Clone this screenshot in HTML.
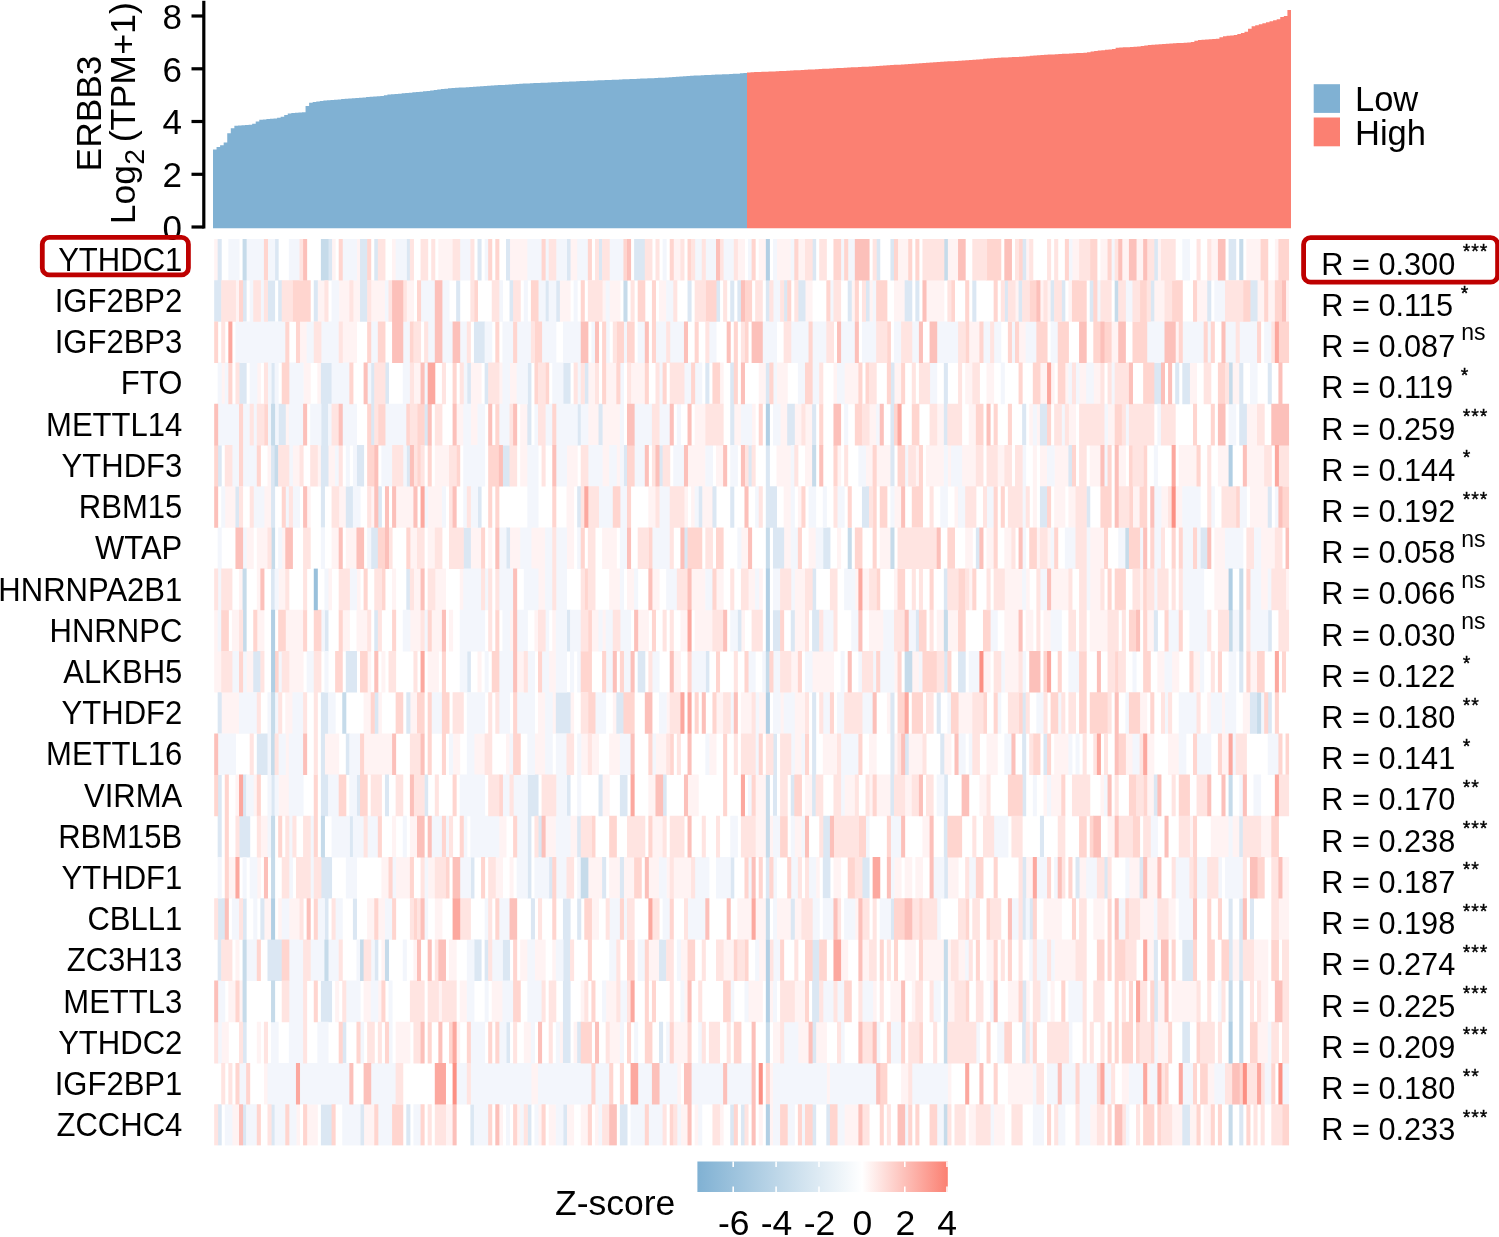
<!DOCTYPE html>
<html><head><meta charset="utf-8"><style>
html,body{margin:0;padding:0;background:#fff;overflow:hidden;}
svg{display:block;will-change:transform;}
text{font-family:"Liberation Sans", sans-serif;fill:#000;}
</style></head><body>
<svg width="1499" height="1237" viewBox="0 0 1499 1237">
<rect width="1499" height="1237" fill="#fff"/>
<!-- bars -->
<path fill="#80B1D3" d="M213,228.2V149.57H216.56V146.89H220.12V145.31H223.68V142.42H227.24V133.36H230.80V128.21H234.36V125.77H237.92V125.51H241.48V125.26H245.04V125.00H248.60V124.75H252.16V123.67H255.72V121.39H259.28V119.78H262.84V119.44H266.40V119.10H269.96V118.75H273.52V118.41H277.08V117.79H280.64V116.73H284.20V115.11H287.76V113.58H291.32V112.91H294.88V112.71H298.44V112.51H302.00V112.31H305.56V105.98H309.12V102.79H312.68V102.12H316.24V101.50H319.80V100.91H323.36V100.47H326.92V100.20H330.48V99.92H334.04V99.65H337.60V99.38H341.16V99.10H344.72V98.83H348.28V98.55H351.84V98.26H355.40V97.97H358.96V97.68H362.52V97.39H366.08V97.10H369.64V96.82H373.20V96.53H376.76V96.24H380.32V95.88H383.88V95.19H387.44V94.61H391.00V94.28H394.56V93.96H398.12V93.63H401.68V93.31H405.24V92.98H408.80V92.66H412.36V92.33H415.92V92.01H419.48V91.68H423.04V91.36H426.60V90.93H430.16V90.47H433.72V90.02H437.28V89.57H440.84V89.11H444.40V88.66H447.96V88.30H451.52V88.07H455.08V87.85H458.64V87.62H462.20V87.39H465.76V87.17H469.32V86.94H472.88V86.71H476.44V86.48H480.00V86.26H483.56V86.03H487.12V85.80H490.68V85.57H494.24V85.34H497.80V85.11H501.36V84.88H504.92V84.65H508.48V84.42H512.04V84.19H515.60V83.96H519.16V83.73H522.72V83.57H526.28V83.41H529.84V83.25H533.40V83.10H536.96V82.94H540.52V82.79H544.08V82.63H547.64V82.47H551.20V82.32H554.76V82.16H558.32V82.00H561.88V81.85H565.44V81.69H569.00V81.53H572.56V81.38H576.12V81.22H579.68V81.07H583.24V80.93H586.80V80.79H590.36V80.64H593.92V80.50H597.48V80.36H601.04V80.22H604.60V80.08H608.16V79.94H611.72V79.79H615.28V79.65H618.84V79.51H622.40V79.37H625.96V79.23H629.52V79.09H633.08V78.94H636.64V78.78H640.20V78.62H643.76V78.46H647.32V78.30H650.88V78.14H654.44V77.98H658.00V77.82H661.56V77.64H665.12V77.39H668.68V77.14H672.24V76.89H675.80V76.64H679.36V76.39H682.92V76.14H686.48V75.89H690.04V75.70H693.60V75.54H697.16V75.39H700.72V75.23H704.28V75.07H707.84V74.92H711.40V74.76H714.96V74.61H718.52V74.45H722.08V74.30H725.64V74.14H729.20V73.98H732.76V73.83H736.32V73.64H739.88V73.28H743.44V72.93H747.00V228.2Z"/>
<path fill="#FB8072" d="M747,228.2V72.39H750.58V72.25H754.16V72.11H757.74V71.97H761.32V71.83H764.89V71.70H768.47V71.56H772.05V71.42H775.63V71.28H779.21V71.12H782.79V70.93H786.37V70.74H789.95V70.55H793.53V70.36H797.11V70.16H800.68V69.97H804.26V69.78H807.84V69.59H811.42V69.40H815.00V69.21H818.58V69.02H822.16V68.83H825.74V68.64H829.32V68.45H832.89V68.27H836.47V68.09H840.05V67.91H843.63V67.72H847.21V67.54H850.79V67.36H854.37V67.18H857.95V67.00H861.53V66.82H865.11V66.63H868.68V66.45H872.26V66.24H875.84V66.01H879.42V65.78H883.00V65.56H886.58V65.33H890.16V65.10H893.74V64.87H897.32V64.65H900.89V64.42H904.47V64.19H908.05V63.97H911.63V63.74H915.21V63.51H918.79V63.28H922.37V63.06H925.95V62.81H929.53V62.57H933.11V62.33H936.68V62.09H940.26V61.85H943.84V61.61H947.42V61.37H951.00V61.13H954.58V60.89H958.16V60.65H961.74V60.41H965.32V60.16H968.89V59.92H972.47V59.68H976.05V59.42H979.63V59.14H983.21V58.87H986.79V58.59H990.37V58.32H993.95V58.04H997.53V57.77H1001.11V57.54H1004.68V57.38H1008.26V57.21H1011.84V57.05H1015.42V56.89H1019.00V56.73H1022.58V56.46H1026.16V56.15H1029.74V55.85H1033.32V55.54H1036.89V55.24H1040.47V54.96H1044.05V54.77H1047.63V54.59H1051.21V54.40H1054.79V54.21H1058.37V54.02H1061.95V53.84H1065.53V53.65H1069.11V53.46H1072.68V53.28H1076.26V53.09H1079.84V52.90H1083.42V52.71H1087.00V52.15H1090.58V51.55H1094.16V50.96H1097.74V50.50H1101.32V50.14H1104.89V49.78H1108.47V49.42H1112.05V48.93H1115.63V47.74H1119.21V47.55H1122.79V47.37H1126.37V47.18H1129.95V47.00H1133.53V46.81H1137.11V46.50H1140.68V45.99H1144.26V45.49H1147.84V44.99H1151.42V44.75H1155.00V44.51H1158.58V44.27H1162.16V44.03H1165.74V43.79H1169.32V43.55H1172.89V43.31H1176.47V43.12H1180.05V42.92H1183.63V42.73H1187.21V42.53H1190.79V42.02H1194.37V40.80H1197.95V39.94H1201.53V39.72H1205.11V39.50H1208.68V39.27H1212.26V39.05H1215.84V38.65H1219.42V37.32H1223.00V36.15H1226.58V35.85H1230.16V35.55H1233.74V34.95H1237.32V34.08H1240.89V32.98H1244.47V31.68H1248.05V28.70H1251.63V26.29H1255.21V25.15H1258.79V24.16H1262.37V23.19H1265.95V22.22H1269.53V21.25H1273.11V20.30H1276.68V19.36H1280.26V17.02H1283.84V16.10H1287.42V9.90H1291.00V228.2Z"/>
<!-- y axis -->
<g stroke="#000" stroke-width="3.2" fill="none">
<line x1="203.8" y1="0.8" x2="203.8" y2="228.5"/>
<line x1="191.5" y1="16" x2="203.8" y2="16"/>
<line x1="191.5" y1="68.8" x2="203.8" y2="68.8"/>
<line x1="191.5" y1="121.5" x2="203.8" y2="121.5"/>
<line x1="191.5" y1="174.3" x2="203.8" y2="174.3"/>
<line x1="191.5" y1="227" x2="203.8" y2="227"/>
</g>
<g font-size="35" text-anchor="end">
<text x="182" y="28.8">8</text>
<text x="182" y="81.6">6</text>
<text x="182" y="134.3">4</text>
<text x="182" y="187.1">2</text>
<text x="182" y="239.8">0</text>
</g>
<text font-size="35.3" transform="translate(101.3,171.4) rotate(-90)">ERBB3</text>
<g transform="translate(134.5,0) rotate(-90)">
<text font-size="35.5" x="-224.3" y="0">Log</text>
<text font-size="28.5" x="-164.8" y="9.7">2</text>
<text font-size="35.8" x="-142.3" y="0">(TPM+1)</text>
</g>
<!-- legend -->
<rect x="1313.7" y="84.2" width="26.3" height="28.7" fill="#80B1D3"/>
<rect x="1313.7" y="117.5" width="26.3" height="28.8" fill="#FB8072"/>
<text x="1355" y="111.4" font-size="34.5">Low</text>
<text x="1355" y="144.7" font-size="34.5">High</text>
<!-- heatmap -->
<filter id="hb" x="-1%" y="-1%" width="102%" height="102%"><feGaussianBlur stdDeviation="0.5"/></filter>
<clipPath id="hc"><rect x="214.1" y="239.0" width="1075.00" height="906.40"/></clipPath>
<g clip-path="url(#hc)"><g filter="url(#hb)">
<path fill="#fff3f3" d="M214.10 239.0h4.06v41.6h-4.06zM331.57 239.0h4.06v41.6h-4.06zM356.48 239.0h4.06v41.6h-4.06zM392.08 239.0h4.06v41.6h-4.06zM438.35 239.0h4.06v41.6h-4.06zM441.91 239.0h4.06v41.6h-4.06zM445.47 239.0h4.06v41.6h-4.06zM449.03 239.0h4.06v41.6h-4.06zM509.55 239.0h4.06v41.6h-4.06zM513.11 239.0h4.06v41.6h-4.06zM516.67 239.0h4.06v41.6h-4.06zM520.23 239.0h4.06v41.6h-4.06zM523.79 239.0h4.06v41.6h-4.06zM570.06 239.0h4.06v41.6h-4.06zM573.62 239.0h4.06v41.6h-4.06zM673.29 239.0h4.06v41.6h-4.06zM676.85 239.0h4.06v41.6h-4.06zM737.36 239.0h4.06v41.6h-4.06zM740.92 239.0h4.06v41.6h-4.06zM758.72 239.0h4.06v41.6h-4.06zM762.28 239.0h4.06v41.6h-4.06zM776.52 239.0h4.06v41.6h-4.06zM780.08 239.0h4.06v41.6h-4.06zM783.64 239.0h4.06v41.6h-4.06zM787.20 239.0h4.06v41.6h-4.06zM797.87 239.0h4.06v41.6h-4.06zM801.43 239.0h4.06v41.6h-4.06zM897.54 239.0h4.06v41.6h-4.06zM901.10 239.0h4.06v41.6h-4.06zM904.66 239.0h4.06v41.6h-4.06zM947.38 239.0h4.06v41.6h-4.06zM950.94 239.0h4.06v41.6h-4.06zM954.50 239.0h4.06v41.6h-4.06zM1025.69 239.0h4.06v41.6h-4.06zM1071.96 239.0h4.06v41.6h-4.06zM1075.52 239.0h4.06v41.6h-4.06zM1100.44 239.0h4.06v41.6h-4.06zM1104.00 239.0h4.06v41.6h-4.06zM1121.80 239.0h4.06v41.6h-4.06zM1125.36 239.0h4.06v41.6h-4.06zM1136.04 239.0h4.06v41.6h-4.06zM1139.60 239.0h4.06v41.6h-4.06zM1157.39 239.0h4.06v41.6h-4.06zM1210.79 239.0h4.06v41.6h-4.06zM1214.35 239.0h4.06v41.6h-4.06zM1246.38 239.0h4.06v41.6h-4.06zM1249.94 239.0h4.06v41.6h-4.06zM1253.50 239.0h4.06v41.6h-4.06zM1257.06 239.0h4.06v41.6h-4.06zM1274.86 239.0h4.06v41.6h-4.06zM235.46 280.2h4.06v41.6h-4.06zM317.33 280.2h4.06v41.6h-4.06zM320.89 280.2h4.06v41.6h-4.06zM338.69 280.2h4.06v41.6h-4.06zM342.25 280.2h4.06v41.6h-4.06zM345.81 280.2h4.06v41.6h-4.06zM352.92 280.2h4.06v41.6h-4.06zM356.48 280.2h4.06v41.6h-4.06zM370.72 280.2h4.06v41.6h-4.06zM374.28 280.2h4.06v41.6h-4.06zM377.84 280.2h4.06v41.6h-4.06zM381.40 280.2h4.06v41.6h-4.06zM406.32 280.2h4.06v41.6h-4.06zM409.88 280.2h4.06v41.6h-4.06zM559.38 280.2h4.06v41.6h-4.06zM562.94 280.2h4.06v41.6h-4.06zM566.50 280.2h4.06v41.6h-4.06zM602.10 280.2h4.06v41.6h-4.06zM609.22 280.2h4.06v41.6h-4.06zM612.78 280.2h4.06v41.6h-4.06zM616.34 280.2h4.06v41.6h-4.06zM659.05 280.2h4.06v41.6h-4.06zM662.61 280.2h4.06v41.6h-4.06zM804.99 280.2h4.06v41.6h-4.06zM808.55 280.2h4.06v41.6h-4.06zM851.27 280.2h4.06v41.6h-4.06zM869.07 280.2h4.06v41.6h-4.06zM893.98 280.2h4.06v41.6h-4.06zM897.54 280.2h4.06v41.6h-4.06zM901.10 280.2h4.06v41.6h-4.06zM926.02 280.2h4.06v41.6h-4.06zM929.58 280.2h4.06v41.6h-4.06zM933.14 280.2h4.06v41.6h-4.06zM936.70 280.2h4.06v41.6h-4.06zM940.26 280.2h4.06v41.6h-4.06zM1015.01 280.2h4.06v41.6h-4.06zM1039.93 280.2h4.06v41.6h-4.06zM1047.05 280.2h4.06v41.6h-4.06zM1068.40 280.2h4.06v41.6h-4.06zM1153.84 280.2h4.06v41.6h-4.06zM1157.39 280.2h4.06v41.6h-4.06zM1160.95 280.2h4.06v41.6h-4.06zM1196.55 280.2h4.06v41.6h-4.06zM1200.11 280.2h4.06v41.6h-4.06zM1203.67 280.2h4.06v41.6h-4.06zM1257.06 280.2h4.06v41.6h-4.06zM1260.62 280.2h4.06v41.6h-4.06zM1267.74 280.2h4.06v41.6h-4.06zM1271.30 280.2h4.06v41.6h-4.06zM1285.54 280.2h4.06v41.6h-4.06zM299.53 321.4h4.06v41.6h-4.06zM303.09 321.4h4.06v41.6h-4.06zM342.25 321.4h4.06v41.6h-4.06zM345.81 321.4h4.06v41.6h-4.06zM349.36 321.4h4.06v41.6h-4.06zM352.92 321.4h4.06v41.6h-4.06zM968.74 321.4h4.06v41.6h-4.06zM972.30 321.4h4.06v41.6h-4.06zM975.85 321.4h4.06v41.6h-4.06zM1018.57 321.4h4.06v41.6h-4.06zM1022.13 321.4h4.06v41.6h-4.06zM1111.12 321.4h4.06v41.6h-4.06zM1114.68 321.4h4.06v41.6h-4.06zM1175.19 321.4h4.06v41.6h-4.06zM221.22 362.6h4.06v41.6h-4.06zM256.82 362.6h4.06v41.6h-4.06zM303.09 362.6h4.06v41.6h-4.06zM306.65 362.6h4.06v41.6h-4.06zM317.33 362.6h4.06v41.6h-4.06zM413.44 362.6h4.06v41.6h-4.06zM417.00 362.6h4.06v41.6h-4.06zM470.39 362.6h4.06v41.6h-4.06zM473.95 362.6h4.06v41.6h-4.06zM477.51 362.6h4.06v41.6h-4.06zM498.87 362.6h4.06v41.6h-4.06zM509.55 362.6h4.06v41.6h-4.06zM513.11 362.6h4.06v41.6h-4.06zM587.86 362.6h4.06v41.6h-4.06zM591.42 362.6h4.06v41.6h-4.06zM605.66 362.6h4.06v41.6h-4.06zM609.22 362.6h4.06v41.6h-4.06zM612.78 362.6h4.06v41.6h-4.06zM630.57 362.6h4.06v41.6h-4.06zM634.13 362.6h4.06v41.6h-4.06zM637.69 362.6h4.06v41.6h-4.06zM641.25 362.6h4.06v41.6h-4.06zM719.56 362.6h4.06v41.6h-4.06zM758.72 362.6h4.06v41.6h-4.06zM762.28 362.6h4.06v41.6h-4.06zM776.52 362.6h4.06v41.6h-4.06zM780.08 362.6h4.06v41.6h-4.06zM783.64 362.6h4.06v41.6h-4.06zM833.47 362.6h4.06v41.6h-4.06zM844.15 362.6h4.06v41.6h-4.06zM847.71 362.6h4.06v41.6h-4.06zM851.27 362.6h4.06v41.6h-4.06zM854.83 362.6h4.06v41.6h-4.06zM893.98 362.6h4.06v41.6h-4.06zM897.54 362.6h4.06v41.6h-4.06zM965.18 362.6h4.06v41.6h-4.06zM968.74 362.6h4.06v41.6h-4.06zM986.53 362.6h4.06v41.6h-4.06zM990.09 362.6h4.06v41.6h-4.06zM1039.93 362.6h4.06v41.6h-4.06zM1043.49 362.6h4.06v41.6h-4.06zM1050.61 362.6h4.06v41.6h-4.06zM1064.85 362.6h4.06v41.6h-4.06zM1079.08 362.6h4.06v41.6h-4.06zM1082.64 362.6h4.06v41.6h-4.06zM1093.32 362.6h4.06v41.6h-4.06zM1096.88 362.6h4.06v41.6h-4.06zM1189.43 362.6h4.06v41.6h-4.06zM1192.99 362.6h4.06v41.6h-4.06zM1232.15 362.6h4.06v41.6h-4.06zM1235.71 362.6h4.06v41.6h-4.06zM285.29 403.8h4.06v41.6h-4.06zM456.15 403.8h4.06v41.6h-4.06zM459.71 403.8h4.06v41.6h-4.06zM470.39 403.8h4.06v41.6h-4.06zM473.95 403.8h4.06v41.6h-4.06zM520.23 403.8h4.06v41.6h-4.06zM523.79 403.8h4.06v41.6h-4.06zM587.86 403.8h4.06v41.6h-4.06zM591.42 403.8h4.06v41.6h-4.06zM594.98 403.8h4.06v41.6h-4.06zM602.10 403.8h4.06v41.6h-4.06zM605.66 403.8h4.06v41.6h-4.06zM609.22 403.8h4.06v41.6h-4.06zM612.78 403.8h4.06v41.6h-4.06zM616.34 403.8h4.06v41.6h-4.06zM694.65 403.8h4.06v41.6h-4.06zM698.21 403.8h4.06v41.6h-4.06zM701.77 403.8h4.06v41.6h-4.06zM733.80 403.8h4.06v41.6h-4.06zM737.36 403.8h4.06v41.6h-4.06zM751.60 403.8h4.06v41.6h-4.06zM780.08 403.8h4.06v41.6h-4.06zM783.64 403.8h4.06v41.6h-4.06zM794.32 403.8h4.06v41.6h-4.06zM797.87 403.8h4.06v41.6h-4.06zM804.99 403.8h4.06v41.6h-4.06zM808.55 403.8h4.06v41.6h-4.06zM869.07 403.8h4.06v41.6h-4.06zM872.63 403.8h4.06v41.6h-4.06zM936.70 403.8h4.06v41.6h-4.06zM940.26 403.8h4.06v41.6h-4.06zM968.74 403.8h4.06v41.6h-4.06zM972.30 403.8h4.06v41.6h-4.06zM1029.25 403.8h4.06v41.6h-4.06zM1036.37 403.8h4.06v41.6h-4.06zM1068.40 403.8h4.06v41.6h-4.06zM1071.96 403.8h4.06v41.6h-4.06zM1107.56 403.8h4.06v41.6h-4.06zM1111.12 403.8h4.06v41.6h-4.06zM1246.38 403.8h4.06v41.6h-4.06zM1249.94 403.8h4.06v41.6h-4.06zM1253.50 403.8h4.06v41.6h-4.06zM267.49 445.0h4.06v41.6h-4.06zM292.41 445.0h4.06v41.6h-4.06zM295.97 445.0h4.06v41.6h-4.06zM317.33 445.0h4.06v41.6h-4.06zM328.01 445.0h4.06v41.6h-4.06zM331.57 445.0h4.06v41.6h-4.06zM434.80 445.0h4.06v41.6h-4.06zM438.35 445.0h4.06v41.6h-4.06zM441.91 445.0h4.06v41.6h-4.06zM445.47 445.0h4.06v41.6h-4.06zM520.23 445.0h4.06v41.6h-4.06zM523.79 445.0h4.06v41.6h-4.06zM566.50 445.0h4.06v41.6h-4.06zM570.06 445.0h4.06v41.6h-4.06zM573.62 445.0h4.06v41.6h-4.06zM602.10 445.0h4.06v41.6h-4.06zM605.66 445.0h4.06v41.6h-4.06zM616.34 445.0h4.06v41.6h-4.06zM687.53 445.0h4.06v41.6h-4.06zM691.09 445.0h4.06v41.6h-4.06zM694.65 445.0h4.06v41.6h-4.06zM698.21 445.0h4.06v41.6h-4.06zM701.77 445.0h4.06v41.6h-4.06zM716.00 445.0h4.06v41.6h-4.06zM719.56 445.0h4.06v41.6h-4.06zM776.52 445.0h4.06v41.6h-4.06zM780.08 445.0h4.06v41.6h-4.06zM783.64 445.0h4.06v41.6h-4.06zM787.20 445.0h4.06v41.6h-4.06zM804.99 445.0h4.06v41.6h-4.06zM808.55 445.0h4.06v41.6h-4.06zM837.03 445.0h4.06v41.6h-4.06zM865.51 445.0h4.06v41.6h-4.06zM869.07 445.0h4.06v41.6h-4.06zM876.19 445.0h4.06v41.6h-4.06zM879.75 445.0h4.06v41.6h-4.06zM883.31 445.0h4.06v41.6h-4.06zM886.86 445.0h4.06v41.6h-4.06zM915.34 445.0h4.06v41.6h-4.06zM926.02 445.0h4.06v41.6h-4.06zM929.58 445.0h4.06v41.6h-4.06zM933.14 445.0h4.06v41.6h-4.06zM936.70 445.0h4.06v41.6h-4.06zM940.26 445.0h4.06v41.6h-4.06zM947.38 445.0h4.06v41.6h-4.06zM961.62 445.0h4.06v41.6h-4.06zM965.18 445.0h4.06v41.6h-4.06zM968.74 445.0h4.06v41.6h-4.06zM972.30 445.0h4.06v41.6h-4.06zM997.21 445.0h4.06v41.6h-4.06zM1000.77 445.0h4.06v41.6h-4.06zM1032.81 445.0h4.06v41.6h-4.06zM1039.93 445.0h4.06v41.6h-4.06zM1043.49 445.0h4.06v41.6h-4.06zM1054.17 445.0h4.06v41.6h-4.06zM1057.73 445.0h4.06v41.6h-4.06zM1061.29 445.0h4.06v41.6h-4.06zM1064.85 445.0h4.06v41.6h-4.06zM1089.76 445.0h4.06v41.6h-4.06zM1093.32 445.0h4.06v41.6h-4.06zM1096.88 445.0h4.06v41.6h-4.06zM1118.24 445.0h4.06v41.6h-4.06zM1121.80 445.0h4.06v41.6h-4.06zM1178.75 445.0h4.06v41.6h-4.06zM1182.31 445.0h4.06v41.6h-4.06zM1185.87 445.0h4.06v41.6h-4.06zM1189.43 445.0h4.06v41.6h-4.06zM1192.99 445.0h4.06v41.6h-4.06zM1217.91 445.0h4.06v41.6h-4.06zM1221.47 445.0h4.06v41.6h-4.06zM1225.03 445.0h4.06v41.6h-4.06zM1246.38 445.0h4.06v41.6h-4.06zM1249.94 445.0h4.06v41.6h-4.06zM1253.50 445.0h4.06v41.6h-4.06zM1257.06 445.0h4.06v41.6h-4.06zM1260.62 445.0h4.06v41.6h-4.06zM224.78 486.2h4.06v41.6h-4.06zM228.34 486.2h4.06v41.6h-4.06zM231.90 486.2h4.06v41.6h-4.06zM263.93 486.2h4.06v41.6h-4.06zM267.49 486.2h4.06v41.6h-4.06zM306.65 486.2h4.06v41.6h-4.06zM338.69 486.2h4.06v41.6h-4.06zM342.25 486.2h4.06v41.6h-4.06zM370.72 486.2h4.06v41.6h-4.06zM395.64 486.2h4.06v41.6h-4.06zM399.20 486.2h4.06v41.6h-4.06zM402.76 486.2h4.06v41.6h-4.06zM406.32 486.2h4.06v41.6h-4.06zM409.88 486.2h4.06v41.6h-4.06zM427.68 486.2h4.06v41.6h-4.06zM431.24 486.2h4.06v41.6h-4.06zM434.80 486.2h4.06v41.6h-4.06zM438.35 486.2h4.06v41.6h-4.06zM566.50 486.2h4.06v41.6h-4.06zM570.06 486.2h4.06v41.6h-4.06zM648.37 486.2h4.06v41.6h-4.06zM651.93 486.2h4.06v41.6h-4.06zM683.97 486.2h4.06v41.6h-4.06zM691.09 486.2h4.06v41.6h-4.06zM701.77 486.2h4.06v41.6h-4.06zM705.33 486.2h4.06v41.6h-4.06zM708.88 486.2h4.06v41.6h-4.06zM783.64 486.2h4.06v41.6h-4.06zM787.20 486.2h4.06v41.6h-4.06zM797.87 486.2h4.06v41.6h-4.06zM893.98 486.2h4.06v41.6h-4.06zM897.54 486.2h4.06v41.6h-4.06zM954.50 486.2h4.06v41.6h-4.06zM1032.81 486.2h4.06v41.6h-4.06zM1054.17 486.2h4.06v41.6h-4.06zM1057.73 486.2h4.06v41.6h-4.06zM1061.29 486.2h4.06v41.6h-4.06zM1068.40 486.2h4.06v41.6h-4.06zM1071.96 486.2h4.06v41.6h-4.06zM1132.48 486.2h4.06v41.6h-4.06zM1136.04 486.2h4.06v41.6h-4.06zM1160.95 486.2h4.06v41.6h-4.06zM1164.51 486.2h4.06v41.6h-4.06zM1175.19 486.2h4.06v41.6h-4.06zM1178.75 486.2h4.06v41.6h-4.06zM1249.94 486.2h4.06v41.6h-4.06zM1253.50 486.2h4.06v41.6h-4.06zM1257.06 486.2h4.06v41.6h-4.06zM1260.62 486.2h4.06v41.6h-4.06zM1264.18 486.2h4.06v41.6h-4.06zM246.14 527.4h4.06v41.6h-4.06zM249.70 527.4h4.06v41.6h-4.06zM256.82 527.4h4.06v41.6h-4.06zM260.37 527.4h4.06v41.6h-4.06zM263.93 527.4h4.06v41.6h-4.06zM281.73 527.4h4.06v41.6h-4.06zM331.57 527.4h4.06v41.6h-4.06zM335.13 527.4h4.06v41.6h-4.06zM345.81 527.4h4.06v41.6h-4.06zM349.36 527.4h4.06v41.6h-4.06zM352.92 527.4h4.06v41.6h-4.06zM409.88 527.4h4.06v41.6h-4.06zM413.44 527.4h4.06v41.6h-4.06zM427.68 527.4h4.06v41.6h-4.06zM431.24 527.4h4.06v41.6h-4.06zM470.39 527.4h4.06v41.6h-4.06zM473.95 527.4h4.06v41.6h-4.06zM477.51 527.4h4.06v41.6h-4.06zM488.19 527.4h4.06v41.6h-4.06zM509.55 527.4h4.06v41.6h-4.06zM513.11 527.4h4.06v41.6h-4.06zM516.67 527.4h4.06v41.6h-4.06zM530.90 527.4h4.06v41.6h-4.06zM534.46 527.4h4.06v41.6h-4.06zM538.02 527.4h4.06v41.6h-4.06zM541.58 527.4h4.06v41.6h-4.06zM566.50 527.4h4.06v41.6h-4.06zM570.06 527.4h4.06v41.6h-4.06zM602.10 527.4h4.06v41.6h-4.06zM605.66 527.4h4.06v41.6h-4.06zM609.22 527.4h4.06v41.6h-4.06zM612.78 527.4h4.06v41.6h-4.06zM740.92 527.4h4.06v41.6h-4.06zM744.48 527.4h4.06v41.6h-4.06zM783.64 527.4h4.06v41.6h-4.06zM787.20 527.4h4.06v41.6h-4.06zM808.55 527.4h4.06v41.6h-4.06zM812.11 527.4h4.06v41.6h-4.06zM837.03 527.4h4.06v41.6h-4.06zM879.75 527.4h4.06v41.6h-4.06zM883.31 527.4h4.06v41.6h-4.06zM886.86 527.4h4.06v41.6h-4.06zM965.18 527.4h4.06v41.6h-4.06zM968.74 527.4h4.06v41.6h-4.06zM986.53 527.4h4.06v41.6h-4.06zM990.09 527.4h4.06v41.6h-4.06zM1004.33 527.4h4.06v41.6h-4.06zM1007.89 527.4h4.06v41.6h-4.06zM1036.37 527.4h4.06v41.6h-4.06zM1047.05 527.4h4.06v41.6h-4.06zM1089.76 527.4h4.06v41.6h-4.06zM1093.32 527.4h4.06v41.6h-4.06zM1096.88 527.4h4.06v41.6h-4.06zM1100.44 527.4h4.06v41.6h-4.06zM1214.35 527.4h4.06v41.6h-4.06zM1217.91 527.4h4.06v41.6h-4.06zM1221.47 527.4h4.06v41.6h-4.06zM1260.62 527.4h4.06v41.6h-4.06zM1264.18 527.4h4.06v41.6h-4.06zM1267.74 527.4h4.06v41.6h-4.06zM1271.30 527.4h4.06v41.6h-4.06zM239.02 568.6h4.06v41.6h-4.06zM256.82 568.6h4.06v41.6h-4.06zM278.17 568.6h4.06v41.6h-4.06zM281.73 568.6h4.06v41.6h-4.06zM328.01 568.6h4.06v41.6h-4.06zM356.48 568.6h4.06v41.6h-4.06zM392.08 568.6h4.06v41.6h-4.06zM413.44 568.6h4.06v41.6h-4.06zM417.00 568.6h4.06v41.6h-4.06zM434.80 568.6h4.06v41.6h-4.06zM438.35 568.6h4.06v41.6h-4.06zM441.91 568.6h4.06v41.6h-4.06zM459.71 568.6h4.06v41.6h-4.06zM538.02 568.6h4.06v41.6h-4.06zM541.58 568.6h4.06v41.6h-4.06zM609.22 568.6h4.06v41.6h-4.06zM612.78 568.6h4.06v41.6h-4.06zM616.34 568.6h4.06v41.6h-4.06zM627.01 568.6h4.06v41.6h-4.06zM630.57 568.6h4.06v41.6h-4.06zM651.93 568.6h4.06v41.6h-4.06zM655.49 568.6h4.06v41.6h-4.06zM691.09 568.6h4.06v41.6h-4.06zM694.65 568.6h4.06v41.6h-4.06zM698.21 568.6h4.06v41.6h-4.06zM701.77 568.6h4.06v41.6h-4.06zM716.00 568.6h4.06v41.6h-4.06zM719.56 568.6h4.06v41.6h-4.06zM748.04 568.6h4.06v41.6h-4.06zM751.60 568.6h4.06v41.6h-4.06zM758.72 568.6h4.06v41.6h-4.06zM794.32 568.6h4.06v41.6h-4.06zM797.87 568.6h4.06v41.6h-4.06zM801.43 568.6h4.06v41.6h-4.06zM854.83 568.6h4.06v41.6h-4.06zM861.95 568.6h4.06v41.6h-4.06zM865.51 568.6h4.06v41.6h-4.06zM893.98 568.6h4.06v41.6h-4.06zM968.74 568.6h4.06v41.6h-4.06zM1004.33 568.6h4.06v41.6h-4.06zM1007.89 568.6h4.06v41.6h-4.06zM1011.45 568.6h4.06v41.6h-4.06zM1015.01 568.6h4.06v41.6h-4.06zM1018.57 568.6h4.06v41.6h-4.06zM1025.69 568.6h4.06v41.6h-4.06zM1050.61 568.6h4.06v41.6h-4.06zM1054.17 568.6h4.06v41.6h-4.06zM1057.73 568.6h4.06v41.6h-4.06zM1061.29 568.6h4.06v41.6h-4.06zM1064.85 568.6h4.06v41.6h-4.06zM1089.76 568.6h4.06v41.6h-4.06zM1093.32 568.6h4.06v41.6h-4.06zM1096.88 568.6h4.06v41.6h-4.06zM1139.60 568.6h4.06v41.6h-4.06zM1214.35 568.6h4.06v41.6h-4.06zM1217.91 568.6h4.06v41.6h-4.06zM1221.47 568.6h4.06v41.6h-4.06zM1225.03 568.6h4.06v41.6h-4.06zM1260.62 568.6h4.06v41.6h-4.06zM1264.18 568.6h4.06v41.6h-4.06zM1285.54 568.6h4.06v41.6h-4.06zM214.10 609.8h4.06v41.6h-4.06zM231.90 609.8h4.06v41.6h-4.06zM235.46 609.8h4.06v41.6h-4.06zM256.82 609.8h4.06v41.6h-4.06zM260.37 609.8h4.06v41.6h-4.06zM285.29 609.8h4.06v41.6h-4.06zM288.85 609.8h4.06v41.6h-4.06zM292.41 609.8h4.06v41.6h-4.06zM295.97 609.8h4.06v41.6h-4.06zM299.53 609.8h4.06v41.6h-4.06zM342.25 609.8h4.06v41.6h-4.06zM345.81 609.8h4.06v41.6h-4.06zM356.48 609.8h4.06v41.6h-4.06zM360.04 609.8h4.06v41.6h-4.06zM363.60 609.8h4.06v41.6h-4.06zM409.88 609.8h4.06v41.6h-4.06zM413.44 609.8h4.06v41.6h-4.06zM417.00 609.8h4.06v41.6h-4.06zM431.24 609.8h4.06v41.6h-4.06zM434.80 609.8h4.06v41.6h-4.06zM438.35 609.8h4.06v41.6h-4.06zM449.03 609.8h4.06v41.6h-4.06zM509.55 609.8h4.06v41.6h-4.06zM534.46 609.8h4.06v41.6h-4.06zM552.26 609.8h4.06v41.6h-4.06zM591.42 609.8h4.06v41.6h-4.06zM594.98 609.8h4.06v41.6h-4.06zM602.10 609.8h4.06v41.6h-4.06zM637.69 609.8h4.06v41.6h-4.06zM641.25 609.8h4.06v41.6h-4.06zM644.81 609.8h4.06v41.6h-4.06zM680.41 609.8h4.06v41.6h-4.06zM683.97 609.8h4.06v41.6h-4.06zM694.65 609.8h4.06v41.6h-4.06zM698.21 609.8h4.06v41.6h-4.06zM701.77 609.8h4.06v41.6h-4.06zM705.33 609.8h4.06v41.6h-4.06zM708.88 609.8h4.06v41.6h-4.06zM740.92 609.8h4.06v41.6h-4.06zM794.32 609.8h4.06v41.6h-4.06zM797.87 609.8h4.06v41.6h-4.06zM801.43 609.8h4.06v41.6h-4.06zM869.07 609.8h4.06v41.6h-4.06zM872.63 609.8h4.06v41.6h-4.06zM876.19 609.8h4.06v41.6h-4.06zM879.75 609.8h4.06v41.6h-4.06zM936.70 609.8h4.06v41.6h-4.06zM940.26 609.8h4.06v41.6h-4.06zM947.38 609.8h4.06v41.6h-4.06zM950.94 609.8h4.06v41.6h-4.06zM954.50 609.8h4.06v41.6h-4.06zM1004.33 609.8h4.06v41.6h-4.06zM1007.89 609.8h4.06v41.6h-4.06zM1011.45 609.8h4.06v41.6h-4.06zM1015.01 609.8h4.06v41.6h-4.06zM1025.69 609.8h4.06v41.6h-4.06zM1029.25 609.8h4.06v41.6h-4.06zM1043.49 609.8h4.06v41.6h-4.06zM1047.05 609.8h4.06v41.6h-4.06zM1089.76 609.8h4.06v41.6h-4.06zM1093.32 609.8h4.06v41.6h-4.06zM1096.88 609.8h4.06v41.6h-4.06zM1100.44 609.8h4.06v41.6h-4.06zM1104.00 609.8h4.06v41.6h-4.06zM1146.72 609.8h4.06v41.6h-4.06zM1150.28 609.8h4.06v41.6h-4.06zM214.10 651.0h4.06v41.6h-4.06zM217.66 651.0h4.06v41.6h-4.06zM246.14 651.0h4.06v41.6h-4.06zM249.70 651.0h4.06v41.6h-4.06zM288.85 651.0h4.06v41.6h-4.06zM292.41 651.0h4.06v41.6h-4.06zM295.97 651.0h4.06v41.6h-4.06zM299.53 651.0h4.06v41.6h-4.06zM367.16 651.0h4.06v41.6h-4.06zM381.40 651.0h4.06v41.6h-4.06zM427.68 651.0h4.06v41.6h-4.06zM431.24 651.0h4.06v41.6h-4.06zM434.80 651.0h4.06v41.6h-4.06zM477.51 651.0h4.06v41.6h-4.06zM516.67 651.0h4.06v41.6h-4.06zM520.23 651.0h4.06v41.6h-4.06zM548.70 651.0h4.06v41.6h-4.06zM552.26 651.0h4.06v41.6h-4.06zM673.29 651.0h4.06v41.6h-4.06zM676.85 651.0h4.06v41.6h-4.06zM790.76 651.0h4.06v41.6h-4.06zM794.32 651.0h4.06v41.6h-4.06zM812.11 651.0h4.06v41.6h-4.06zM815.67 651.0h4.06v41.6h-4.06zM819.23 651.0h4.06v41.6h-4.06zM822.79 651.0h4.06v41.6h-4.06zM826.35 651.0h4.06v41.6h-4.06zM829.91 651.0h4.06v41.6h-4.06zM893.98 651.0h4.06v41.6h-4.06zM911.78 651.0h4.06v41.6h-4.06zM915.34 651.0h4.06v41.6h-4.06zM982.97 651.0h4.06v41.6h-4.06zM986.53 651.0h4.06v41.6h-4.06zM1004.33 651.0h4.06v41.6h-4.06zM1007.89 651.0h4.06v41.6h-4.06zM1011.45 651.0h4.06v41.6h-4.06zM1015.01 651.0h4.06v41.6h-4.06zM1157.39 651.0h4.06v41.6h-4.06zM1160.95 651.0h4.06v41.6h-4.06zM1171.63 651.0h4.06v41.6h-4.06zM1175.19 651.0h4.06v41.6h-4.06zM1192.99 651.0h4.06v41.6h-4.06zM1196.55 651.0h4.06v41.6h-4.06zM1249.94 651.0h4.06v41.6h-4.06zM1253.50 651.0h4.06v41.6h-4.06zM221.22 692.2h4.06v41.6h-4.06zM224.78 692.2h4.06v41.6h-4.06zM228.34 692.2h4.06v41.6h-4.06zM231.90 692.2h4.06v41.6h-4.06zM235.46 692.2h4.06v41.6h-4.06zM285.29 692.2h4.06v41.6h-4.06zM288.85 692.2h4.06v41.6h-4.06zM363.60 692.2h4.06v41.6h-4.06zM367.16 692.2h4.06v41.6h-4.06zM377.84 692.2h4.06v41.6h-4.06zM409.88 692.2h4.06v41.6h-4.06zM413.44 692.2h4.06v41.6h-4.06zM538.02 692.2h4.06v41.6h-4.06zM541.58 692.2h4.06v41.6h-4.06zM552.26 692.2h4.06v41.6h-4.06zM570.06 692.2h4.06v41.6h-4.06zM612.78 692.2h4.06v41.6h-4.06zM666.17 692.2h4.06v41.6h-4.06zM716.00 692.2h4.06v41.6h-4.06zM719.56 692.2h4.06v41.6h-4.06zM740.92 692.2h4.06v41.6h-4.06zM744.48 692.2h4.06v41.6h-4.06zM748.04 692.2h4.06v41.6h-4.06zM758.72 692.2h4.06v41.6h-4.06zM762.28 692.2h4.06v41.6h-4.06zM780.08 692.2h4.06v41.6h-4.06zM794.32 692.2h4.06v41.6h-4.06zM797.87 692.2h4.06v41.6h-4.06zM801.43 692.2h4.06v41.6h-4.06zM886.86 692.2h4.06v41.6h-4.06zM958.06 692.2h4.06v41.6h-4.06zM961.62 692.2h4.06v41.6h-4.06zM965.18 692.2h4.06v41.6h-4.06zM968.74 692.2h4.06v41.6h-4.06zM1139.60 692.2h4.06v41.6h-4.06zM1143.16 692.2h4.06v41.6h-4.06zM1207.23 692.2h4.06v41.6h-4.06zM1221.47 692.2h4.06v41.6h-4.06zM1242.83 692.2h4.06v41.6h-4.06zM1246.38 692.2h4.06v41.6h-4.06zM285.29 733.4h4.06v41.6h-4.06zM324.45 733.4h4.06v41.6h-4.06zM328.01 733.4h4.06v41.6h-4.06zM331.57 733.4h4.06v41.6h-4.06zM335.13 733.4h4.06v41.6h-4.06zM363.60 733.4h4.06v41.6h-4.06zM367.16 733.4h4.06v41.6h-4.06zM370.72 733.4h4.06v41.6h-4.06zM374.28 733.4h4.06v41.6h-4.06zM377.84 733.4h4.06v41.6h-4.06zM381.40 733.4h4.06v41.6h-4.06zM384.96 733.4h4.06v41.6h-4.06zM388.52 733.4h4.06v41.6h-4.06zM452.59 733.4h4.06v41.6h-4.06zM456.15 733.4h4.06v41.6h-4.06zM473.95 733.4h4.06v41.6h-4.06zM477.51 733.4h4.06v41.6h-4.06zM481.07 733.4h4.06v41.6h-4.06zM505.99 733.4h4.06v41.6h-4.06zM534.46 733.4h4.06v41.6h-4.06zM538.02 733.4h4.06v41.6h-4.06zM541.58 733.4h4.06v41.6h-4.06zM580.74 733.4h4.06v41.6h-4.06zM584.30 733.4h4.06v41.6h-4.06zM591.42 733.4h4.06v41.6h-4.06zM594.98 733.4h4.06v41.6h-4.06zM609.22 733.4h4.06v41.6h-4.06zM612.78 733.4h4.06v41.6h-4.06zM616.34 733.4h4.06v41.6h-4.06zM655.49 733.4h4.06v41.6h-4.06zM659.05 733.4h4.06v41.6h-4.06zM662.61 733.4h4.06v41.6h-4.06zM708.88 733.4h4.06v41.6h-4.06zM712.44 733.4h4.06v41.6h-4.06zM794.32 733.4h4.06v41.6h-4.06zM797.87 733.4h4.06v41.6h-4.06zM822.79 733.4h4.06v41.6h-4.06zM826.35 733.4h4.06v41.6h-4.06zM829.91 733.4h4.06v41.6h-4.06zM833.47 733.4h4.06v41.6h-4.06zM869.07 733.4h4.06v41.6h-4.06zM872.63 733.4h4.06v41.6h-4.06zM893.98 733.4h4.06v41.6h-4.06zM908.22 733.4h4.06v41.6h-4.06zM911.78 733.4h4.06v41.6h-4.06zM915.34 733.4h4.06v41.6h-4.06zM918.90 733.4h4.06v41.6h-4.06zM943.82 733.4h4.06v41.6h-4.06zM947.38 733.4h4.06v41.6h-4.06zM986.53 733.4h4.06v41.6h-4.06zM990.09 733.4h4.06v41.6h-4.06zM993.65 733.4h4.06v41.6h-4.06zM1054.17 733.4h4.06v41.6h-4.06zM1057.73 733.4h4.06v41.6h-4.06zM1061.29 733.4h4.06v41.6h-4.06zM1064.85 733.4h4.06v41.6h-4.06zM1125.36 733.4h4.06v41.6h-4.06zM1128.92 733.4h4.06v41.6h-4.06zM1146.72 733.4h4.06v41.6h-4.06zM1150.28 733.4h4.06v41.6h-4.06zM1168.07 733.4h4.06v41.6h-4.06zM1171.63 733.4h4.06v41.6h-4.06zM1175.19 733.4h4.06v41.6h-4.06zM1221.47 733.4h4.06v41.6h-4.06zM1225.03 733.4h4.06v41.6h-4.06zM235.46 774.6h4.06v41.6h-4.06zM253.26 774.6h4.06v41.6h-4.06zM278.17 774.6h4.06v41.6h-4.06zM281.73 774.6h4.06v41.6h-4.06zM285.29 774.6h4.06v41.6h-4.06zM602.10 774.6h4.06v41.6h-4.06zM605.66 774.6h4.06v41.6h-4.06zM648.37 774.6h4.06v41.6h-4.06zM651.93 774.6h4.06v41.6h-4.06zM687.53 774.6h4.06v41.6h-4.06zM691.09 774.6h4.06v41.6h-4.06zM694.65 774.6h4.06v41.6h-4.06zM755.16 774.6h4.06v41.6h-4.06zM758.72 774.6h4.06v41.6h-4.06zM762.28 774.6h4.06v41.6h-4.06zM804.99 774.6h4.06v41.6h-4.06zM808.55 774.6h4.06v41.6h-4.06zM844.15 774.6h4.06v41.6h-4.06zM847.71 774.6h4.06v41.6h-4.06zM851.27 774.6h4.06v41.6h-4.06zM869.07 774.6h4.06v41.6h-4.06zM876.19 774.6h4.06v41.6h-4.06zM879.75 774.6h4.06v41.6h-4.06zM883.31 774.6h4.06v41.6h-4.06zM886.86 774.6h4.06v41.6h-4.06zM904.66 774.6h4.06v41.6h-4.06zM908.22 774.6h4.06v41.6h-4.06zM979.41 774.6h4.06v41.6h-4.06zM982.97 774.6h4.06v41.6h-4.06zM1043.49 774.6h4.06v41.6h-4.06zM1050.61 774.6h4.06v41.6h-4.06zM1054.17 774.6h4.06v41.6h-4.06zM1057.73 774.6h4.06v41.6h-4.06zM1100.44 774.6h4.06v41.6h-4.06zM1146.72 774.6h4.06v41.6h-4.06zM1150.28 774.6h4.06v41.6h-4.06zM260.37 815.8h4.06v41.6h-4.06zM263.93 815.8h4.06v41.6h-4.06zM392.08 815.8h4.06v41.6h-4.06zM409.88 815.8h4.06v41.6h-4.06zM413.44 815.8h4.06v41.6h-4.06zM498.87 815.8h4.06v41.6h-4.06zM502.43 815.8h4.06v41.6h-4.06zM545.14 815.8h4.06v41.6h-4.06zM548.70 815.8h4.06v41.6h-4.06zM552.26 815.8h4.06v41.6h-4.06zM570.06 815.8h4.06v41.6h-4.06zM573.62 815.8h4.06v41.6h-4.06zM651.93 815.8h4.06v41.6h-4.06zM655.49 815.8h4.06v41.6h-4.06zM659.05 815.8h4.06v41.6h-4.06zM755.16 815.8h4.06v41.6h-4.06zM758.72 815.8h4.06v41.6h-4.06zM762.28 815.8h4.06v41.6h-4.06zM769.40 815.8h4.06v41.6h-4.06zM794.32 815.8h4.06v41.6h-4.06zM797.87 815.8h4.06v41.6h-4.06zM922.46 815.8h4.06v41.6h-4.06zM926.02 815.8h4.06v41.6h-4.06zM1107.56 815.8h4.06v41.6h-4.06zM1111.12 815.8h4.06v41.6h-4.06zM1189.43 815.8h4.06v41.6h-4.06zM1210.79 815.8h4.06v41.6h-4.06zM1214.35 815.8h4.06v41.6h-4.06zM1217.91 815.8h4.06v41.6h-4.06zM1221.47 815.8h4.06v41.6h-4.06zM1225.03 815.8h4.06v41.6h-4.06zM1232.15 815.8h4.06v41.6h-4.06zM1235.71 815.8h4.06v41.6h-4.06zM1260.62 815.8h4.06v41.6h-4.06zM1264.18 815.8h4.06v41.6h-4.06zM1267.74 815.8h4.06v41.6h-4.06zM228.34 857.0h4.06v41.6h-4.06zM231.90 857.0h4.06v41.6h-4.06zM256.82 857.0h4.06v41.6h-4.06zM381.40 857.0h4.06v41.6h-4.06zM384.96 857.0h4.06v41.6h-4.06zM395.64 857.0h4.06v41.6h-4.06zM399.20 857.0h4.06v41.6h-4.06zM402.76 857.0h4.06v41.6h-4.06zM406.32 857.0h4.06v41.6h-4.06zM427.68 857.0h4.06v41.6h-4.06zM431.24 857.0h4.06v41.6h-4.06zM495.31 857.0h4.06v41.6h-4.06zM498.87 857.0h4.06v41.6h-4.06zM509.55 857.0h4.06v41.6h-4.06zM587.86 857.0h4.06v41.6h-4.06zM591.42 857.0h4.06v41.6h-4.06zM594.98 857.0h4.06v41.6h-4.06zM598.54 857.0h4.06v41.6h-4.06zM609.22 857.0h4.06v41.6h-4.06zM612.78 857.0h4.06v41.6h-4.06zM616.34 857.0h4.06v41.6h-4.06zM623.45 857.0h4.06v41.6h-4.06zM627.01 857.0h4.06v41.6h-4.06zM630.57 857.0h4.06v41.6h-4.06zM648.37 857.0h4.06v41.6h-4.06zM651.93 857.0h4.06v41.6h-4.06zM655.49 857.0h4.06v41.6h-4.06zM666.17 857.0h4.06v41.6h-4.06zM673.29 857.0h4.06v41.6h-4.06zM676.85 857.0h4.06v41.6h-4.06zM680.41 857.0h4.06v41.6h-4.06zM683.97 857.0h4.06v41.6h-4.06zM687.53 857.0h4.06v41.6h-4.06zM815.67 857.0h4.06v41.6h-4.06zM833.47 857.0h4.06v41.6h-4.06zM837.03 857.0h4.06v41.6h-4.06zM893.98 857.0h4.06v41.6h-4.06zM897.54 857.0h4.06v41.6h-4.06zM904.66 857.0h4.06v41.6h-4.06zM908.22 857.0h4.06v41.6h-4.06zM915.34 857.0h4.06v41.6h-4.06zM918.90 857.0h4.06v41.6h-4.06zM947.38 857.0h4.06v41.6h-4.06zM950.94 857.0h4.06v41.6h-4.06zM954.50 857.0h4.06v41.6h-4.06zM1025.69 857.0h4.06v41.6h-4.06zM1029.25 857.0h4.06v41.6h-4.06zM1079.08 857.0h4.06v41.6h-4.06zM1082.64 857.0h4.06v41.6h-4.06zM1128.92 857.0h4.06v41.6h-4.06zM1132.48 857.0h4.06v41.6h-4.06zM1136.04 857.0h4.06v41.6h-4.06zM1146.72 857.0h4.06v41.6h-4.06zM1150.28 857.0h4.06v41.6h-4.06zM1153.84 857.0h4.06v41.6h-4.06zM1281.98 857.0h4.06v41.6h-4.06zM1285.54 857.0h4.06v41.6h-4.06zM263.93 898.2h4.06v41.6h-4.06zM267.49 898.2h4.06v41.6h-4.06zM278.17 898.2h4.06v41.6h-4.06zM288.85 898.2h4.06v41.6h-4.06zM292.41 898.2h4.06v41.6h-4.06zM295.97 898.2h4.06v41.6h-4.06zM367.16 898.2h4.06v41.6h-4.06zM370.72 898.2h4.06v41.6h-4.06zM377.84 898.2h4.06v41.6h-4.06zM381.40 898.2h4.06v41.6h-4.06zM434.80 898.2h4.06v41.6h-4.06zM438.35 898.2h4.06v41.6h-4.06zM591.42 898.2h4.06v41.6h-4.06zM594.98 898.2h4.06v41.6h-4.06zM737.36 898.2h4.06v41.6h-4.06zM740.92 898.2h4.06v41.6h-4.06zM744.48 898.2h4.06v41.6h-4.06zM748.04 898.2h4.06v41.6h-4.06zM755.16 898.2h4.06v41.6h-4.06zM758.72 898.2h4.06v41.6h-4.06zM762.28 898.2h4.06v41.6h-4.06zM776.52 898.2h4.06v41.6h-4.06zM780.08 898.2h4.06v41.6h-4.06zM783.64 898.2h4.06v41.6h-4.06zM787.20 898.2h4.06v41.6h-4.06zM794.32 898.2h4.06v41.6h-4.06zM797.87 898.2h4.06v41.6h-4.06zM854.83 898.2h4.06v41.6h-4.06zM1043.49 898.2h4.06v41.6h-4.06zM1047.05 898.2h4.06v41.6h-4.06zM1050.61 898.2h4.06v41.6h-4.06zM1054.17 898.2h4.06v41.6h-4.06zM1057.73 898.2h4.06v41.6h-4.06zM1093.32 898.2h4.06v41.6h-4.06zM1096.88 898.2h4.06v41.6h-4.06zM1100.44 898.2h4.06v41.6h-4.06zM1139.60 898.2h4.06v41.6h-4.06zM1143.16 898.2h4.06v41.6h-4.06zM1146.72 898.2h4.06v41.6h-4.06zM1150.28 898.2h4.06v41.6h-4.06zM1168.07 898.2h4.06v41.6h-4.06zM1171.63 898.2h4.06v41.6h-4.06zM1278.42 898.2h4.06v41.6h-4.06zM1281.98 898.2h4.06v41.6h-4.06zM1285.54 898.2h4.06v41.6h-4.06zM235.46 939.4h4.06v41.6h-4.06zM381.40 939.4h4.06v41.6h-4.06zM413.44 939.4h4.06v41.6h-4.06zM449.03 939.4h4.06v41.6h-4.06zM452.59 939.4h4.06v41.6h-4.06zM520.23 939.4h4.06v41.6h-4.06zM523.79 939.4h4.06v41.6h-4.06zM534.46 939.4h4.06v41.6h-4.06zM538.02 939.4h4.06v41.6h-4.06zM541.58 939.4h4.06v41.6h-4.06zM552.26 939.4h4.06v41.6h-4.06zM648.37 939.4h4.06v41.6h-4.06zM651.93 939.4h4.06v41.6h-4.06zM655.49 939.4h4.06v41.6h-4.06zM680.41 939.4h4.06v41.6h-4.06zM683.97 939.4h4.06v41.6h-4.06zM723.12 939.4h4.06v41.6h-4.06zM726.68 939.4h4.06v41.6h-4.06zM730.24 939.4h4.06v41.6h-4.06zM758.72 939.4h4.06v41.6h-4.06zM762.28 939.4h4.06v41.6h-4.06zM840.59 939.4h4.06v41.6h-4.06zM844.15 939.4h4.06v41.6h-4.06zM861.95 939.4h4.06v41.6h-4.06zM865.51 939.4h4.06v41.6h-4.06zM904.66 939.4h4.06v41.6h-4.06zM908.22 939.4h4.06v41.6h-4.06zM911.78 939.4h4.06v41.6h-4.06zM922.46 939.4h4.06v41.6h-4.06zM926.02 939.4h4.06v41.6h-4.06zM929.58 939.4h4.06v41.6h-4.06zM933.14 939.4h4.06v41.6h-4.06zM936.70 939.4h4.06v41.6h-4.06zM940.26 939.4h4.06v41.6h-4.06zM947.38 939.4h4.06v41.6h-4.06zM958.06 939.4h4.06v41.6h-4.06zM961.62 939.4h4.06v41.6h-4.06zM986.53 939.4h4.06v41.6h-4.06zM990.09 939.4h4.06v41.6h-4.06zM1054.17 939.4h4.06v41.6h-4.06zM1057.73 939.4h4.06v41.6h-4.06zM1061.29 939.4h4.06v41.6h-4.06zM1064.85 939.4h4.06v41.6h-4.06zM1068.40 939.4h4.06v41.6h-4.06zM1071.96 939.4h4.06v41.6h-4.06zM1146.72 939.4h4.06v41.6h-4.06zM1150.28 939.4h4.06v41.6h-4.06zM1232.15 939.4h4.06v41.6h-4.06zM1235.71 939.4h4.06v41.6h-4.06zM1253.50 939.4h4.06v41.6h-4.06zM1257.06 939.4h4.06v41.6h-4.06zM1260.62 939.4h4.06v41.6h-4.06zM1264.18 939.4h4.06v41.6h-4.06zM228.34 980.6h4.06v41.6h-4.06zM231.90 980.6h4.06v41.6h-4.06zM239.02 980.6h4.06v41.6h-4.06zM335.13 980.6h4.06v41.6h-4.06zM363.60 980.6h4.06v41.6h-4.06zM367.16 980.6h4.06v41.6h-4.06zM377.84 980.6h4.06v41.6h-4.06zM438.35 980.6h4.06v41.6h-4.06zM459.71 980.6h4.06v41.6h-4.06zM463.27 980.6h4.06v41.6h-4.06zM491.75 980.6h4.06v41.6h-4.06zM495.31 980.6h4.06v41.6h-4.06zM498.87 980.6h4.06v41.6h-4.06zM580.74 980.6h4.06v41.6h-4.06zM605.66 980.6h4.06v41.6h-4.06zM609.22 980.6h4.06v41.6h-4.06zM612.78 980.6h4.06v41.6h-4.06zM683.97 980.6h4.06v41.6h-4.06zM748.04 980.6h4.06v41.6h-4.06zM751.60 980.6h4.06v41.6h-4.06zM755.16 980.6h4.06v41.6h-4.06zM758.72 980.6h4.06v41.6h-4.06zM769.40 980.6h4.06v41.6h-4.06zM794.32 980.6h4.06v41.6h-4.06zM797.87 980.6h4.06v41.6h-4.06zM801.43 980.6h4.06v41.6h-4.06zM872.63 980.6h4.06v41.6h-4.06zM890.42 980.6h4.06v41.6h-4.06zM893.98 980.6h4.06v41.6h-4.06zM897.54 980.6h4.06v41.6h-4.06zM911.78 980.6h4.06v41.6h-4.06zM947.38 980.6h4.06v41.6h-4.06zM950.94 980.6h4.06v41.6h-4.06zM1007.89 980.6h4.06v41.6h-4.06zM1011.45 980.6h4.06v41.6h-4.06zM1015.01 980.6h4.06v41.6h-4.06zM1025.69 980.6h4.06v41.6h-4.06zM1050.61 980.6h4.06v41.6h-4.06zM1157.39 980.6h4.06v41.6h-4.06zM1160.95 980.6h4.06v41.6h-4.06zM1171.63 980.6h4.06v41.6h-4.06zM1175.19 980.6h4.06v41.6h-4.06zM1178.75 980.6h4.06v41.6h-4.06zM1182.31 980.6h4.06v41.6h-4.06zM1185.87 980.6h4.06v41.6h-4.06zM1189.43 980.6h4.06v41.6h-4.06zM1192.99 980.6h4.06v41.6h-4.06zM1260.62 980.6h4.06v41.6h-4.06zM1264.18 980.6h4.06v41.6h-4.06zM221.22 1021.8h4.06v41.6h-4.06zM224.78 1021.8h4.06v41.6h-4.06zM256.82 1021.8h4.06v41.6h-4.06zM395.64 1021.8h4.06v41.6h-4.06zM399.20 1021.8h4.06v41.6h-4.06zM402.76 1021.8h4.06v41.6h-4.06zM406.32 1021.8h4.06v41.6h-4.06zM456.15 1021.8h4.06v41.6h-4.06zM523.79 1021.8h4.06v41.6h-4.06zM527.35 1021.8h4.06v41.6h-4.06zM559.38 1021.8h4.06v41.6h-4.06zM573.62 1021.8h4.06v41.6h-4.06zM609.22 1021.8h4.06v41.6h-4.06zM612.78 1021.8h4.06v41.6h-4.06zM616.34 1021.8h4.06v41.6h-4.06zM673.29 1021.8h4.06v41.6h-4.06zM676.85 1021.8h4.06v41.6h-4.06zM680.41 1021.8h4.06v41.6h-4.06zM683.97 1021.8h4.06v41.6h-4.06zM772.96 1021.8h4.06v41.6h-4.06zM776.52 1021.8h4.06v41.6h-4.06zM797.87 1021.8h4.06v41.6h-4.06zM801.43 1021.8h4.06v41.6h-4.06zM804.99 1021.8h4.06v41.6h-4.06zM815.67 1021.8h4.06v41.6h-4.06zM819.23 1021.8h4.06v41.6h-4.06zM822.79 1021.8h4.06v41.6h-4.06zM1157.39 1021.8h4.06v41.6h-4.06zM1160.95 1021.8h4.06v41.6h-4.06zM1164.51 1021.8h4.06v41.6h-4.06zM1257.06 1021.8h4.06v41.6h-4.06zM1260.62 1021.8h4.06v41.6h-4.06zM1264.18 1021.8h4.06v41.6h-4.06zM263.93 1063.0h4.06v41.6h-4.06zM530.90 1063.0h4.06v41.6h-4.06zM534.46 1063.0h4.06v41.6h-4.06zM676.85 1063.0h4.06v41.6h-4.06zM769.40 1063.0h4.06v41.6h-4.06zM826.35 1063.0h4.06v41.6h-4.06zM901.10 1063.0h4.06v41.6h-4.06zM904.66 1063.0h4.06v41.6h-4.06zM947.38 1063.0h4.06v41.6h-4.06zM1007.89 1063.0h4.06v41.6h-4.06zM1011.45 1063.0h4.06v41.6h-4.06zM1015.01 1063.0h4.06v41.6h-4.06zM1018.57 1063.0h4.06v41.6h-4.06zM1022.13 1063.0h4.06v41.6h-4.06zM1025.69 1063.0h4.06v41.6h-4.06zM1029.25 1063.0h4.06v41.6h-4.06zM1121.80 1063.0h4.06v41.6h-4.06zM1125.36 1063.0h4.06v41.6h-4.06zM1146.72 1063.0h4.06v41.6h-4.06zM1207.23 1063.0h4.06v41.6h-4.06zM1210.79 1063.0h4.06v41.6h-4.06zM231.90 1104.2h4.06v41.6h-4.06zM235.46 1104.2h4.06v41.6h-4.06zM295.97 1104.2h4.06v41.6h-4.06zM306.65 1104.2h4.06v41.6h-4.06zM310.21 1104.2h4.06v41.6h-4.06zM313.77 1104.2h4.06v41.6h-4.06zM363.60 1104.2h4.06v41.6h-4.06zM367.16 1104.2h4.06v41.6h-4.06zM370.72 1104.2h4.06v41.6h-4.06zM445.47 1104.2h4.06v41.6h-4.06zM449.03 1104.2h4.06v41.6h-4.06zM498.87 1104.2h4.06v41.6h-4.06zM516.67 1104.2h4.06v41.6h-4.06zM538.02 1104.2h4.06v41.6h-4.06zM548.70 1104.2h4.06v41.6h-4.06zM552.26 1104.2h4.06v41.6h-4.06zM566.50 1104.2h4.06v41.6h-4.06zM570.06 1104.2h4.06v41.6h-4.06zM580.74 1104.2h4.06v41.6h-4.06zM584.30 1104.2h4.06v41.6h-4.06zM594.98 1104.2h4.06v41.6h-4.06zM680.41 1104.2h4.06v41.6h-4.06zM683.97 1104.2h4.06v41.6h-4.06zM694.65 1104.2h4.06v41.6h-4.06zM719.56 1104.2h4.06v41.6h-4.06zM758.72 1104.2h4.06v41.6h-4.06zM769.40 1104.2h4.06v41.6h-4.06zM844.15 1104.2h4.06v41.6h-4.06zM847.71 1104.2h4.06v41.6h-4.06zM851.27 1104.2h4.06v41.6h-4.06zM854.83 1104.2h4.06v41.6h-4.06zM968.74 1104.2h4.06v41.6h-4.06zM972.30 1104.2h4.06v41.6h-4.06zM993.65 1104.2h4.06v41.6h-4.06zM997.21 1104.2h4.06v41.6h-4.06zM1000.77 1104.2h4.06v41.6h-4.06zM1089.76 1104.2h4.06v41.6h-4.06zM1093.32 1104.2h4.06v41.6h-4.06zM1171.63 1104.2h4.06v41.6h-4.06zM1175.19 1104.2h4.06v41.6h-4.06zM1178.75 1104.2h4.06v41.6h-4.06zM1189.43 1104.2h4.06v41.6h-4.06zM1192.99 1104.2h4.06v41.6h-4.06zM1203.67 1104.2h4.06v41.6h-4.06zM1207.23 1104.2h4.06v41.6h-4.06z"/>
<path fill="#dbe7f3" d="M217.66 239.0h4.06v41.6h-4.06zM274.61 239.0h4.06v41.6h-4.06zM328.01 239.0h4.06v41.6h-4.06zM360.04 239.0h4.06v41.6h-4.06zM363.60 239.0h4.06v41.6h-4.06zM374.28 239.0h4.06v41.6h-4.06zM406.32 239.0h4.06v41.6h-4.06zM477.51 239.0h4.06v41.6h-4.06zM505.99 239.0h4.06v41.6h-4.06zM566.50 239.0h4.06v41.6h-4.06zM598.54 239.0h4.06v41.6h-4.06zM634.13 239.0h4.06v41.6h-4.06zM637.69 239.0h4.06v41.6h-4.06zM641.25 239.0h4.06v41.6h-4.06zM812.11 239.0h4.06v41.6h-4.06zM876.19 239.0h4.06v41.6h-4.06zM890.42 239.0h4.06v41.6h-4.06zM1022.13 239.0h4.06v41.6h-4.06zM1153.84 239.0h4.06v41.6h-4.06zM1228.59 239.0h4.06v41.6h-4.06zM1232.15 239.0h4.06v41.6h-4.06zM214.10 280.2h4.06v41.6h-4.06zM217.66 280.2h4.06v41.6h-4.06zM242.58 280.2h4.06v41.6h-4.06zM267.49 280.2h4.06v41.6h-4.06zM271.05 280.2h4.06v41.6h-4.06zM278.17 280.2h4.06v41.6h-4.06zM313.77 280.2h4.06v41.6h-4.06zM360.04 280.2h4.06v41.6h-4.06zM363.60 280.2h4.06v41.6h-4.06zM456.15 280.2h4.06v41.6h-4.06zM509.55 280.2h4.06v41.6h-4.06zM545.14 280.2h4.06v41.6h-4.06zM555.82 280.2h4.06v41.6h-4.06zM687.53 280.2h4.06v41.6h-4.06zM716.00 280.2h4.06v41.6h-4.06zM730.24 280.2h4.06v41.6h-4.06zM737.36 280.2h4.06v41.6h-4.06zM765.84 280.2h4.06v41.6h-4.06zM783.64 280.2h4.06v41.6h-4.06zM797.87 280.2h4.06v41.6h-4.06zM801.43 280.2h4.06v41.6h-4.06zM847.71 280.2h4.06v41.6h-4.06zM865.51 280.2h4.06v41.6h-4.06zM904.66 280.2h4.06v41.6h-4.06zM908.22 280.2h4.06v41.6h-4.06zM915.34 280.2h4.06v41.6h-4.06zM972.30 280.2h4.06v41.6h-4.06zM1004.33 280.2h4.06v41.6h-4.06zM1018.57 280.2h4.06v41.6h-4.06zM1050.61 280.2h4.06v41.6h-4.06zM1061.29 280.2h4.06v41.6h-4.06zM1089.76 280.2h4.06v41.6h-4.06zM1150.28 280.2h4.06v41.6h-4.06zM1207.23 280.2h4.06v41.6h-4.06zM1249.94 280.2h4.06v41.6h-4.06zM1253.50 280.2h4.06v41.6h-4.06zM473.95 321.4h4.06v41.6h-4.06zM477.51 321.4h4.06v41.6h-4.06zM481.07 321.4h4.06v41.6h-4.06zM239.02 362.6h4.06v41.6h-4.06zM242.58 362.6h4.06v41.6h-4.06zM271.05 362.6h4.06v41.6h-4.06zM320.89 362.6h4.06v41.6h-4.06zM324.45 362.6h4.06v41.6h-4.06zM328.01 362.6h4.06v41.6h-4.06zM370.72 362.6h4.06v41.6h-4.06zM384.96 362.6h4.06v41.6h-4.06zM466.83 362.6h4.06v41.6h-4.06zM484.63 362.6h4.06v41.6h-4.06zM527.35 362.6h4.06v41.6h-4.06zM562.94 362.6h4.06v41.6h-4.06zM566.50 362.6h4.06v41.6h-4.06zM584.30 362.6h4.06v41.6h-4.06zM705.33 362.6h4.06v41.6h-4.06zM730.24 362.6h4.06v41.6h-4.06zM765.84 362.6h4.06v41.6h-4.06zM890.42 362.6h4.06v41.6h-4.06zM943.82 362.6h4.06v41.6h-4.06zM1153.84 362.6h4.06v41.6h-4.06zM1157.39 362.6h4.06v41.6h-4.06zM1175.19 362.6h4.06v41.6h-4.06zM1182.31 362.6h4.06v41.6h-4.06zM1185.87 362.6h4.06v41.6h-4.06zM1239.27 362.6h4.06v41.6h-4.06zM1267.74 362.6h4.06v41.6h-4.06zM278.17 403.8h4.06v41.6h-4.06zM281.73 403.8h4.06v41.6h-4.06zM320.89 403.8h4.06v41.6h-4.06zM324.45 403.8h4.06v41.6h-4.06zM370.72 403.8h4.06v41.6h-4.06zM424.12 403.8h4.06v41.6h-4.06zM527.35 403.8h4.06v41.6h-4.06zM577.18 403.8h4.06v41.6h-4.06zM598.54 403.8h4.06v41.6h-4.06zM730.24 403.8h4.06v41.6h-4.06zM787.20 403.8h4.06v41.6h-4.06zM790.76 403.8h4.06v41.6h-4.06zM812.11 403.8h4.06v41.6h-4.06zM890.42 403.8h4.06v41.6h-4.06zM943.82 403.8h4.06v41.6h-4.06zM1022.13 403.8h4.06v41.6h-4.06zM1039.93 403.8h4.06v41.6h-4.06zM1043.49 403.8h4.06v41.6h-4.06zM1239.27 403.8h4.06v41.6h-4.06zM1242.83 403.8h4.06v41.6h-4.06zM217.66 445.0h4.06v41.6h-4.06zM271.05 445.0h4.06v41.6h-4.06zM320.89 445.0h4.06v41.6h-4.06zM324.45 445.0h4.06v41.6h-4.06zM356.48 445.0h4.06v41.6h-4.06zM360.04 445.0h4.06v41.6h-4.06zM406.32 445.0h4.06v41.6h-4.06zM502.43 445.0h4.06v41.6h-4.06zM505.99 445.0h4.06v41.6h-4.06zM623.45 445.0h4.06v41.6h-4.06zM659.05 445.0h4.06v41.6h-4.06zM748.04 445.0h4.06v41.6h-4.06zM765.84 445.0h4.06v41.6h-4.06zM890.42 445.0h4.06v41.6h-4.06zM1068.40 445.0h4.06v41.6h-4.06zM235.46 486.2h4.06v41.6h-4.06zM271.05 486.2h4.06v41.6h-4.06zM320.89 486.2h4.06v41.6h-4.06zM345.81 486.2h4.06v41.6h-4.06zM349.36 486.2h4.06v41.6h-4.06zM377.84 486.2h4.06v41.6h-4.06zM477.51 486.2h4.06v41.6h-4.06zM577.18 486.2h4.06v41.6h-4.06zM698.21 486.2h4.06v41.6h-4.06zM712.44 486.2h4.06v41.6h-4.06zM730.24 486.2h4.06v41.6h-4.06zM765.84 486.2h4.06v41.6h-4.06zM769.40 486.2h4.06v41.6h-4.06zM772.96 486.2h4.06v41.6h-4.06zM861.95 486.2h4.06v41.6h-4.06zM865.51 486.2h4.06v41.6h-4.06zM1039.93 486.2h4.06v41.6h-4.06zM1043.49 486.2h4.06v41.6h-4.06zM1086.20 486.2h4.06v41.6h-4.06zM1267.74 486.2h4.06v41.6h-4.06zM370.72 527.4h4.06v41.6h-4.06zM374.28 527.4h4.06v41.6h-4.06zM463.27 527.4h4.06v41.6h-4.06zM466.83 527.4h4.06v41.6h-4.06zM505.99 527.4h4.06v41.6h-4.06zM683.97 527.4h4.06v41.6h-4.06zM772.96 527.4h4.06v41.6h-4.06zM776.52 527.4h4.06v41.6h-4.06zM780.08 527.4h4.06v41.6h-4.06zM822.79 527.4h4.06v41.6h-4.06zM826.35 527.4h4.06v41.6h-4.06zM975.85 527.4h4.06v41.6h-4.06zM1200.11 527.4h4.06v41.6h-4.06zM1203.67 527.4h4.06v41.6h-4.06zM271.05 568.6h4.06v41.6h-4.06zM406.32 568.6h4.06v41.6h-4.06zM812.11 568.6h4.06v41.6h-4.06zM943.82 568.6h4.06v41.6h-4.06zM324.45 609.8h4.06v41.6h-4.06zM374.28 609.8h4.06v41.6h-4.06zM566.50 609.8h4.06v41.6h-4.06zM737.36 609.8h4.06v41.6h-4.06zM772.96 609.8h4.06v41.6h-4.06zM776.52 609.8h4.06v41.6h-4.06zM790.76 609.8h4.06v41.6h-4.06zM812.11 609.8h4.06v41.6h-4.06zM815.67 609.8h4.06v41.6h-4.06zM915.34 609.8h4.06v41.6h-4.06zM1153.84 609.8h4.06v41.6h-4.06zM1267.74 609.8h4.06v41.6h-4.06zM253.26 651.0h4.06v41.6h-4.06zM256.82 651.0h4.06v41.6h-4.06zM345.81 651.0h4.06v41.6h-4.06zM349.36 651.0h4.06v41.6h-4.06zM352.92 651.0h4.06v41.6h-4.06zM466.83 651.0h4.06v41.6h-4.06zM637.69 651.0h4.06v41.6h-4.06zM641.25 651.0h4.06v41.6h-4.06zM705.33 651.0h4.06v41.6h-4.06zM943.82 651.0h4.06v41.6h-4.06zM958.06 651.0h4.06v41.6h-4.06zM961.62 651.0h4.06v41.6h-4.06zM1239.27 651.0h4.06v41.6h-4.06zM217.66 692.2h4.06v41.6h-4.06zM320.89 692.2h4.06v41.6h-4.06zM324.45 692.2h4.06v41.6h-4.06zM374.28 692.2h4.06v41.6h-4.06zM406.32 692.2h4.06v41.6h-4.06zM555.82 692.2h4.06v41.6h-4.06zM559.38 692.2h4.06v41.6h-4.06zM562.94 692.2h4.06v41.6h-4.06zM566.50 692.2h4.06v41.6h-4.06zM616.34 692.2h4.06v41.6h-4.06zM619.89 692.2h4.06v41.6h-4.06zM812.11 692.2h4.06v41.6h-4.06zM890.42 692.2h4.06v41.6h-4.06zM936.70 692.2h4.06v41.6h-4.06zM1022.13 692.2h4.06v41.6h-4.06zM1249.94 692.2h4.06v41.6h-4.06zM1253.50 692.2h4.06v41.6h-4.06zM1267.74 692.2h4.06v41.6h-4.06zM256.82 733.4h4.06v41.6h-4.06zM260.37 733.4h4.06v41.6h-4.06zM263.93 733.4h4.06v41.6h-4.06zM320.89 733.4h4.06v41.6h-4.06zM345.81 733.4h4.06v41.6h-4.06zM772.96 733.4h4.06v41.6h-4.06zM812.11 733.4h4.06v41.6h-4.06zM890.42 733.4h4.06v41.6h-4.06zM904.66 733.4h4.06v41.6h-4.06zM940.26 733.4h4.06v41.6h-4.06zM1022.13 733.4h4.06v41.6h-4.06zM1043.49 733.4h4.06v41.6h-4.06zM217.66 774.6h4.06v41.6h-4.06zM242.58 774.6h4.06v41.6h-4.06zM271.05 774.6h4.06v41.6h-4.06zM320.89 774.6h4.06v41.6h-4.06zM324.45 774.6h4.06v41.6h-4.06zM356.48 774.6h4.06v41.6h-4.06zM384.96 774.6h4.06v41.6h-4.06zM424.12 774.6h4.06v41.6h-4.06zM527.35 774.6h4.06v41.6h-4.06zM530.90 774.6h4.06v41.6h-4.06zM534.46 774.6h4.06v41.6h-4.06zM566.50 774.6h4.06v41.6h-4.06zM598.54 774.6h4.06v41.6h-4.06zM619.89 774.6h4.06v41.6h-4.06zM623.45 774.6h4.06v41.6h-4.06zM662.61 774.6h4.06v41.6h-4.06zM772.96 774.6h4.06v41.6h-4.06zM790.76 774.6h4.06v41.6h-4.06zM812.11 774.6h4.06v41.6h-4.06zM890.42 774.6h4.06v41.6h-4.06zM943.82 774.6h4.06v41.6h-4.06zM1022.13 774.6h4.06v41.6h-4.06zM1153.84 774.6h4.06v41.6h-4.06zM217.66 815.8h4.06v41.6h-4.06zM239.02 815.8h4.06v41.6h-4.06zM242.58 815.8h4.06v41.6h-4.06zM246.14 815.8h4.06v41.6h-4.06zM349.36 815.8h4.06v41.6h-4.06zM527.35 815.8h4.06v41.6h-4.06zM538.02 815.8h4.06v41.6h-4.06zM577.18 815.8h4.06v41.6h-4.06zM822.79 815.8h4.06v41.6h-4.06zM826.35 815.8h4.06v41.6h-4.06zM943.82 815.8h4.06v41.6h-4.06zM1039.93 815.8h4.06v41.6h-4.06zM1239.27 815.8h4.06v41.6h-4.06zM320.89 857.0h4.06v41.6h-4.06zM324.45 857.0h4.06v41.6h-4.06zM328.01 857.0h4.06v41.6h-4.06zM470.39 857.0h4.06v41.6h-4.06zM527.35 857.0h4.06v41.6h-4.06zM548.70 857.0h4.06v41.6h-4.06zM602.10 857.0h4.06v41.6h-4.06zM619.89 857.0h4.06v41.6h-4.06zM730.24 857.0h4.06v41.6h-4.06zM765.84 857.0h4.06v41.6h-4.06zM822.79 857.0h4.06v41.6h-4.06zM826.35 857.0h4.06v41.6h-4.06zM861.95 857.0h4.06v41.6h-4.06zM865.51 857.0h4.06v41.6h-4.06zM943.82 857.0h4.06v41.6h-4.06zM1022.13 857.0h4.06v41.6h-4.06zM1075.52 857.0h4.06v41.6h-4.06zM1104.00 857.0h4.06v41.6h-4.06zM1139.60 857.0h4.06v41.6h-4.06zM217.66 898.2h4.06v41.6h-4.06zM221.22 898.2h4.06v41.6h-4.06zM242.58 898.2h4.06v41.6h-4.06zM260.37 898.2h4.06v41.6h-4.06zM324.45 898.2h4.06v41.6h-4.06zM352.92 898.2h4.06v41.6h-4.06zM530.90 898.2h4.06v41.6h-4.06zM562.94 898.2h4.06v41.6h-4.06zM566.50 898.2h4.06v41.6h-4.06zM577.18 898.2h4.06v41.6h-4.06zM790.76 898.2h4.06v41.6h-4.06zM890.42 898.2h4.06v41.6h-4.06zM1022.13 898.2h4.06v41.6h-4.06zM1029.25 898.2h4.06v41.6h-4.06zM1228.59 898.2h4.06v41.6h-4.06zM1239.27 898.2h4.06v41.6h-4.06zM1249.94 898.2h4.06v41.6h-4.06zM217.66 939.4h4.06v41.6h-4.06zM267.49 939.4h4.06v41.6h-4.06zM271.05 939.4h4.06v41.6h-4.06zM274.61 939.4h4.06v41.6h-4.06zM278.17 939.4h4.06v41.6h-4.06zM374.28 939.4h4.06v41.6h-4.06zM473.95 939.4h4.06v41.6h-4.06zM477.51 939.4h4.06v41.6h-4.06zM484.63 939.4h4.06v41.6h-4.06zM502.43 939.4h4.06v41.6h-4.06zM505.99 939.4h4.06v41.6h-4.06zM562.94 939.4h4.06v41.6h-4.06zM566.50 939.4h4.06v41.6h-4.06zM659.05 939.4h4.06v41.6h-4.06zM662.61 939.4h4.06v41.6h-4.06zM812.11 939.4h4.06v41.6h-4.06zM815.67 939.4h4.06v41.6h-4.06zM1153.84 939.4h4.06v41.6h-4.06zM1182.31 939.4h4.06v41.6h-4.06zM1185.87 939.4h4.06v41.6h-4.06zM1189.43 939.4h4.06v41.6h-4.06zM1228.59 939.4h4.06v41.6h-4.06zM1239.27 939.4h4.06v41.6h-4.06zM320.89 980.6h4.06v41.6h-4.06zM324.45 980.6h4.06v41.6h-4.06zM328.01 980.6h4.06v41.6h-4.06zM562.94 980.6h4.06v41.6h-4.06zM566.50 980.6h4.06v41.6h-4.06zM812.11 980.6h4.06v41.6h-4.06zM815.67 980.6h4.06v41.6h-4.06zM1022.13 980.6h4.06v41.6h-4.06zM1153.84 980.6h4.06v41.6h-4.06zM242.58 1021.8h4.06v41.6h-4.06zM342.25 1021.8h4.06v41.6h-4.06zM505.99 1021.8h4.06v41.6h-4.06zM562.94 1021.8h4.06v41.6h-4.06zM566.50 1021.8h4.06v41.6h-4.06zM577.18 1021.8h4.06v41.6h-4.06zM659.05 1021.8h4.06v41.6h-4.06zM812.11 1021.8h4.06v41.6h-4.06zM1022.13 1021.8h4.06v41.6h-4.06zM1182.31 1021.8h4.06v41.6h-4.06zM1185.87 1021.8h4.06v41.6h-4.06zM217.66 1104.2h4.06v41.6h-4.06zM242.58 1104.2h4.06v41.6h-4.06zM271.05 1104.2h4.06v41.6h-4.06zM320.89 1104.2h4.06v41.6h-4.06zM324.45 1104.2h4.06v41.6h-4.06zM328.01 1104.2h4.06v41.6h-4.06zM360.04 1104.2h4.06v41.6h-4.06zM406.32 1104.2h4.06v41.6h-4.06zM470.39 1104.2h4.06v41.6h-4.06zM527.35 1104.2h4.06v41.6h-4.06zM562.94 1104.2h4.06v41.6h-4.06zM619.89 1104.2h4.06v41.6h-4.06zM623.45 1104.2h4.06v41.6h-4.06zM730.24 1104.2h4.06v41.6h-4.06zM740.92 1104.2h4.06v41.6h-4.06zM812.11 1104.2h4.06v41.6h-4.06zM826.35 1104.2h4.06v41.6h-4.06zM1182.31 1104.2h4.06v41.6h-4.06zM1185.87 1104.2h4.06v41.6h-4.06zM1239.27 1104.2h4.06v41.6h-4.06z"/>
<path fill="#f3f6fc" d="M228.34 239.0h4.06v41.6h-4.06zM231.90 239.0h4.06v41.6h-4.06zM235.46 239.0h4.06v41.6h-4.06zM246.14 239.0h4.06v41.6h-4.06zM249.70 239.0h4.06v41.6h-4.06zM253.26 239.0h4.06v41.6h-4.06zM256.82 239.0h4.06v41.6h-4.06zM260.37 239.0h4.06v41.6h-4.06zM267.49 239.0h4.06v41.6h-4.06zM271.05 239.0h4.06v41.6h-4.06zM288.85 239.0h4.06v41.6h-4.06zM292.41 239.0h4.06v41.6h-4.06zM295.97 239.0h4.06v41.6h-4.06zM342.25 239.0h4.06v41.6h-4.06zM345.81 239.0h4.06v41.6h-4.06zM349.36 239.0h4.06v41.6h-4.06zM352.92 239.0h4.06v41.6h-4.06zM395.64 239.0h4.06v41.6h-4.06zM399.20 239.0h4.06v41.6h-4.06zM402.76 239.0h4.06v41.6h-4.06zM459.71 239.0h4.06v41.6h-4.06zM463.27 239.0h4.06v41.6h-4.06zM466.83 239.0h4.06v41.6h-4.06zM484.63 239.0h4.06v41.6h-4.06zM527.35 239.0h4.06v41.6h-4.06zM530.90 239.0h4.06v41.6h-4.06zM534.46 239.0h4.06v41.6h-4.06zM538.02 239.0h4.06v41.6h-4.06zM545.14 239.0h4.06v41.6h-4.06zM555.82 239.0h4.06v41.6h-4.06zM559.38 239.0h4.06v41.6h-4.06zM562.94 239.0h4.06v41.6h-4.06zM577.18 239.0h4.06v41.6h-4.06zM580.74 239.0h4.06v41.6h-4.06zM584.30 239.0h4.06v41.6h-4.06zM609.22 239.0h4.06v41.6h-4.06zM612.78 239.0h4.06v41.6h-4.06zM616.34 239.0h4.06v41.6h-4.06zM619.89 239.0h4.06v41.6h-4.06zM662.61 239.0h4.06v41.6h-4.06zM694.65 239.0h4.06v41.6h-4.06zM698.21 239.0h4.06v41.6h-4.06zM705.33 239.0h4.06v41.6h-4.06zM708.88 239.0h4.06v41.6h-4.06zM712.44 239.0h4.06v41.6h-4.06zM723.12 239.0h4.06v41.6h-4.06zM726.68 239.0h4.06v41.6h-4.06zM730.24 239.0h4.06v41.6h-4.06zM748.04 239.0h4.06v41.6h-4.06zM772.96 239.0h4.06v41.6h-4.06zM790.76 239.0h4.06v41.6h-4.06zM840.59 239.0h4.06v41.6h-4.06zM847.71 239.0h4.06v41.6h-4.06zM851.27 239.0h4.06v41.6h-4.06zM1068.40 239.0h4.06v41.6h-4.06zM1111.12 239.0h4.06v41.6h-4.06zM1182.31 239.0h4.06v41.6h-4.06zM1185.87 239.0h4.06v41.6h-4.06zM249.70 280.2h4.06v41.6h-4.06zM260.37 280.2h4.06v41.6h-4.06zM331.57 280.2h4.06v41.6h-4.06zM335.13 280.2h4.06v41.6h-4.06zM384.96 280.2h4.06v41.6h-4.06zM420.56 280.2h4.06v41.6h-4.06zM424.12 280.2h4.06v41.6h-4.06zM427.68 280.2h4.06v41.6h-4.06zM431.24 280.2h4.06v41.6h-4.06zM441.91 280.2h4.06v41.6h-4.06zM445.47 280.2h4.06v41.6h-4.06zM498.87 280.2h4.06v41.6h-4.06zM523.79 280.2h4.06v41.6h-4.06zM538.02 280.2h4.06v41.6h-4.06zM541.58 280.2h4.06v41.6h-4.06zM548.70 280.2h4.06v41.6h-4.06zM552.26 280.2h4.06v41.6h-4.06zM573.62 280.2h4.06v41.6h-4.06zM605.66 280.2h4.06v41.6h-4.06zM666.17 280.2h4.06v41.6h-4.06zM669.73 280.2h4.06v41.6h-4.06zM772.96 280.2h4.06v41.6h-4.06zM776.52 280.2h4.06v41.6h-4.06zM829.91 280.2h4.06v41.6h-4.06zM872.63 280.2h4.06v41.6h-4.06zM1096.88 280.2h4.06v41.6h-4.06zM1125.36 280.2h4.06v41.6h-4.06zM1128.92 280.2h4.06v41.6h-4.06zM1214.35 280.2h4.06v41.6h-4.06zM1217.91 280.2h4.06v41.6h-4.06zM1221.47 280.2h4.06v41.6h-4.06zM235.46 321.4h4.06v41.6h-4.06zM239.02 321.4h4.06v41.6h-4.06zM242.58 321.4h4.06v41.6h-4.06zM246.14 321.4h4.06v41.6h-4.06zM249.70 321.4h4.06v41.6h-4.06zM253.26 321.4h4.06v41.6h-4.06zM256.82 321.4h4.06v41.6h-4.06zM260.37 321.4h4.06v41.6h-4.06zM263.93 321.4h4.06v41.6h-4.06zM267.49 321.4h4.06v41.6h-4.06zM271.05 321.4h4.06v41.6h-4.06zM274.61 321.4h4.06v41.6h-4.06zM278.17 321.4h4.06v41.6h-4.06zM281.73 321.4h4.06v41.6h-4.06zM306.65 321.4h4.06v41.6h-4.06zM310.21 321.4h4.06v41.6h-4.06zM320.89 321.4h4.06v41.6h-4.06zM324.45 321.4h4.06v41.6h-4.06zM328.01 321.4h4.06v41.6h-4.06zM331.57 321.4h4.06v41.6h-4.06zM335.13 321.4h4.06v41.6h-4.06zM370.72 321.4h4.06v41.6h-4.06zM374.28 321.4h4.06v41.6h-4.06zM402.76 321.4h4.06v41.6h-4.06zM406.32 321.4h4.06v41.6h-4.06zM427.68 321.4h4.06v41.6h-4.06zM431.24 321.4h4.06v41.6h-4.06zM441.91 321.4h4.06v41.6h-4.06zM445.47 321.4h4.06v41.6h-4.06zM449.03 321.4h4.06v41.6h-4.06zM459.71 321.4h4.06v41.6h-4.06zM463.27 321.4h4.06v41.6h-4.06zM484.63 321.4h4.06v41.6h-4.06zM488.19 321.4h4.06v41.6h-4.06zM502.43 321.4h4.06v41.6h-4.06zM505.99 321.4h4.06v41.6h-4.06zM509.55 321.4h4.06v41.6h-4.06zM516.67 321.4h4.06v41.6h-4.06zM520.23 321.4h4.06v41.6h-4.06zM523.79 321.4h4.06v41.6h-4.06zM527.35 321.4h4.06v41.6h-4.06zM541.58 321.4h4.06v41.6h-4.06zM545.14 321.4h4.06v41.6h-4.06zM548.70 321.4h4.06v41.6h-4.06zM552.26 321.4h4.06v41.6h-4.06zM562.94 321.4h4.06v41.6h-4.06zM566.50 321.4h4.06v41.6h-4.06zM570.06 321.4h4.06v41.6h-4.06zM573.62 321.4h4.06v41.6h-4.06zM577.18 321.4h4.06v41.6h-4.06zM591.42 321.4h4.06v41.6h-4.06zM605.66 321.4h4.06v41.6h-4.06zM623.45 321.4h4.06v41.6h-4.06zM637.69 321.4h4.06v41.6h-4.06zM641.25 321.4h4.06v41.6h-4.06zM655.49 321.4h4.06v41.6h-4.06zM659.05 321.4h4.06v41.6h-4.06zM662.61 321.4h4.06v41.6h-4.06zM669.73 321.4h4.06v41.6h-4.06zM673.29 321.4h4.06v41.6h-4.06zM676.85 321.4h4.06v41.6h-4.06zM680.41 321.4h4.06v41.6h-4.06zM708.88 321.4h4.06v41.6h-4.06zM712.44 321.4h4.06v41.6h-4.06zM762.28 321.4h4.06v41.6h-4.06zM765.84 321.4h4.06v41.6h-4.06zM769.40 321.4h4.06v41.6h-4.06zM772.96 321.4h4.06v41.6h-4.06zM790.76 321.4h4.06v41.6h-4.06zM794.32 321.4h4.06v41.6h-4.06zM797.87 321.4h4.06v41.6h-4.06zM801.43 321.4h4.06v41.6h-4.06zM804.99 321.4h4.06v41.6h-4.06zM812.11 321.4h4.06v41.6h-4.06zM815.67 321.4h4.06v41.6h-4.06zM819.23 321.4h4.06v41.6h-4.06zM822.79 321.4h4.06v41.6h-4.06zM840.59 321.4h4.06v41.6h-4.06zM844.15 321.4h4.06v41.6h-4.06zM847.71 321.4h4.06v41.6h-4.06zM851.27 321.4h4.06v41.6h-4.06zM861.95 321.4h4.06v41.6h-4.06zM865.51 321.4h4.06v41.6h-4.06zM869.07 321.4h4.06v41.6h-4.06zM872.63 321.4h4.06v41.6h-4.06zM893.98 321.4h4.06v41.6h-4.06zM897.54 321.4h4.06v41.6h-4.06zM911.78 321.4h4.06v41.6h-4.06zM915.34 321.4h4.06v41.6h-4.06zM936.70 321.4h4.06v41.6h-4.06zM940.26 321.4h4.06v41.6h-4.06zM943.82 321.4h4.06v41.6h-4.06zM947.38 321.4h4.06v41.6h-4.06zM950.94 321.4h4.06v41.6h-4.06zM954.50 321.4h4.06v41.6h-4.06zM982.97 321.4h4.06v41.6h-4.06zM986.53 321.4h4.06v41.6h-4.06zM993.65 321.4h4.06v41.6h-4.06zM997.21 321.4h4.06v41.6h-4.06zM1011.45 321.4h4.06v41.6h-4.06zM1025.69 321.4h4.06v41.6h-4.06zM1029.25 321.4h4.06v41.6h-4.06zM1032.81 321.4h4.06v41.6h-4.06zM1050.61 321.4h4.06v41.6h-4.06zM1054.17 321.4h4.06v41.6h-4.06zM1146.72 321.4h4.06v41.6h-4.06zM1150.28 321.4h4.06v41.6h-4.06zM1153.84 321.4h4.06v41.6h-4.06zM1157.39 321.4h4.06v41.6h-4.06zM1160.95 321.4h4.06v41.6h-4.06zM1182.31 321.4h4.06v41.6h-4.06zM1185.87 321.4h4.06v41.6h-4.06zM1189.43 321.4h4.06v41.6h-4.06zM1192.99 321.4h4.06v41.6h-4.06zM1196.55 321.4h4.06v41.6h-4.06zM1200.11 321.4h4.06v41.6h-4.06zM1207.23 321.4h4.06v41.6h-4.06zM1225.03 321.4h4.06v41.6h-4.06zM1228.59 321.4h4.06v41.6h-4.06zM1232.15 321.4h4.06v41.6h-4.06zM1239.27 321.4h4.06v41.6h-4.06zM1242.83 321.4h4.06v41.6h-4.06zM1246.38 321.4h4.06v41.6h-4.06zM1249.94 321.4h4.06v41.6h-4.06zM1253.50 321.4h4.06v41.6h-4.06zM1264.18 321.4h4.06v41.6h-4.06zM1267.74 321.4h4.06v41.6h-4.06zM217.66 362.6h4.06v41.6h-4.06zM224.78 362.6h4.06v41.6h-4.06zM249.70 362.6h4.06v41.6h-4.06zM253.26 362.6h4.06v41.6h-4.06zM267.49 362.6h4.06v41.6h-4.06zM274.61 362.6h4.06v41.6h-4.06zM288.85 362.6h4.06v41.6h-4.06zM292.41 362.6h4.06v41.6h-4.06zM295.97 362.6h4.06v41.6h-4.06zM299.53 362.6h4.06v41.6h-4.06zM331.57 362.6h4.06v41.6h-4.06zM335.13 362.6h4.06v41.6h-4.06zM338.69 362.6h4.06v41.6h-4.06zM342.25 362.6h4.06v41.6h-4.06zM345.81 362.6h4.06v41.6h-4.06zM367.16 362.6h4.06v41.6h-4.06zM402.76 362.6h4.06v41.6h-4.06zM406.32 362.6h4.06v41.6h-4.06zM424.12 362.6h4.06v41.6h-4.06zM463.27 362.6h4.06v41.6h-4.06zM502.43 362.6h4.06v41.6h-4.06zM505.99 362.6h4.06v41.6h-4.06zM516.67 362.6h4.06v41.6h-4.06zM520.23 362.6h4.06v41.6h-4.06zM523.79 362.6h4.06v41.6h-4.06zM552.26 362.6h4.06v41.6h-4.06zM555.82 362.6h4.06v41.6h-4.06zM559.38 362.6h4.06v41.6h-4.06zM577.18 362.6h4.06v41.6h-4.06zM619.89 362.6h4.06v41.6h-4.06zM659.05 362.6h4.06v41.6h-4.06zM683.97 362.6h4.06v41.6h-4.06zM687.53 362.6h4.06v41.6h-4.06zM694.65 362.6h4.06v41.6h-4.06zM698.21 362.6h4.06v41.6h-4.06zM772.96 362.6h4.06v41.6h-4.06zM797.87 362.6h4.06v41.6h-4.06zM801.43 362.6h4.06v41.6h-4.06zM812.11 362.6h4.06v41.6h-4.06zM815.67 362.6h4.06v41.6h-4.06zM837.03 362.6h4.06v41.6h-4.06zM840.59 362.6h4.06v41.6h-4.06zM929.58 362.6h4.06v41.6h-4.06zM933.14 362.6h4.06v41.6h-4.06zM1000.77 362.6h4.06v41.6h-4.06zM1068.40 362.6h4.06v41.6h-4.06zM1075.52 362.6h4.06v41.6h-4.06zM1086.20 362.6h4.06v41.6h-4.06zM1089.76 362.6h4.06v41.6h-4.06zM1111.12 362.6h4.06v41.6h-4.06zM1249.94 362.6h4.06v41.6h-4.06zM1253.50 362.6h4.06v41.6h-4.06zM217.66 403.8h4.06v41.6h-4.06zM221.22 403.8h4.06v41.6h-4.06zM224.78 403.8h4.06v41.6h-4.06zM228.34 403.8h4.06v41.6h-4.06zM231.90 403.8h4.06v41.6h-4.06zM235.46 403.8h4.06v41.6h-4.06zM242.58 403.8h4.06v41.6h-4.06zM246.14 403.8h4.06v41.6h-4.06zM253.26 403.8h4.06v41.6h-4.06zM267.49 403.8h4.06v41.6h-4.06zM274.61 403.8h4.06v41.6h-4.06zM288.85 403.8h4.06v41.6h-4.06zM292.41 403.8h4.06v41.6h-4.06zM295.97 403.8h4.06v41.6h-4.06zM299.53 403.8h4.06v41.6h-4.06zM310.21 403.8h4.06v41.6h-4.06zM313.77 403.8h4.06v41.6h-4.06zM317.33 403.8h4.06v41.6h-4.06zM328.01 403.8h4.06v41.6h-4.06zM342.25 403.8h4.06v41.6h-4.06zM345.81 403.8h4.06v41.6h-4.06zM349.36 403.8h4.06v41.6h-4.06zM352.92 403.8h4.06v41.6h-4.06zM384.96 403.8h4.06v41.6h-4.06zM388.52 403.8h4.06v41.6h-4.06zM392.08 403.8h4.06v41.6h-4.06zM395.64 403.8h4.06v41.6h-4.06zM399.20 403.8h4.06v41.6h-4.06zM402.76 403.8h4.06v41.6h-4.06zM463.27 403.8h4.06v41.6h-4.06zM466.83 403.8h4.06v41.6h-4.06zM477.51 403.8h4.06v41.6h-4.06zM481.07 403.8h4.06v41.6h-4.06zM498.87 403.8h4.06v41.6h-4.06zM502.43 403.8h4.06v41.6h-4.06zM505.99 403.8h4.06v41.6h-4.06zM534.46 403.8h4.06v41.6h-4.06zM545.14 403.8h4.06v41.6h-4.06zM548.70 403.8h4.06v41.6h-4.06zM555.82 403.8h4.06v41.6h-4.06zM559.38 403.8h4.06v41.6h-4.06zM562.94 403.8h4.06v41.6h-4.06zM566.50 403.8h4.06v41.6h-4.06zM570.06 403.8h4.06v41.6h-4.06zM573.62 403.8h4.06v41.6h-4.06zM580.74 403.8h4.06v41.6h-4.06zM584.30 403.8h4.06v41.6h-4.06zM619.89 403.8h4.06v41.6h-4.06zM634.13 403.8h4.06v41.6h-4.06zM637.69 403.8h4.06v41.6h-4.06zM641.25 403.8h4.06v41.6h-4.06zM644.81 403.8h4.06v41.6h-4.06zM648.37 403.8h4.06v41.6h-4.06zM659.05 403.8h4.06v41.6h-4.06zM662.61 403.8h4.06v41.6h-4.06zM666.17 403.8h4.06v41.6h-4.06zM676.85 403.8h4.06v41.6h-4.06zM740.92 403.8h4.06v41.6h-4.06zM744.48 403.8h4.06v41.6h-4.06zM748.04 403.8h4.06v41.6h-4.06zM772.96 403.8h4.06v41.6h-4.06zM776.52 403.8h4.06v41.6h-4.06zM844.15 403.8h4.06v41.6h-4.06zM876.19 403.8h4.06v41.6h-4.06zM1032.81 403.8h4.06v41.6h-4.06zM1061.29 403.8h4.06v41.6h-4.06zM1104.00 403.8h4.06v41.6h-4.06zM1125.36 403.8h4.06v41.6h-4.06zM1157.39 403.8h4.06v41.6h-4.06zM1228.59 403.8h4.06v41.6h-4.06zM1232.15 403.8h4.06v41.6h-4.06zM231.90 445.0h4.06v41.6h-4.06zM235.46 445.0h4.06v41.6h-4.06zM242.58 445.0h4.06v41.6h-4.06zM246.14 445.0h4.06v41.6h-4.06zM249.70 445.0h4.06v41.6h-4.06zM253.26 445.0h4.06v41.6h-4.06zM288.85 445.0h4.06v41.6h-4.06zM335.13 445.0h4.06v41.6h-4.06zM345.81 445.0h4.06v41.6h-4.06zM352.92 445.0h4.06v41.6h-4.06zM381.40 445.0h4.06v41.6h-4.06zM384.96 445.0h4.06v41.6h-4.06zM388.52 445.0h4.06v41.6h-4.06zM402.76 445.0h4.06v41.6h-4.06zM463.27 445.0h4.06v41.6h-4.06zM466.83 445.0h4.06v41.6h-4.06zM470.39 445.0h4.06v41.6h-4.06zM473.95 445.0h4.06v41.6h-4.06zM477.51 445.0h4.06v41.6h-4.06zM481.07 445.0h4.06v41.6h-4.06zM527.35 445.0h4.06v41.6h-4.06zM530.90 445.0h4.06v41.6h-4.06zM534.46 445.0h4.06v41.6h-4.06zM555.82 445.0h4.06v41.6h-4.06zM559.38 445.0h4.06v41.6h-4.06zM562.94 445.0h4.06v41.6h-4.06zM587.86 445.0h4.06v41.6h-4.06zM591.42 445.0h4.06v41.6h-4.06zM594.98 445.0h4.06v41.6h-4.06zM598.54 445.0h4.06v41.6h-4.06zM609.22 445.0h4.06v41.6h-4.06zM612.78 445.0h4.06v41.6h-4.06zM619.89 445.0h4.06v41.6h-4.06zM634.13 445.0h4.06v41.6h-4.06zM637.69 445.0h4.06v41.6h-4.06zM641.25 445.0h4.06v41.6h-4.06zM673.29 445.0h4.06v41.6h-4.06zM676.85 445.0h4.06v41.6h-4.06zM680.41 445.0h4.06v41.6h-4.06zM705.33 445.0h4.06v41.6h-4.06zM708.88 445.0h4.06v41.6h-4.06zM730.24 445.0h4.06v41.6h-4.06zM733.80 445.0h4.06v41.6h-4.06zM790.76 445.0h4.06v41.6h-4.06zM858.39 445.0h4.06v41.6h-4.06zM861.95 445.0h4.06v41.6h-4.06zM904.66 445.0h4.06v41.6h-4.06zM943.82 445.0h4.06v41.6h-4.06zM950.94 445.0h4.06v41.6h-4.06zM954.50 445.0h4.06v41.6h-4.06zM958.06 445.0h4.06v41.6h-4.06zM1022.13 445.0h4.06v41.6h-4.06zM1047.05 445.0h4.06v41.6h-4.06zM1050.61 445.0h4.06v41.6h-4.06zM1104.00 445.0h4.06v41.6h-4.06zM1153.84 445.0h4.06v41.6h-4.06zM221.22 486.2h4.06v41.6h-4.06zM253.26 486.2h4.06v41.6h-4.06zM256.82 486.2h4.06v41.6h-4.06zM260.37 486.2h4.06v41.6h-4.06zM285.29 486.2h4.06v41.6h-4.06zM292.41 486.2h4.06v41.6h-4.06zM295.97 486.2h4.06v41.6h-4.06zM352.92 486.2h4.06v41.6h-4.06zM356.48 486.2h4.06v41.6h-4.06zM424.12 486.2h4.06v41.6h-4.06zM441.91 486.2h4.06v41.6h-4.06zM463.27 486.2h4.06v41.6h-4.06zM470.39 486.2h4.06v41.6h-4.06zM473.95 486.2h4.06v41.6h-4.06zM527.35 486.2h4.06v41.6h-4.06zM530.90 486.2h4.06v41.6h-4.06zM534.46 486.2h4.06v41.6h-4.06zM598.54 486.2h4.06v41.6h-4.06zM602.10 486.2h4.06v41.6h-4.06zM605.66 486.2h4.06v41.6h-4.06zM609.22 486.2h4.06v41.6h-4.06zM619.89 486.2h4.06v41.6h-4.06zM623.45 486.2h4.06v41.6h-4.06zM659.05 486.2h4.06v41.6h-4.06zM662.61 486.2h4.06v41.6h-4.06zM666.17 486.2h4.06v41.6h-4.06zM694.65 486.2h4.06v41.6h-4.06zM755.16 486.2h4.06v41.6h-4.06zM790.76 486.2h4.06v41.6h-4.06zM808.55 486.2h4.06v41.6h-4.06zM812.11 486.2h4.06v41.6h-4.06zM822.79 486.2h4.06v41.6h-4.06zM837.03 486.2h4.06v41.6h-4.06zM840.59 486.2h4.06v41.6h-4.06zM890.42 486.2h4.06v41.6h-4.06zM940.26 486.2h4.06v41.6h-4.06zM943.82 486.2h4.06v41.6h-4.06zM958.06 486.2h4.06v41.6h-4.06zM961.62 486.2h4.06v41.6h-4.06zM986.53 486.2h4.06v41.6h-4.06zM990.09 486.2h4.06v41.6h-4.06zM1022.13 486.2h4.06v41.6h-4.06zM1153.84 486.2h4.06v41.6h-4.06zM1157.39 486.2h4.06v41.6h-4.06zM1182.31 486.2h4.06v41.6h-4.06zM1185.87 486.2h4.06v41.6h-4.06zM1189.43 486.2h4.06v41.6h-4.06zM1192.99 486.2h4.06v41.6h-4.06zM1196.55 486.2h4.06v41.6h-4.06zM1210.79 486.2h4.06v41.6h-4.06zM1239.27 486.2h4.06v41.6h-4.06zM1242.83 486.2h4.06v41.6h-4.06zM1274.86 486.2h4.06v41.6h-4.06zM217.66 527.4h4.06v41.6h-4.06zM242.58 527.4h4.06v41.6h-4.06zM278.17 527.4h4.06v41.6h-4.06zM320.89 527.4h4.06v41.6h-4.06zM367.16 527.4h4.06v41.6h-4.06zM498.87 527.4h4.06v41.6h-4.06zM502.43 527.4h4.06v41.6h-4.06zM520.23 527.4h4.06v41.6h-4.06zM523.79 527.4h4.06v41.6h-4.06zM527.35 527.4h4.06v41.6h-4.06zM545.14 527.4h4.06v41.6h-4.06zM548.70 527.4h4.06v41.6h-4.06zM555.82 527.4h4.06v41.6h-4.06zM559.38 527.4h4.06v41.6h-4.06zM562.94 527.4h4.06v41.6h-4.06zM577.18 527.4h4.06v41.6h-4.06zM619.89 527.4h4.06v41.6h-4.06zM623.45 527.4h4.06v41.6h-4.06zM651.93 527.4h4.06v41.6h-4.06zM655.49 527.4h4.06v41.6h-4.06zM659.05 527.4h4.06v41.6h-4.06zM662.61 527.4h4.06v41.6h-4.06zM666.17 527.4h4.06v41.6h-4.06zM737.36 527.4h4.06v41.6h-4.06zM790.76 527.4h4.06v41.6h-4.06zM794.32 527.4h4.06v41.6h-4.06zM815.67 527.4h4.06v41.6h-4.06zM819.23 527.4h4.06v41.6h-4.06zM1022.13 527.4h4.06v41.6h-4.06zM1050.61 527.4h4.06v41.6h-4.06zM1064.85 527.4h4.06v41.6h-4.06zM1068.40 527.4h4.06v41.6h-4.06zM1071.96 527.4h4.06v41.6h-4.06zM1086.20 527.4h4.06v41.6h-4.06zM1118.24 527.4h4.06v41.6h-4.06zM1121.80 527.4h4.06v41.6h-4.06zM1139.60 527.4h4.06v41.6h-4.06zM1153.84 527.4h4.06v41.6h-4.06zM1157.39 527.4h4.06v41.6h-4.06zM1182.31 527.4h4.06v41.6h-4.06zM1185.87 527.4h4.06v41.6h-4.06zM1189.43 527.4h4.06v41.6h-4.06zM1196.55 527.4h4.06v41.6h-4.06zM1225.03 527.4h4.06v41.6h-4.06zM1228.59 527.4h4.06v41.6h-4.06zM1232.15 527.4h4.06v41.6h-4.06zM1235.71 527.4h4.06v41.6h-4.06zM1239.27 527.4h4.06v41.6h-4.06zM1253.50 527.4h4.06v41.6h-4.06zM1257.06 527.4h4.06v41.6h-4.06zM217.66 568.6h4.06v41.6h-4.06zM274.61 568.6h4.06v41.6h-4.06zM324.45 568.6h4.06v41.6h-4.06zM349.36 568.6h4.06v41.6h-4.06zM352.92 568.6h4.06v41.6h-4.06zM463.27 568.6h4.06v41.6h-4.06zM466.83 568.6h4.06v41.6h-4.06zM470.39 568.6h4.06v41.6h-4.06zM473.95 568.6h4.06v41.6h-4.06zM477.51 568.6h4.06v41.6h-4.06zM484.63 568.6h4.06v41.6h-4.06zM498.87 568.6h4.06v41.6h-4.06zM502.43 568.6h4.06v41.6h-4.06zM505.99 568.6h4.06v41.6h-4.06zM509.55 568.6h4.06v41.6h-4.06zM523.79 568.6h4.06v41.6h-4.06zM527.35 568.6h4.06v41.6h-4.06zM530.90 568.6h4.06v41.6h-4.06zM534.46 568.6h4.06v41.6h-4.06zM545.14 568.6h4.06v41.6h-4.06zM548.70 568.6h4.06v41.6h-4.06zM555.82 568.6h4.06v41.6h-4.06zM559.38 568.6h4.06v41.6h-4.06zM562.94 568.6h4.06v41.6h-4.06zM619.89 568.6h4.06v41.6h-4.06zM634.13 568.6h4.06v41.6h-4.06zM666.17 568.6h4.06v41.6h-4.06zM669.73 568.6h4.06v41.6h-4.06zM673.29 568.6h4.06v41.6h-4.06zM705.33 568.6h4.06v41.6h-4.06zM708.88 568.6h4.06v41.6h-4.06zM755.16 568.6h4.06v41.6h-4.06zM772.96 568.6h4.06v41.6h-4.06zM776.52 568.6h4.06v41.6h-4.06zM790.76 568.6h4.06v41.6h-4.06zM844.15 568.6h4.06v41.6h-4.06zM847.71 568.6h4.06v41.6h-4.06zM851.27 568.6h4.06v41.6h-4.06zM1022.13 568.6h4.06v41.6h-4.06zM1039.93 568.6h4.06v41.6h-4.06zM1043.49 568.6h4.06v41.6h-4.06zM1086.20 568.6h4.06v41.6h-4.06zM1153.84 568.6h4.06v41.6h-4.06zM1182.31 568.6h4.06v41.6h-4.06zM1185.87 568.6h4.06v41.6h-4.06zM1189.43 568.6h4.06v41.6h-4.06zM1192.99 568.6h4.06v41.6h-4.06zM1196.55 568.6h4.06v41.6h-4.06zM1200.11 568.6h4.06v41.6h-4.06zM1249.94 568.6h4.06v41.6h-4.06zM1253.50 568.6h4.06v41.6h-4.06zM1257.06 568.6h4.06v41.6h-4.06zM1267.74 568.6h4.06v41.6h-4.06zM217.66 609.8h4.06v41.6h-4.06zM320.89 609.8h4.06v41.6h-4.06zM402.76 609.8h4.06v41.6h-4.06zM406.32 609.8h4.06v41.6h-4.06zM424.12 609.8h4.06v41.6h-4.06zM459.71 609.8h4.06v41.6h-4.06zM463.27 609.8h4.06v41.6h-4.06zM466.83 609.8h4.06v41.6h-4.06zM470.39 609.8h4.06v41.6h-4.06zM473.95 609.8h4.06v41.6h-4.06zM477.51 609.8h4.06v41.6h-4.06zM481.07 609.8h4.06v41.6h-4.06zM502.43 609.8h4.06v41.6h-4.06zM505.99 609.8h4.06v41.6h-4.06zM516.67 609.8h4.06v41.6h-4.06zM520.23 609.8h4.06v41.6h-4.06zM523.79 609.8h4.06v41.6h-4.06zM545.14 609.8h4.06v41.6h-4.06zM555.82 609.8h4.06v41.6h-4.06zM559.38 609.8h4.06v41.6h-4.06zM562.94 609.8h4.06v41.6h-4.06zM570.06 609.8h4.06v41.6h-4.06zM573.62 609.8h4.06v41.6h-4.06zM577.18 609.8h4.06v41.6h-4.06zM598.54 609.8h4.06v41.6h-4.06zM605.66 609.8h4.06v41.6h-4.06zM609.22 609.8h4.06v41.6h-4.06zM619.89 609.8h4.06v41.6h-4.06zM623.45 609.8h4.06v41.6h-4.06zM627.01 609.8h4.06v41.6h-4.06zM730.24 609.8h4.06v41.6h-4.06zM733.80 609.8h4.06v41.6h-4.06zM822.79 609.8h4.06v41.6h-4.06zM826.35 609.8h4.06v41.6h-4.06zM829.91 609.8h4.06v41.6h-4.06zM851.27 609.8h4.06v41.6h-4.06zM854.83 609.8h4.06v41.6h-4.06zM883.31 609.8h4.06v41.6h-4.06zM886.86 609.8h4.06v41.6h-4.06zM890.42 609.8h4.06v41.6h-4.06zM908.22 609.8h4.06v41.6h-4.06zM911.78 609.8h4.06v41.6h-4.06zM990.09 609.8h4.06v41.6h-4.06zM993.65 609.8h4.06v41.6h-4.06zM1050.61 609.8h4.06v41.6h-4.06zM1054.17 609.8h4.06v41.6h-4.06zM1057.73 609.8h4.06v41.6h-4.06zM1168.07 609.8h4.06v41.6h-4.06zM1171.63 609.8h4.06v41.6h-4.06zM1175.19 609.8h4.06v41.6h-4.06zM1189.43 609.8h4.06v41.6h-4.06zM1192.99 609.8h4.06v41.6h-4.06zM1196.55 609.8h4.06v41.6h-4.06zM1200.11 609.8h4.06v41.6h-4.06zM1203.67 609.8h4.06v41.6h-4.06zM1232.15 609.8h4.06v41.6h-4.06zM1235.71 609.8h4.06v41.6h-4.06zM1249.94 609.8h4.06v41.6h-4.06zM1253.50 609.8h4.06v41.6h-4.06zM1257.06 609.8h4.06v41.6h-4.06zM1260.62 609.8h4.06v41.6h-4.06zM1264.18 609.8h4.06v41.6h-4.06zM231.90 651.0h4.06v41.6h-4.06zM235.46 651.0h4.06v41.6h-4.06zM242.58 651.0h4.06v41.6h-4.06zM278.17 651.0h4.06v41.6h-4.06zM306.65 651.0h4.06v41.6h-4.06zM310.21 651.0h4.06v41.6h-4.06zM324.45 651.0h4.06v41.6h-4.06zM459.71 651.0h4.06v41.6h-4.06zM463.27 651.0h4.06v41.6h-4.06zM484.63 651.0h4.06v41.6h-4.06zM498.87 651.0h4.06v41.6h-4.06zM502.43 651.0h4.06v41.6h-4.06zM505.99 651.0h4.06v41.6h-4.06zM509.55 651.0h4.06v41.6h-4.06zM527.35 651.0h4.06v41.6h-4.06zM530.90 651.0h4.06v41.6h-4.06zM541.58 651.0h4.06v41.6h-4.06zM545.14 651.0h4.06v41.6h-4.06zM555.82 651.0h4.06v41.6h-4.06zM559.38 651.0h4.06v41.6h-4.06zM562.94 651.0h4.06v41.6h-4.06zM570.06 651.0h4.06v41.6h-4.06zM577.18 651.0h4.06v41.6h-4.06zM605.66 651.0h4.06v41.6h-4.06zM609.22 651.0h4.06v41.6h-4.06zM623.45 651.0h4.06v41.6h-4.06zM627.01 651.0h4.06v41.6h-4.06zM651.93 651.0h4.06v41.6h-4.06zM655.49 651.0h4.06v41.6h-4.06zM691.09 651.0h4.06v41.6h-4.06zM694.65 651.0h4.06v41.6h-4.06zM698.21 651.0h4.06v41.6h-4.06zM701.77 651.0h4.06v41.6h-4.06zM748.04 651.0h4.06v41.6h-4.06zM751.60 651.0h4.06v41.6h-4.06zM762.28 651.0h4.06v41.6h-4.06zM772.96 651.0h4.06v41.6h-4.06zM776.52 651.0h4.06v41.6h-4.06zM804.99 651.0h4.06v41.6h-4.06zM808.55 651.0h4.06v41.6h-4.06zM840.59 651.0h4.06v41.6h-4.06zM858.39 651.0h4.06v41.6h-4.06zM872.63 651.0h4.06v41.6h-4.06zM879.75 651.0h4.06v41.6h-4.06zM883.31 651.0h4.06v41.6h-4.06zM886.86 651.0h4.06v41.6h-4.06zM890.42 651.0h4.06v41.6h-4.06zM918.90 651.0h4.06v41.6h-4.06zM968.74 651.0h4.06v41.6h-4.06zM972.30 651.0h4.06v41.6h-4.06zM975.85 651.0h4.06v41.6h-4.06zM1000.77 651.0h4.06v41.6h-4.06zM1022.13 651.0h4.06v41.6h-4.06zM1068.40 651.0h4.06v41.6h-4.06zM1071.96 651.0h4.06v41.6h-4.06zM1075.52 651.0h4.06v41.6h-4.06zM1132.48 651.0h4.06v41.6h-4.06zM1164.51 651.0h4.06v41.6h-4.06zM1168.07 651.0h4.06v41.6h-4.06zM1200.11 651.0h4.06v41.6h-4.06zM1228.59 651.0h4.06v41.6h-4.06zM1232.15 651.0h4.06v41.6h-4.06zM239.02 692.2h4.06v41.6h-4.06zM242.58 692.2h4.06v41.6h-4.06zM246.14 692.2h4.06v41.6h-4.06zM249.70 692.2h4.06v41.6h-4.06zM253.26 692.2h4.06v41.6h-4.06zM267.49 692.2h4.06v41.6h-4.06zM274.61 692.2h4.06v41.6h-4.06zM292.41 692.2h4.06v41.6h-4.06zM295.97 692.2h4.06v41.6h-4.06zM299.53 692.2h4.06v41.6h-4.06zM328.01 692.2h4.06v41.6h-4.06zM331.57 692.2h4.06v41.6h-4.06zM431.24 692.2h4.06v41.6h-4.06zM434.80 692.2h4.06v41.6h-4.06zM438.35 692.2h4.06v41.6h-4.06zM466.83 692.2h4.06v41.6h-4.06zM470.39 692.2h4.06v41.6h-4.06zM473.95 692.2h4.06v41.6h-4.06zM477.51 692.2h4.06v41.6h-4.06zM481.07 692.2h4.06v41.6h-4.06zM498.87 692.2h4.06v41.6h-4.06zM502.43 692.2h4.06v41.6h-4.06zM505.99 692.2h4.06v41.6h-4.06zM516.67 692.2h4.06v41.6h-4.06zM520.23 692.2h4.06v41.6h-4.06zM523.79 692.2h4.06v41.6h-4.06zM527.35 692.2h4.06v41.6h-4.06zM530.90 692.2h4.06v41.6h-4.06zM545.14 692.2h4.06v41.6h-4.06zM548.70 692.2h4.06v41.6h-4.06zM594.98 692.2h4.06v41.6h-4.06zM598.54 692.2h4.06v41.6h-4.06zM602.10 692.2h4.06v41.6h-4.06zM659.05 692.2h4.06v41.6h-4.06zM662.61 692.2h4.06v41.6h-4.06zM730.24 692.2h4.06v41.6h-4.06zM755.16 692.2h4.06v41.6h-4.06zM772.96 692.2h4.06v41.6h-4.06zM776.52 692.2h4.06v41.6h-4.06zM783.64 692.2h4.06v41.6h-4.06zM787.20 692.2h4.06v41.6h-4.06zM790.76 692.2h4.06v41.6h-4.06zM822.79 692.2h4.06v41.6h-4.06zM826.35 692.2h4.06v41.6h-4.06zM837.03 692.2h4.06v41.6h-4.06zM840.59 692.2h4.06v41.6h-4.06zM861.95 692.2h4.06v41.6h-4.06zM865.51 692.2h4.06v41.6h-4.06zM869.07 692.2h4.06v41.6h-4.06zM947.38 692.2h4.06v41.6h-4.06zM997.21 692.2h4.06v41.6h-4.06zM1036.37 692.2h4.06v41.6h-4.06zM1039.93 692.2h4.06v41.6h-4.06zM1057.73 692.2h4.06v41.6h-4.06zM1125.36 692.2h4.06v41.6h-4.06zM1164.51 692.2h4.06v41.6h-4.06zM1178.75 692.2h4.06v41.6h-4.06zM1182.31 692.2h4.06v41.6h-4.06zM1185.87 692.2h4.06v41.6h-4.06zM1189.43 692.2h4.06v41.6h-4.06zM1192.99 692.2h4.06v41.6h-4.06zM1210.79 692.2h4.06v41.6h-4.06zM1214.35 692.2h4.06v41.6h-4.06zM1217.91 692.2h4.06v41.6h-4.06zM1225.03 692.2h4.06v41.6h-4.06zM1228.59 692.2h4.06v41.6h-4.06zM1232.15 692.2h4.06v41.6h-4.06zM1260.62 692.2h4.06v41.6h-4.06zM217.66 733.4h4.06v41.6h-4.06zM221.22 733.4h4.06v41.6h-4.06zM224.78 733.4h4.06v41.6h-4.06zM228.34 733.4h4.06v41.6h-4.06zM231.90 733.4h4.06v41.6h-4.06zM267.49 733.4h4.06v41.6h-4.06zM278.17 733.4h4.06v41.6h-4.06zM281.73 733.4h4.06v41.6h-4.06zM288.85 733.4h4.06v41.6h-4.06zM292.41 733.4h4.06v41.6h-4.06zM295.97 733.4h4.06v41.6h-4.06zM299.53 733.4h4.06v41.6h-4.06zM349.36 733.4h4.06v41.6h-4.06zM352.92 733.4h4.06v41.6h-4.06zM356.48 733.4h4.06v41.6h-4.06zM449.03 733.4h4.06v41.6h-4.06zM466.83 733.4h4.06v41.6h-4.06zM470.39 733.4h4.06v41.6h-4.06zM509.55 733.4h4.06v41.6h-4.06zM527.35 733.4h4.06v41.6h-4.06zM530.90 733.4h4.06v41.6h-4.06zM545.14 733.4h4.06v41.6h-4.06zM548.70 733.4h4.06v41.6h-4.06zM555.82 733.4h4.06v41.6h-4.06zM559.38 733.4h4.06v41.6h-4.06zM562.94 733.4h4.06v41.6h-4.06zM577.18 733.4h4.06v41.6h-4.06zM619.89 733.4h4.06v41.6h-4.06zM623.45 733.4h4.06v41.6h-4.06zM627.01 733.4h4.06v41.6h-4.06zM651.93 733.4h4.06v41.6h-4.06zM705.33 733.4h4.06v41.6h-4.06zM755.16 733.4h4.06v41.6h-4.06zM790.76 733.4h4.06v41.6h-4.06zM801.43 733.4h4.06v41.6h-4.06zM840.59 733.4h4.06v41.6h-4.06zM844.15 733.4h4.06v41.6h-4.06zM847.71 733.4h4.06v41.6h-4.06zM851.27 733.4h4.06v41.6h-4.06zM854.83 733.4h4.06v41.6h-4.06zM958.06 733.4h4.06v41.6h-4.06zM961.62 733.4h4.06v41.6h-4.06zM968.74 733.4h4.06v41.6h-4.06zM1004.33 733.4h4.06v41.6h-4.06zM1007.89 733.4h4.06v41.6h-4.06zM1068.40 733.4h4.06v41.6h-4.06zM1075.52 733.4h4.06v41.6h-4.06zM1132.48 733.4h4.06v41.6h-4.06zM1136.04 733.4h4.06v41.6h-4.06zM1178.75 733.4h4.06v41.6h-4.06zM1182.31 733.4h4.06v41.6h-4.06zM1196.55 733.4h4.06v41.6h-4.06zM1200.11 733.4h4.06v41.6h-4.06zM1203.67 733.4h4.06v41.6h-4.06zM1207.23 733.4h4.06v41.6h-4.06zM1232.15 733.4h4.06v41.6h-4.06zM1267.74 733.4h4.06v41.6h-4.06zM1271.30 733.4h4.06v41.6h-4.06zM1274.86 733.4h4.06v41.6h-4.06zM246.14 774.6h4.06v41.6h-4.06zM249.70 774.6h4.06v41.6h-4.06zM267.49 774.6h4.06v41.6h-4.06zM274.61 774.6h4.06v41.6h-4.06zM288.85 774.6h4.06v41.6h-4.06zM292.41 774.6h4.06v41.6h-4.06zM295.97 774.6h4.06v41.6h-4.06zM299.53 774.6h4.06v41.6h-4.06zM328.01 774.6h4.06v41.6h-4.06zM331.57 774.6h4.06v41.6h-4.06zM335.13 774.6h4.06v41.6h-4.06zM349.36 774.6h4.06v41.6h-4.06zM352.92 774.6h4.06v41.6h-4.06zM459.71 774.6h4.06v41.6h-4.06zM463.27 774.6h4.06v41.6h-4.06zM466.83 774.6h4.06v41.6h-4.06zM470.39 774.6h4.06v41.6h-4.06zM473.95 774.6h4.06v41.6h-4.06zM477.51 774.6h4.06v41.6h-4.06zM481.07 774.6h4.06v41.6h-4.06zM502.43 774.6h4.06v41.6h-4.06zM505.99 774.6h4.06v41.6h-4.06zM513.11 774.6h4.06v41.6h-4.06zM516.67 774.6h4.06v41.6h-4.06zM520.23 774.6h4.06v41.6h-4.06zM523.79 774.6h4.06v41.6h-4.06zM555.82 774.6h4.06v41.6h-4.06zM559.38 774.6h4.06v41.6h-4.06zM562.94 774.6h4.06v41.6h-4.06zM577.18 774.6h4.06v41.6h-4.06zM748.04 774.6h4.06v41.6h-4.06zM840.59 774.6h4.06v41.6h-4.06zM936.70 774.6h4.06v41.6h-4.06zM940.26 774.6h4.06v41.6h-4.06zM1032.81 774.6h4.06v41.6h-4.06zM1047.05 774.6h4.06v41.6h-4.06zM1104.00 774.6h4.06v41.6h-4.06zM1239.27 774.6h4.06v41.6h-4.06zM1253.50 774.6h4.06v41.6h-4.06zM1257.06 774.6h4.06v41.6h-4.06zM267.49 815.8h4.06v41.6h-4.06zM288.85 815.8h4.06v41.6h-4.06zM310.21 815.8h4.06v41.6h-4.06zM331.57 815.8h4.06v41.6h-4.06zM335.13 815.8h4.06v41.6h-4.06zM338.69 815.8h4.06v41.6h-4.06zM342.25 815.8h4.06v41.6h-4.06zM345.81 815.8h4.06v41.6h-4.06zM352.92 815.8h4.06v41.6h-4.06zM356.48 815.8h4.06v41.6h-4.06zM360.04 815.8h4.06v41.6h-4.06zM367.16 815.8h4.06v41.6h-4.06zM370.72 815.8h4.06v41.6h-4.06zM374.28 815.8h4.06v41.6h-4.06zM402.76 815.8h4.06v41.6h-4.06zM431.24 815.8h4.06v41.6h-4.06zM434.80 815.8h4.06v41.6h-4.06zM438.35 815.8h4.06v41.6h-4.06zM445.47 815.8h4.06v41.6h-4.06zM463.27 815.8h4.06v41.6h-4.06zM470.39 815.8h4.06v41.6h-4.06zM473.95 815.8h4.06v41.6h-4.06zM477.51 815.8h4.06v41.6h-4.06zM481.07 815.8h4.06v41.6h-4.06zM484.63 815.8h4.06v41.6h-4.06zM488.19 815.8h4.06v41.6h-4.06zM491.75 815.8h4.06v41.6h-4.06zM495.31 815.8h4.06v41.6h-4.06zM516.67 815.8h4.06v41.6h-4.06zM520.23 815.8h4.06v41.6h-4.06zM523.79 815.8h4.06v41.6h-4.06zM555.82 815.8h4.06v41.6h-4.06zM559.38 815.8h4.06v41.6h-4.06zM562.94 815.8h4.06v41.6h-4.06zM566.50 815.8h4.06v41.6h-4.06zM730.24 815.8h4.06v41.6h-4.06zM733.80 815.8h4.06v41.6h-4.06zM772.96 815.8h4.06v41.6h-4.06zM776.52 815.8h4.06v41.6h-4.06zM790.76 815.8h4.06v41.6h-4.06zM801.43 815.8h4.06v41.6h-4.06zM865.51 815.8h4.06v41.6h-4.06zM890.42 815.8h4.06v41.6h-4.06zM893.98 815.8h4.06v41.6h-4.06zM897.54 815.8h4.06v41.6h-4.06zM993.65 815.8h4.06v41.6h-4.06zM997.21 815.8h4.06v41.6h-4.06zM1000.77 815.8h4.06v41.6h-4.06zM1004.33 815.8h4.06v41.6h-4.06zM1150.28 815.8h4.06v41.6h-4.06zM1153.84 815.8h4.06v41.6h-4.06zM1228.59 815.8h4.06v41.6h-4.06zM217.66 857.0h4.06v41.6h-4.06zM242.58 857.0h4.06v41.6h-4.06zM249.70 857.0h4.06v41.6h-4.06zM253.26 857.0h4.06v41.6h-4.06zM288.85 857.0h4.06v41.6h-4.06zM310.21 857.0h4.06v41.6h-4.06zM345.81 857.0h4.06v41.6h-4.06zM349.36 857.0h4.06v41.6h-4.06zM352.92 857.0h4.06v41.6h-4.06zM392.08 857.0h4.06v41.6h-4.06zM424.12 857.0h4.06v41.6h-4.06zM459.71 857.0h4.06v41.6h-4.06zM463.27 857.0h4.06v41.6h-4.06zM466.83 857.0h4.06v41.6h-4.06zM516.67 857.0h4.06v41.6h-4.06zM520.23 857.0h4.06v41.6h-4.06zM523.79 857.0h4.06v41.6h-4.06zM534.46 857.0h4.06v41.6h-4.06zM538.02 857.0h4.06v41.6h-4.06zM541.58 857.0h4.06v41.6h-4.06zM545.14 857.0h4.06v41.6h-4.06zM555.82 857.0h4.06v41.6h-4.06zM559.38 857.0h4.06v41.6h-4.06zM562.94 857.0h4.06v41.6h-4.06zM577.18 857.0h4.06v41.6h-4.06zM659.05 857.0h4.06v41.6h-4.06zM662.61 857.0h4.06v41.6h-4.06zM694.65 857.0h4.06v41.6h-4.06zM698.21 857.0h4.06v41.6h-4.06zM701.77 857.0h4.06v41.6h-4.06zM705.33 857.0h4.06v41.6h-4.06zM716.00 857.0h4.06v41.6h-4.06zM719.56 857.0h4.06v41.6h-4.06zM723.12 857.0h4.06v41.6h-4.06zM726.68 857.0h4.06v41.6h-4.06zM748.04 857.0h4.06v41.6h-4.06zM772.96 857.0h4.06v41.6h-4.06zM790.76 857.0h4.06v41.6h-4.06zM794.32 857.0h4.06v41.6h-4.06zM808.55 857.0h4.06v41.6h-4.06zM812.11 857.0h4.06v41.6h-4.06zM890.42 857.0h4.06v41.6h-4.06zM933.14 857.0h4.06v41.6h-4.06zM936.70 857.0h4.06v41.6h-4.06zM940.26 857.0h4.06v41.6h-4.06zM968.74 857.0h4.06v41.6h-4.06zM972.30 857.0h4.06v41.6h-4.06zM1036.37 857.0h4.06v41.6h-4.06zM1039.93 857.0h4.06v41.6h-4.06zM1043.49 857.0h4.06v41.6h-4.06zM1054.17 857.0h4.06v41.6h-4.06zM1086.20 857.0h4.06v41.6h-4.06zM1089.76 857.0h4.06v41.6h-4.06zM1093.32 857.0h4.06v41.6h-4.06zM1125.36 857.0h4.06v41.6h-4.06zM1175.19 857.0h4.06v41.6h-4.06zM1178.75 857.0h4.06v41.6h-4.06zM1182.31 857.0h4.06v41.6h-4.06zM1185.87 857.0h4.06v41.6h-4.06zM1196.55 857.0h4.06v41.6h-4.06zM1200.11 857.0h4.06v41.6h-4.06zM1203.67 857.0h4.06v41.6h-4.06zM1217.91 857.0h4.06v41.6h-4.06zM1225.03 857.0h4.06v41.6h-4.06zM1228.59 857.0h4.06v41.6h-4.06zM1232.15 857.0h4.06v41.6h-4.06zM1235.71 857.0h4.06v41.6h-4.06zM1239.27 857.0h4.06v41.6h-4.06zM231.90 898.2h4.06v41.6h-4.06zM235.46 898.2h4.06v41.6h-4.06zM253.26 898.2h4.06v41.6h-4.06zM281.73 898.2h4.06v41.6h-4.06zM285.29 898.2h4.06v41.6h-4.06zM317.33 898.2h4.06v41.6h-4.06zM320.89 898.2h4.06v41.6h-4.06zM335.13 898.2h4.06v41.6h-4.06zM338.69 898.2h4.06v41.6h-4.06zM384.96 898.2h4.06v41.6h-4.06zM388.52 898.2h4.06v41.6h-4.06zM424.12 898.2h4.06v41.6h-4.06zM484.63 898.2h4.06v41.6h-4.06zM498.87 898.2h4.06v41.6h-4.06zM502.43 898.2h4.06v41.6h-4.06zM505.99 898.2h4.06v41.6h-4.06zM609.22 898.2h4.06v41.6h-4.06zM612.78 898.2h4.06v41.6h-4.06zM616.34 898.2h4.06v41.6h-4.06zM623.45 898.2h4.06v41.6h-4.06zM662.61 898.2h4.06v41.6h-4.06zM666.17 898.2h4.06v41.6h-4.06zM687.53 898.2h4.06v41.6h-4.06zM691.09 898.2h4.06v41.6h-4.06zM694.65 898.2h4.06v41.6h-4.06zM698.21 898.2h4.06v41.6h-4.06zM701.77 898.2h4.06v41.6h-4.06zM772.96 898.2h4.06v41.6h-4.06zM812.11 898.2h4.06v41.6h-4.06zM815.67 898.2h4.06v41.6h-4.06zM822.79 898.2h4.06v41.6h-4.06zM826.35 898.2h4.06v41.6h-4.06zM829.91 898.2h4.06v41.6h-4.06zM844.15 898.2h4.06v41.6h-4.06zM847.71 898.2h4.06v41.6h-4.06zM851.27 898.2h4.06v41.6h-4.06zM879.75 898.2h4.06v41.6h-4.06zM883.31 898.2h4.06v41.6h-4.06zM886.86 898.2h4.06v41.6h-4.06zM936.70 898.2h4.06v41.6h-4.06zM1011.45 898.2h4.06v41.6h-4.06zM1015.01 898.2h4.06v41.6h-4.06zM1025.69 898.2h4.06v41.6h-4.06zM1118.24 898.2h4.06v41.6h-4.06zM1121.80 898.2h4.06v41.6h-4.06zM1153.84 898.2h4.06v41.6h-4.06zM1178.75 898.2h4.06v41.6h-4.06zM1182.31 898.2h4.06v41.6h-4.06zM1185.87 898.2h4.06v41.6h-4.06zM1189.43 898.2h4.06v41.6h-4.06zM246.14 939.4h4.06v41.6h-4.06zM249.70 939.4h4.06v41.6h-4.06zM253.26 939.4h4.06v41.6h-4.06zM288.85 939.4h4.06v41.6h-4.06zM292.41 939.4h4.06v41.6h-4.06zM295.97 939.4h4.06v41.6h-4.06zM299.53 939.4h4.06v41.6h-4.06zM310.21 939.4h4.06v41.6h-4.06zM313.77 939.4h4.06v41.6h-4.06zM317.33 939.4h4.06v41.6h-4.06zM320.89 939.4h4.06v41.6h-4.06zM328.01 939.4h4.06v41.6h-4.06zM331.57 939.4h4.06v41.6h-4.06zM335.13 939.4h4.06v41.6h-4.06zM356.48 939.4h4.06v41.6h-4.06zM370.72 939.4h4.06v41.6h-4.06zM402.76 939.4h4.06v41.6h-4.06zM466.83 939.4h4.06v41.6h-4.06zM470.39 939.4h4.06v41.6h-4.06zM491.75 939.4h4.06v41.6h-4.06zM495.31 939.4h4.06v41.6h-4.06zM498.87 939.4h4.06v41.6h-4.06zM527.35 939.4h4.06v41.6h-4.06zM530.90 939.4h4.06v41.6h-4.06zM555.82 939.4h4.06v41.6h-4.06zM559.38 939.4h4.06v41.6h-4.06zM609.22 939.4h4.06v41.6h-4.06zM612.78 939.4h4.06v41.6h-4.06zM637.69 939.4h4.06v41.6h-4.06zM641.25 939.4h4.06v41.6h-4.06zM676.85 939.4h4.06v41.6h-4.06zM755.16 939.4h4.06v41.6h-4.06zM772.96 939.4h4.06v41.6h-4.06zM776.52 939.4h4.06v41.6h-4.06zM965.18 939.4h4.06v41.6h-4.06zM1029.25 939.4h4.06v41.6h-4.06zM1036.37 939.4h4.06v41.6h-4.06zM1039.93 939.4h4.06v41.6h-4.06zM1043.49 939.4h4.06v41.6h-4.06zM1050.61 939.4h4.06v41.6h-4.06zM217.66 980.6h4.06v41.6h-4.06zM221.22 980.6h4.06v41.6h-4.06zM288.85 980.6h4.06v41.6h-4.06zM292.41 980.6h4.06v41.6h-4.06zM295.97 980.6h4.06v41.6h-4.06zM299.53 980.6h4.06v41.6h-4.06zM345.81 980.6h4.06v41.6h-4.06zM349.36 980.6h4.06v41.6h-4.06zM352.92 980.6h4.06v41.6h-4.06zM356.48 980.6h4.06v41.6h-4.06zM370.72 980.6h4.06v41.6h-4.06zM374.28 980.6h4.06v41.6h-4.06zM388.52 980.6h4.06v41.6h-4.06zM466.83 980.6h4.06v41.6h-4.06zM470.39 980.6h4.06v41.6h-4.06zM484.63 980.6h4.06v41.6h-4.06zM502.43 980.6h4.06v41.6h-4.06zM505.99 980.6h4.06v41.6h-4.06zM509.55 980.6h4.06v41.6h-4.06zM527.35 980.6h4.06v41.6h-4.06zM530.90 980.6h4.06v41.6h-4.06zM534.46 980.6h4.06v41.6h-4.06zM538.02 980.6h4.06v41.6h-4.06zM602.10 980.6h4.06v41.6h-4.06zM619.89 980.6h4.06v41.6h-4.06zM623.45 980.6h4.06v41.6h-4.06zM680.41 980.6h4.06v41.6h-4.06zM730.24 980.6h4.06v41.6h-4.06zM744.48 980.6h4.06v41.6h-4.06zM772.96 980.6h4.06v41.6h-4.06zM822.79 980.6h4.06v41.6h-4.06zM826.35 980.6h4.06v41.6h-4.06zM829.91 980.6h4.06v41.6h-4.06zM837.03 980.6h4.06v41.6h-4.06zM840.59 980.6h4.06v41.6h-4.06zM861.95 980.6h4.06v41.6h-4.06zM865.51 980.6h4.06v41.6h-4.06zM869.07 980.6h4.06v41.6h-4.06zM933.14 980.6h4.06v41.6h-4.06zM936.70 980.6h4.06v41.6h-4.06zM990.09 980.6h4.06v41.6h-4.06zM1039.93 980.6h4.06v41.6h-4.06zM1043.49 980.6h4.06v41.6h-4.06zM1068.40 980.6h4.06v41.6h-4.06zM1071.96 980.6h4.06v41.6h-4.06zM1075.52 980.6h4.06v41.6h-4.06zM1079.08 980.6h4.06v41.6h-4.06zM1217.91 980.6h4.06v41.6h-4.06zM217.66 1021.8h4.06v41.6h-4.06zM271.05 1021.8h4.06v41.6h-4.06zM274.61 1021.8h4.06v41.6h-4.06zM288.85 1021.8h4.06v41.6h-4.06zM292.41 1021.8h4.06v41.6h-4.06zM295.97 1021.8h4.06v41.6h-4.06zM299.53 1021.8h4.06v41.6h-4.06zM317.33 1021.8h4.06v41.6h-4.06zM320.89 1021.8h4.06v41.6h-4.06zM324.45 1021.8h4.06v41.6h-4.06zM360.04 1021.8h4.06v41.6h-4.06zM388.52 1021.8h4.06v41.6h-4.06zM470.39 1021.8h4.06v41.6h-4.06zM473.95 1021.8h4.06v41.6h-4.06zM477.51 1021.8h4.06v41.6h-4.06zM481.07 1021.8h4.06v41.6h-4.06zM498.87 1021.8h4.06v41.6h-4.06zM502.43 1021.8h4.06v41.6h-4.06zM530.90 1021.8h4.06v41.6h-4.06zM555.82 1021.8h4.06v41.6h-4.06zM619.89 1021.8h4.06v41.6h-4.06zM634.13 1021.8h4.06v41.6h-4.06zM666.17 1021.8h4.06v41.6h-4.06zM698.21 1021.8h4.06v41.6h-4.06zM783.64 1021.8h4.06v41.6h-4.06zM787.20 1021.8h4.06v41.6h-4.06zM790.76 1021.8h4.06v41.6h-4.06zM794.32 1021.8h4.06v41.6h-4.06zM840.59 1021.8h4.06v41.6h-4.06zM876.19 1021.8h4.06v41.6h-4.06zM890.42 1021.8h4.06v41.6h-4.06zM893.98 1021.8h4.06v41.6h-4.06zM897.54 1021.8h4.06v41.6h-4.06zM975.85 1021.8h4.06v41.6h-4.06zM997.21 1021.8h4.06v41.6h-4.06zM1000.77 1021.8h4.06v41.6h-4.06zM1029.25 1021.8h4.06v41.6h-4.06zM1068.40 1021.8h4.06v41.6h-4.06zM1153.84 1021.8h4.06v41.6h-4.06zM1267.74 1021.8h4.06v41.6h-4.06zM239.02 1063.0h4.06v41.6h-4.06zM242.58 1063.0h4.06v41.6h-4.06zM267.49 1063.0h4.06v41.6h-4.06zM271.05 1063.0h4.06v41.6h-4.06zM274.61 1063.0h4.06v41.6h-4.06zM278.17 1063.0h4.06v41.6h-4.06zM281.73 1063.0h4.06v41.6h-4.06zM285.29 1063.0h4.06v41.6h-4.06zM288.85 1063.0h4.06v41.6h-4.06zM292.41 1063.0h4.06v41.6h-4.06zM299.53 1063.0h4.06v41.6h-4.06zM303.09 1063.0h4.06v41.6h-4.06zM306.65 1063.0h4.06v41.6h-4.06zM310.21 1063.0h4.06v41.6h-4.06zM313.77 1063.0h4.06v41.6h-4.06zM317.33 1063.0h4.06v41.6h-4.06zM320.89 1063.0h4.06v41.6h-4.06zM324.45 1063.0h4.06v41.6h-4.06zM328.01 1063.0h4.06v41.6h-4.06zM331.57 1063.0h4.06v41.6h-4.06zM335.13 1063.0h4.06v41.6h-4.06zM338.69 1063.0h4.06v41.6h-4.06zM342.25 1063.0h4.06v41.6h-4.06zM345.81 1063.0h4.06v41.6h-4.06zM370.72 1063.0h4.06v41.6h-4.06zM374.28 1063.0h4.06v41.6h-4.06zM377.84 1063.0h4.06v41.6h-4.06zM381.40 1063.0h4.06v41.6h-4.06zM384.96 1063.0h4.06v41.6h-4.06zM388.52 1063.0h4.06v41.6h-4.06zM392.08 1063.0h4.06v41.6h-4.06zM456.15 1063.0h4.06v41.6h-4.06zM459.71 1063.0h4.06v41.6h-4.06zM463.27 1063.0h4.06v41.6h-4.06zM470.39 1063.0h4.06v41.6h-4.06zM473.95 1063.0h4.06v41.6h-4.06zM477.51 1063.0h4.06v41.6h-4.06zM481.07 1063.0h4.06v41.6h-4.06zM484.63 1063.0h4.06v41.6h-4.06zM488.19 1063.0h4.06v41.6h-4.06zM491.75 1063.0h4.06v41.6h-4.06zM495.31 1063.0h4.06v41.6h-4.06zM498.87 1063.0h4.06v41.6h-4.06zM502.43 1063.0h4.06v41.6h-4.06zM505.99 1063.0h4.06v41.6h-4.06zM509.55 1063.0h4.06v41.6h-4.06zM513.11 1063.0h4.06v41.6h-4.06zM516.67 1063.0h4.06v41.6h-4.06zM520.23 1063.0h4.06v41.6h-4.06zM523.79 1063.0h4.06v41.6h-4.06zM527.35 1063.0h4.06v41.6h-4.06zM538.02 1063.0h4.06v41.6h-4.06zM541.58 1063.0h4.06v41.6h-4.06zM545.14 1063.0h4.06v41.6h-4.06zM548.70 1063.0h4.06v41.6h-4.06zM552.26 1063.0h4.06v41.6h-4.06zM555.82 1063.0h4.06v41.6h-4.06zM559.38 1063.0h4.06v41.6h-4.06zM562.94 1063.0h4.06v41.6h-4.06zM566.50 1063.0h4.06v41.6h-4.06zM570.06 1063.0h4.06v41.6h-4.06zM573.62 1063.0h4.06v41.6h-4.06zM577.18 1063.0h4.06v41.6h-4.06zM580.74 1063.0h4.06v41.6h-4.06zM584.30 1063.0h4.06v41.6h-4.06zM587.86 1063.0h4.06v41.6h-4.06zM594.98 1063.0h4.06v41.6h-4.06zM598.54 1063.0h4.06v41.6h-4.06zM602.10 1063.0h4.06v41.6h-4.06zM605.66 1063.0h4.06v41.6h-4.06zM637.69 1063.0h4.06v41.6h-4.06zM641.25 1063.0h4.06v41.6h-4.06zM644.81 1063.0h4.06v41.6h-4.06zM648.37 1063.0h4.06v41.6h-4.06zM659.05 1063.0h4.06v41.6h-4.06zM662.61 1063.0h4.06v41.6h-4.06zM666.17 1063.0h4.06v41.6h-4.06zM669.73 1063.0h4.06v41.6h-4.06zM673.29 1063.0h4.06v41.6h-4.06zM691.09 1063.0h4.06v41.6h-4.06zM694.65 1063.0h4.06v41.6h-4.06zM698.21 1063.0h4.06v41.6h-4.06zM701.77 1063.0h4.06v41.6h-4.06zM705.33 1063.0h4.06v41.6h-4.06zM708.88 1063.0h4.06v41.6h-4.06zM712.44 1063.0h4.06v41.6h-4.06zM716.00 1063.0h4.06v41.6h-4.06zM719.56 1063.0h4.06v41.6h-4.06zM726.68 1063.0h4.06v41.6h-4.06zM730.24 1063.0h4.06v41.6h-4.06zM733.80 1063.0h4.06v41.6h-4.06zM737.36 1063.0h4.06v41.6h-4.06zM740.92 1063.0h4.06v41.6h-4.06zM744.48 1063.0h4.06v41.6h-4.06zM748.04 1063.0h4.06v41.6h-4.06zM772.96 1063.0h4.06v41.6h-4.06zM776.52 1063.0h4.06v41.6h-4.06zM780.08 1063.0h4.06v41.6h-4.06zM783.64 1063.0h4.06v41.6h-4.06zM787.20 1063.0h4.06v41.6h-4.06zM790.76 1063.0h4.06v41.6h-4.06zM794.32 1063.0h4.06v41.6h-4.06zM797.87 1063.0h4.06v41.6h-4.06zM801.43 1063.0h4.06v41.6h-4.06zM804.99 1063.0h4.06v41.6h-4.06zM808.55 1063.0h4.06v41.6h-4.06zM812.11 1063.0h4.06v41.6h-4.06zM815.67 1063.0h4.06v41.6h-4.06zM819.23 1063.0h4.06v41.6h-4.06zM822.79 1063.0h4.06v41.6h-4.06zM829.91 1063.0h4.06v41.6h-4.06zM833.47 1063.0h4.06v41.6h-4.06zM837.03 1063.0h4.06v41.6h-4.06zM840.59 1063.0h4.06v41.6h-4.06zM844.15 1063.0h4.06v41.6h-4.06zM847.71 1063.0h4.06v41.6h-4.06zM851.27 1063.0h4.06v41.6h-4.06zM854.83 1063.0h4.06v41.6h-4.06zM858.39 1063.0h4.06v41.6h-4.06zM861.95 1063.0h4.06v41.6h-4.06zM865.51 1063.0h4.06v41.6h-4.06zM869.07 1063.0h4.06v41.6h-4.06zM872.63 1063.0h4.06v41.6h-4.06zM911.78 1063.0h4.06v41.6h-4.06zM915.34 1063.0h4.06v41.6h-4.06zM918.90 1063.0h4.06v41.6h-4.06zM922.46 1063.0h4.06v41.6h-4.06zM926.02 1063.0h4.06v41.6h-4.06zM929.58 1063.0h4.06v41.6h-4.06zM933.14 1063.0h4.06v41.6h-4.06zM936.70 1063.0h4.06v41.6h-4.06zM940.26 1063.0h4.06v41.6h-4.06zM943.82 1063.0h4.06v41.6h-4.06zM1032.81 1063.0h4.06v41.6h-4.06zM1047.05 1063.0h4.06v41.6h-4.06zM1050.61 1063.0h4.06v41.6h-4.06zM1054.17 1063.0h4.06v41.6h-4.06zM1061.29 1063.0h4.06v41.6h-4.06zM1064.85 1063.0h4.06v41.6h-4.06zM1068.40 1063.0h4.06v41.6h-4.06zM1071.96 1063.0h4.06v41.6h-4.06zM1079.08 1063.0h4.06v41.6h-4.06zM1082.64 1063.0h4.06v41.6h-4.06zM1086.20 1063.0h4.06v41.6h-4.06zM1089.76 1063.0h4.06v41.6h-4.06zM1093.32 1063.0h4.06v41.6h-4.06zM1104.00 1063.0h4.06v41.6h-4.06zM1107.56 1063.0h4.06v41.6h-4.06zM1128.92 1063.0h4.06v41.6h-4.06zM1132.48 1063.0h4.06v41.6h-4.06zM1136.04 1063.0h4.06v41.6h-4.06zM1139.60 1063.0h4.06v41.6h-4.06zM1150.28 1063.0h4.06v41.6h-4.06zM1153.84 1063.0h4.06v41.6h-4.06zM1182.31 1063.0h4.06v41.6h-4.06zM1185.87 1063.0h4.06v41.6h-4.06zM1189.43 1063.0h4.06v41.6h-4.06zM1214.35 1063.0h4.06v41.6h-4.06zM1217.91 1063.0h4.06v41.6h-4.06zM1221.47 1063.0h4.06v41.6h-4.06zM1264.18 1063.0h4.06v41.6h-4.06zM1267.74 1063.0h4.06v41.6h-4.06zM1281.98 1063.0h4.06v41.6h-4.06zM1285.54 1063.0h4.06v41.6h-4.06zM224.78 1104.2h4.06v41.6h-4.06zM228.34 1104.2h4.06v41.6h-4.06zM246.14 1104.2h4.06v41.6h-4.06zM249.70 1104.2h4.06v41.6h-4.06zM253.26 1104.2h4.06v41.6h-4.06zM274.61 1104.2h4.06v41.6h-4.06zM278.17 1104.2h4.06v41.6h-4.06zM281.73 1104.2h4.06v41.6h-4.06zM288.85 1104.2h4.06v41.6h-4.06zM292.41 1104.2h4.06v41.6h-4.06zM342.25 1104.2h4.06v41.6h-4.06zM345.81 1104.2h4.06v41.6h-4.06zM349.36 1104.2h4.06v41.6h-4.06zM352.92 1104.2h4.06v41.6h-4.06zM356.48 1104.2h4.06v41.6h-4.06zM377.84 1104.2h4.06v41.6h-4.06zM381.40 1104.2h4.06v41.6h-4.06zM384.96 1104.2h4.06v41.6h-4.06zM388.52 1104.2h4.06v41.6h-4.06zM413.44 1104.2h4.06v41.6h-4.06zM417.00 1104.2h4.06v41.6h-4.06zM473.95 1104.2h4.06v41.6h-4.06zM477.51 1104.2h4.06v41.6h-4.06zM481.07 1104.2h4.06v41.6h-4.06zM484.63 1104.2h4.06v41.6h-4.06zM505.99 1104.2h4.06v41.6h-4.06zM520.23 1104.2h4.06v41.6h-4.06zM534.46 1104.2h4.06v41.6h-4.06zM555.82 1104.2h4.06v41.6h-4.06zM559.38 1104.2h4.06v41.6h-4.06zM598.54 1104.2h4.06v41.6h-4.06zM630.57 1104.2h4.06v41.6h-4.06zM634.13 1104.2h4.06v41.6h-4.06zM637.69 1104.2h4.06v41.6h-4.06zM641.25 1104.2h4.06v41.6h-4.06zM648.37 1104.2h4.06v41.6h-4.06zM651.93 1104.2h4.06v41.6h-4.06zM655.49 1104.2h4.06v41.6h-4.06zM659.05 1104.2h4.06v41.6h-4.06zM676.85 1104.2h4.06v41.6h-4.06zM698.21 1104.2h4.06v41.6h-4.06zM772.96 1104.2h4.06v41.6h-4.06zM776.52 1104.2h4.06v41.6h-4.06zM787.20 1104.2h4.06v41.6h-4.06zM790.76 1104.2h4.06v41.6h-4.06zM801.43 1104.2h4.06v41.6h-4.06zM837.03 1104.2h4.06v41.6h-4.06zM840.59 1104.2h4.06v41.6h-4.06zM904.66 1104.2h4.06v41.6h-4.06zM936.70 1104.2h4.06v41.6h-4.06zM940.26 1104.2h4.06v41.6h-4.06zM990.09 1104.2h4.06v41.6h-4.06zM1032.81 1104.2h4.06v41.6h-4.06zM1036.37 1104.2h4.06v41.6h-4.06zM1039.93 1104.2h4.06v41.6h-4.06zM1057.73 1104.2h4.06v41.6h-4.06zM1061.29 1104.2h4.06v41.6h-4.06zM1079.08 1104.2h4.06v41.6h-4.06zM1082.64 1104.2h4.06v41.6h-4.06zM1086.20 1104.2h4.06v41.6h-4.06zM1125.36 1104.2h4.06v41.6h-4.06z"/>
<path fill="#c6dbea" d="M242.58 239.0h4.06v41.6h-4.06zM320.89 239.0h4.06v41.6h-4.06zM324.45 239.0h4.06v41.6h-4.06zM943.82 239.0h4.06v41.6h-4.06zM1239.27 239.0h4.06v41.6h-4.06zM623.45 280.2h4.06v41.6h-4.06zM1114.68 280.2h4.06v41.6h-4.06zM1228.59 362.6h4.06v41.6h-4.06zM271.05 403.8h4.06v41.6h-4.06zM274.61 445.0h4.06v41.6h-4.06zM812.11 445.0h4.06v41.6h-4.06zM271.05 527.4h4.06v41.6h-4.06zM765.84 527.4h4.06v41.6h-4.06zM847.71 527.4h4.06v41.6h-4.06zM890.42 527.4h4.06v41.6h-4.06zM1125.36 527.4h4.06v41.6h-4.06zM242.58 568.6h4.06v41.6h-4.06zM1239.27 568.6h4.06v41.6h-4.06zM242.58 609.8h4.06v41.6h-4.06zM943.82 609.8h4.06v41.6h-4.06zM1228.59 609.8h4.06v41.6h-4.06zM1239.27 609.8h4.06v41.6h-4.06zM765.84 651.0h4.06v41.6h-4.06zM904.66 651.0h4.06v41.6h-4.06zM908.22 651.0h4.06v41.6h-4.06zM271.05 692.2h4.06v41.6h-4.06zM342.25 692.2h4.06v41.6h-4.06zM1257.06 692.2h4.06v41.6h-4.06zM271.05 733.4h4.06v41.6h-4.06zM765.84 774.6h4.06v41.6h-4.06zM1228.59 774.6h4.06v41.6h-4.06zM271.05 815.8h4.06v41.6h-4.06zM320.89 815.8h4.06v41.6h-4.06zM765.84 815.8h4.06v41.6h-4.06zM271.05 857.0h4.06v41.6h-4.06zM580.74 857.0h4.06v41.6h-4.06zM584.30 857.0h4.06v41.6h-4.06zM765.84 898.2h4.06v41.6h-4.06zM242.58 939.4h4.06v41.6h-4.06zM324.45 939.4h4.06v41.6h-4.06zM360.04 939.4h4.06v41.6h-4.06zM384.96 939.4h4.06v41.6h-4.06zM943.82 939.4h4.06v41.6h-4.06zM242.58 980.6h4.06v41.6h-4.06zM271.05 980.6h4.06v41.6h-4.06zM943.82 980.6h4.06v41.6h-4.06zM1228.59 980.6h4.06v41.6h-4.06zM1239.27 980.6h4.06v41.6h-4.06zM765.84 1021.8h4.06v41.6h-4.06zM943.82 1021.8h4.06v41.6h-4.06zM1239.27 1021.8h4.06v41.6h-4.06zM943.82 1104.2h4.06v41.6h-4.06zM1228.59 1104.2h4.06v41.6h-4.06z"/>
<path fill="#ffd5cf" d="M263.93 239.0h4.06v41.6h-4.06zM338.69 239.0h4.06v41.6h-4.06zM367.16 239.0h4.06v41.6h-4.06zM488.19 239.0h4.06v41.6h-4.06zM495.31 239.0h4.06v41.6h-4.06zM541.58 239.0h4.06v41.6h-4.06zM587.86 239.0h4.06v41.6h-4.06zM623.45 239.0h4.06v41.6h-4.06zM669.73 239.0h4.06v41.6h-4.06zM687.53 239.0h4.06v41.6h-4.06zM751.60 239.0h4.06v41.6h-4.06zM794.32 239.0h4.06v41.6h-4.06zM833.47 239.0h4.06v41.6h-4.06zM837.03 239.0h4.06v41.6h-4.06zM844.15 239.0h4.06v41.6h-4.06zM893.98 239.0h4.06v41.6h-4.06zM908.22 239.0h4.06v41.6h-4.06zM915.34 239.0h4.06v41.6h-4.06zM986.53 239.0h4.06v41.6h-4.06zM990.09 239.0h4.06v41.6h-4.06zM993.65 239.0h4.06v41.6h-4.06zM997.21 239.0h4.06v41.6h-4.06zM1018.57 239.0h4.06v41.6h-4.06zM1064.85 239.0h4.06v41.6h-4.06zM1089.76 239.0h4.06v41.6h-4.06zM1093.32 239.0h4.06v41.6h-4.06zM1107.56 239.0h4.06v41.6h-4.06zM1260.62 239.0h4.06v41.6h-4.06zM1264.18 239.0h4.06v41.6h-4.06zM1278.42 239.0h4.06v41.6h-4.06zM1281.98 239.0h4.06v41.6h-4.06zM1285.54 239.0h4.06v41.6h-4.06zM239.02 280.2h4.06v41.6h-4.06zM292.41 280.2h4.06v41.6h-4.06zM295.97 280.2h4.06v41.6h-4.06zM299.53 280.2h4.06v41.6h-4.06zM303.09 280.2h4.06v41.6h-4.06zM306.65 280.2h4.06v41.6h-4.06zM417.00 280.2h4.06v41.6h-4.06zM473.95 280.2h4.06v41.6h-4.06zM530.90 280.2h4.06v41.6h-4.06zM534.46 280.2h4.06v41.6h-4.06zM580.74 280.2h4.06v41.6h-4.06zM637.69 280.2h4.06v41.6h-4.06zM641.25 280.2h4.06v41.6h-4.06zM651.93 280.2h4.06v41.6h-4.06zM705.33 280.2h4.06v41.6h-4.06zM708.88 280.2h4.06v41.6h-4.06zM712.44 280.2h4.06v41.6h-4.06zM744.48 280.2h4.06v41.6h-4.06zM748.04 280.2h4.06v41.6h-4.06zM787.20 280.2h4.06v41.6h-4.06zM826.35 280.2h4.06v41.6h-4.06zM854.83 280.2h4.06v41.6h-4.06zM876.19 280.2h4.06v41.6h-4.06zM879.75 280.2h4.06v41.6h-4.06zM883.31 280.2h4.06v41.6h-4.06zM950.94 280.2h4.06v41.6h-4.06zM965.18 280.2h4.06v41.6h-4.06zM993.65 280.2h4.06v41.6h-4.06zM1029.25 280.2h4.06v41.6h-4.06zM1032.81 280.2h4.06v41.6h-4.06zM1071.96 280.2h4.06v41.6h-4.06zM1075.52 280.2h4.06v41.6h-4.06zM1079.08 280.2h4.06v41.6h-4.06zM1082.64 280.2h4.06v41.6h-4.06zM1093.32 280.2h4.06v41.6h-4.06zM1139.60 280.2h4.06v41.6h-4.06zM1143.16 280.2h4.06v41.6h-4.06zM1171.63 280.2h4.06v41.6h-4.06zM1175.19 280.2h4.06v41.6h-4.06zM1178.75 280.2h4.06v41.6h-4.06zM1192.99 280.2h4.06v41.6h-4.06zM1242.83 280.2h4.06v41.6h-4.06zM1246.38 280.2h4.06v41.6h-4.06zM1264.18 280.2h4.06v41.6h-4.06zM1274.86 280.2h4.06v41.6h-4.06zM1278.42 280.2h4.06v41.6h-4.06zM214.10 321.4h4.06v41.6h-4.06zM285.29 321.4h4.06v41.6h-4.06zM295.97 321.4h4.06v41.6h-4.06zM367.16 321.4h4.06v41.6h-4.06zM377.84 321.4h4.06v41.6h-4.06zM381.40 321.4h4.06v41.6h-4.06zM409.88 321.4h4.06v41.6h-4.06zM495.31 321.4h4.06v41.6h-4.06zM513.11 321.4h4.06v41.6h-4.06zM534.46 321.4h4.06v41.6h-4.06zM538.02 321.4h4.06v41.6h-4.06zM602.10 321.4h4.06v41.6h-4.06zM616.34 321.4h4.06v41.6h-4.06zM619.89 321.4h4.06v41.6h-4.06zM627.01 321.4h4.06v41.6h-4.06zM630.57 321.4h4.06v41.6h-4.06zM651.93 321.4h4.06v41.6h-4.06zM694.65 321.4h4.06v41.6h-4.06zM733.80 321.4h4.06v41.6h-4.06zM744.48 321.4h4.06v41.6h-4.06zM808.55 321.4h4.06v41.6h-4.06zM886.86 321.4h4.06v41.6h-4.06zM965.18 321.4h4.06v41.6h-4.06zM979.41 321.4h4.06v41.6h-4.06zM1007.89 321.4h4.06v41.6h-4.06zM1015.01 321.4h4.06v41.6h-4.06zM1036.37 321.4h4.06v41.6h-4.06zM1039.93 321.4h4.06v41.6h-4.06zM1043.49 321.4h4.06v41.6h-4.06zM1057.73 321.4h4.06v41.6h-4.06zM1061.29 321.4h4.06v41.6h-4.06zM1064.85 321.4h4.06v41.6h-4.06zM1093.32 321.4h4.06v41.6h-4.06zM1096.88 321.4h4.06v41.6h-4.06zM1104.00 321.4h4.06v41.6h-4.06zM1107.56 321.4h4.06v41.6h-4.06zM1132.48 321.4h4.06v41.6h-4.06zM1136.04 321.4h4.06v41.6h-4.06zM1139.60 321.4h4.06v41.6h-4.06zM1143.16 321.4h4.06v41.6h-4.06zM1178.75 321.4h4.06v41.6h-4.06zM1203.67 321.4h4.06v41.6h-4.06zM1210.79 321.4h4.06v41.6h-4.06zM1257.06 321.4h4.06v41.6h-4.06zM1278.42 321.4h4.06v41.6h-4.06zM1281.98 321.4h4.06v41.6h-4.06zM1285.54 321.4h4.06v41.6h-4.06zM228.34 362.6h4.06v41.6h-4.06zM281.73 362.6h4.06v41.6h-4.06zM285.29 362.6h4.06v41.6h-4.06zM349.36 362.6h4.06v41.6h-4.06zM452.59 362.6h4.06v41.6h-4.06zM534.46 362.6h4.06v41.6h-4.06zM545.14 362.6h4.06v41.6h-4.06zM602.10 362.6h4.06v41.6h-4.06zM616.34 362.6h4.06v41.6h-4.06zM644.81 362.6h4.06v41.6h-4.06zM662.61 362.6h4.06v41.6h-4.06zM691.09 362.6h4.06v41.6h-4.06zM712.44 362.6h4.06v41.6h-4.06zM716.00 362.6h4.06v41.6h-4.06zM733.80 362.6h4.06v41.6h-4.06zM769.40 362.6h4.06v41.6h-4.06zM804.99 362.6h4.06v41.6h-4.06zM808.55 362.6h4.06v41.6h-4.06zM858.39 362.6h4.06v41.6h-4.06zM865.51 362.6h4.06v41.6h-4.06zM886.86 362.6h4.06v41.6h-4.06zM901.10 362.6h4.06v41.6h-4.06zM1018.57 362.6h4.06v41.6h-4.06zM1032.81 362.6h4.06v41.6h-4.06zM1036.37 362.6h4.06v41.6h-4.06zM1057.73 362.6h4.06v41.6h-4.06zM1061.29 362.6h4.06v41.6h-4.06zM1143.16 362.6h4.06v41.6h-4.06zM1146.72 362.6h4.06v41.6h-4.06zM1150.28 362.6h4.06v41.6h-4.06zM1217.91 362.6h4.06v41.6h-4.06zM1221.47 362.6h4.06v41.6h-4.06zM239.02 403.8h4.06v41.6h-4.06zM263.93 403.8h4.06v41.6h-4.06zM367.16 403.8h4.06v41.6h-4.06zM377.84 403.8h4.06v41.6h-4.06zM381.40 403.8h4.06v41.6h-4.06zM406.32 403.8h4.06v41.6h-4.06zM417.00 403.8h4.06v41.6h-4.06zM420.56 403.8h4.06v41.6h-4.06zM495.31 403.8h4.06v41.6h-4.06zM552.26 403.8h4.06v41.6h-4.06zM758.72 403.8h4.06v41.6h-4.06zM819.23 403.8h4.06v41.6h-4.06zM854.83 403.8h4.06v41.6h-4.06zM858.39 403.8h4.06v41.6h-4.06zM893.98 403.8h4.06v41.6h-4.06zM911.78 403.8h4.06v41.6h-4.06zM915.34 403.8h4.06v41.6h-4.06zM975.85 403.8h4.06v41.6h-4.06zM979.41 403.8h4.06v41.6h-4.06zM993.65 403.8h4.06v41.6h-4.06zM1007.89 403.8h4.06v41.6h-4.06zM1047.05 403.8h4.06v41.6h-4.06zM1114.68 403.8h4.06v41.6h-4.06zM1118.24 403.8h4.06v41.6h-4.06zM1192.99 403.8h4.06v41.6h-4.06zM1210.79 403.8h4.06v41.6h-4.06zM214.10 445.0h4.06v41.6h-4.06zM239.02 445.0h4.06v41.6h-4.06zM256.82 445.0h4.06v41.6h-4.06zM367.16 445.0h4.06v41.6h-4.06zM370.72 445.0h4.06v41.6h-4.06zM417.00 445.0h4.06v41.6h-4.06zM427.68 445.0h4.06v41.6h-4.06zM456.15 445.0h4.06v41.6h-4.06zM488.19 445.0h4.06v41.6h-4.06zM491.75 445.0h4.06v41.6h-4.06zM495.31 445.0h4.06v41.6h-4.06zM627.01 445.0h4.06v41.6h-4.06zM630.57 445.0h4.06v41.6h-4.06zM833.47 445.0h4.06v41.6h-4.06zM872.63 445.0h4.06v41.6h-4.06zM897.54 445.0h4.06v41.6h-4.06zM901.10 445.0h4.06v41.6h-4.06zM918.90 445.0h4.06v41.6h-4.06zM1071.96 445.0h4.06v41.6h-4.06zM1107.56 445.0h4.06v41.6h-4.06zM1128.92 445.0h4.06v41.6h-4.06zM1143.16 445.0h4.06v41.6h-4.06zM1196.55 445.0h4.06v41.6h-4.06zM281.73 486.2h4.06v41.6h-4.06zM488.19 486.2h4.06v41.6h-4.06zM495.31 486.2h4.06v41.6h-4.06zM552.26 486.2h4.06v41.6h-4.06zM612.78 486.2h4.06v41.6h-4.06zM616.34 486.2h4.06v41.6h-4.06zM627.01 486.2h4.06v41.6h-4.06zM801.43 486.2h4.06v41.6h-4.06zM847.71 486.2h4.06v41.6h-4.06zM872.63 486.2h4.06v41.6h-4.06zM879.75 486.2h4.06v41.6h-4.06zM883.31 486.2h4.06v41.6h-4.06zM911.78 486.2h4.06v41.6h-4.06zM915.34 486.2h4.06v41.6h-4.06zM918.90 486.2h4.06v41.6h-4.06zM993.65 486.2h4.06v41.6h-4.06zM1000.77 486.2h4.06v41.6h-4.06zM1047.05 486.2h4.06v41.6h-4.06zM1100.44 486.2h4.06v41.6h-4.06zM1104.00 486.2h4.06v41.6h-4.06zM1107.56 486.2h4.06v41.6h-4.06zM1128.92 486.2h4.06v41.6h-4.06zM1139.60 486.2h4.06v41.6h-4.06zM1143.16 486.2h4.06v41.6h-4.06zM1235.71 486.2h4.06v41.6h-4.06zM1281.98 486.2h4.06v41.6h-4.06zM1285.54 486.2h4.06v41.6h-4.06zM377.84 527.4h4.06v41.6h-4.06zM381.40 527.4h4.06v41.6h-4.06zM406.32 527.4h4.06v41.6h-4.06zM481.07 527.4h4.06v41.6h-4.06zM580.74 527.4h4.06v41.6h-4.06zM648.37 527.4h4.06v41.6h-4.06zM687.53 527.4h4.06v41.6h-4.06zM691.09 527.4h4.06v41.6h-4.06zM694.65 527.4h4.06v41.6h-4.06zM698.21 527.4h4.06v41.6h-4.06zM716.00 527.4h4.06v41.6h-4.06zM719.56 527.4h4.06v41.6h-4.06zM797.87 527.4h4.06v41.6h-4.06zM854.83 527.4h4.06v41.6h-4.06zM858.39 527.4h4.06v41.6h-4.06zM872.63 527.4h4.06v41.6h-4.06zM947.38 527.4h4.06v41.6h-4.06zM950.94 527.4h4.06v41.6h-4.06zM993.65 527.4h4.06v41.6h-4.06zM1029.25 527.4h4.06v41.6h-4.06zM1032.81 527.4h4.06v41.6h-4.06zM1054.17 527.4h4.06v41.6h-4.06zM1104.00 527.4h4.06v41.6h-4.06zM1128.92 527.4h4.06v41.6h-4.06zM1132.48 527.4h4.06v41.6h-4.06zM1136.04 527.4h4.06v41.6h-4.06zM1150.28 527.4h4.06v41.6h-4.06zM1171.63 527.4h4.06v41.6h-4.06zM1178.75 527.4h4.06v41.6h-4.06zM1192.99 527.4h4.06v41.6h-4.06zM363.60 568.6h4.06v41.6h-4.06zM381.40 568.6h4.06v41.6h-4.06zM584.30 568.6h4.06v41.6h-4.06zM712.44 568.6h4.06v41.6h-4.06zM876.19 568.6h4.06v41.6h-4.06zM897.54 568.6h4.06v41.6h-4.06zM901.10 568.6h4.06v41.6h-4.06zM929.58 568.6h4.06v41.6h-4.06zM958.06 568.6h4.06v41.6h-4.06zM961.62 568.6h4.06v41.6h-4.06zM972.30 568.6h4.06v41.6h-4.06zM1107.56 568.6h4.06v41.6h-4.06zM1114.68 568.6h4.06v41.6h-4.06zM1118.24 568.6h4.06v41.6h-4.06zM1121.80 568.6h4.06v41.6h-4.06zM1143.16 568.6h4.06v41.6h-4.06zM1246.38 568.6h4.06v41.6h-4.06zM221.22 609.8h4.06v41.6h-4.06zM224.78 609.8h4.06v41.6h-4.06zM253.26 609.8h4.06v41.6h-4.06zM278.17 609.8h4.06v41.6h-4.06zM281.73 609.8h4.06v41.6h-4.06zM303.09 609.8h4.06v41.6h-4.06zM313.77 609.8h4.06v41.6h-4.06zM317.33 609.8h4.06v41.6h-4.06zM338.69 609.8h4.06v41.6h-4.06zM392.08 609.8h4.06v41.6h-4.06zM427.68 609.8h4.06v41.6h-4.06zM495.31 609.8h4.06v41.6h-4.06zM587.86 609.8h4.06v41.6h-4.06zM651.93 609.8h4.06v41.6h-4.06zM780.08 609.8h4.06v41.6h-4.06zM918.90 609.8h4.06v41.6h-4.06zM922.46 609.8h4.06v41.6h-4.06zM958.06 609.8h4.06v41.6h-4.06zM961.62 609.8h4.06v41.6h-4.06zM982.97 609.8h4.06v41.6h-4.06zM986.53 609.8h4.06v41.6h-4.06zM1128.92 609.8h4.06v41.6h-4.06zM1132.48 609.8h4.06v41.6h-4.06zM1143.16 609.8h4.06v41.6h-4.06zM1164.51 609.8h4.06v41.6h-4.06zM1178.75 609.8h4.06v41.6h-4.06zM239.02 651.0h4.06v41.6h-4.06zM274.61 651.0h4.06v41.6h-4.06zM335.13 651.0h4.06v41.6h-4.06zM338.69 651.0h4.06v41.6h-4.06zM360.04 651.0h4.06v41.6h-4.06zM363.60 651.0h4.06v41.6h-4.06zM441.91 651.0h4.06v41.6h-4.06zM491.75 651.0h4.06v41.6h-4.06zM495.31 651.0h4.06v41.6h-4.06zM538.02 651.0h4.06v41.6h-4.06zM580.74 651.0h4.06v41.6h-4.06zM584.30 651.0h4.06v41.6h-4.06zM587.86 651.0h4.06v41.6h-4.06zM602.10 651.0h4.06v41.6h-4.06zM619.89 651.0h4.06v41.6h-4.06zM687.53 651.0h4.06v41.6h-4.06zM716.00 651.0h4.06v41.6h-4.06zM744.48 651.0h4.06v41.6h-4.06zM769.40 651.0h4.06v41.6h-4.06zM797.87 651.0h4.06v41.6h-4.06zM876.19 651.0h4.06v41.6h-4.06zM897.54 651.0h4.06v41.6h-4.06zM922.46 651.0h4.06v41.6h-4.06zM926.02 651.0h4.06v41.6h-4.06zM929.58 651.0h4.06v41.6h-4.06zM933.14 651.0h4.06v41.6h-4.06zM947.38 651.0h4.06v41.6h-4.06zM1043.49 651.0h4.06v41.6h-4.06zM1057.73 651.0h4.06v41.6h-4.06zM1079.08 651.0h4.06v41.6h-4.06zM1082.64 651.0h4.06v41.6h-4.06zM1114.68 651.0h4.06v41.6h-4.06zM1143.16 651.0h4.06v41.6h-4.06zM1146.72 651.0h4.06v41.6h-4.06zM1189.43 651.0h4.06v41.6h-4.06zM1217.91 651.0h4.06v41.6h-4.06zM1246.38 651.0h4.06v41.6h-4.06zM1257.06 651.0h4.06v41.6h-4.06zM1260.62 651.0h4.06v41.6h-4.06zM1281.98 651.0h4.06v41.6h-4.06zM370.72 692.2h4.06v41.6h-4.06zM395.64 692.2h4.06v41.6h-4.06zM399.20 692.2h4.06v41.6h-4.06zM417.00 692.2h4.06v41.6h-4.06zM420.56 692.2h4.06v41.6h-4.06zM427.68 692.2h4.06v41.6h-4.06zM441.91 692.2h4.06v41.6h-4.06zM445.47 692.2h4.06v41.6h-4.06zM513.11 692.2h4.06v41.6h-4.06zM587.86 692.2h4.06v41.6h-4.06zM591.42 692.2h4.06v41.6h-4.06zM623.45 692.2h4.06v41.6h-4.06zM627.01 692.2h4.06v41.6h-4.06zM630.57 692.2h4.06v41.6h-4.06zM694.65 692.2h4.06v41.6h-4.06zM712.44 692.2h4.06v41.6h-4.06zM829.91 692.2h4.06v41.6h-4.06zM897.54 692.2h4.06v41.6h-4.06zM901.10 692.2h4.06v41.6h-4.06zM911.78 692.2h4.06v41.6h-4.06zM915.34 692.2h4.06v41.6h-4.06zM918.90 692.2h4.06v41.6h-4.06zM950.94 692.2h4.06v41.6h-4.06zM954.50 692.2h4.06v41.6h-4.06zM982.97 692.2h4.06v41.6h-4.06zM993.65 692.2h4.06v41.6h-4.06zM1018.57 692.2h4.06v41.6h-4.06zM1050.61 692.2h4.06v41.6h-4.06zM1054.17 692.2h4.06v41.6h-4.06zM1079.08 692.2h4.06v41.6h-4.06zM1082.64 692.2h4.06v41.6h-4.06zM1089.76 692.2h4.06v41.6h-4.06zM1093.32 692.2h4.06v41.6h-4.06zM1096.88 692.2h4.06v41.6h-4.06zM1100.44 692.2h4.06v41.6h-4.06zM1104.00 692.2h4.06v41.6h-4.06zM1128.92 692.2h4.06v41.6h-4.06zM1132.48 692.2h4.06v41.6h-4.06zM1136.04 692.2h4.06v41.6h-4.06zM1150.28 692.2h4.06v41.6h-4.06zM1264.18 692.2h4.06v41.6h-4.06zM1274.86 692.2h4.06v41.6h-4.06zM360.04 733.4h4.06v41.6h-4.06zM427.68 733.4h4.06v41.6h-4.06zM441.91 733.4h4.06v41.6h-4.06zM513.11 733.4h4.06v41.6h-4.06zM516.67 733.4h4.06v41.6h-4.06zM648.37 733.4h4.06v41.6h-4.06zM669.73 733.4h4.06v41.6h-4.06zM723.12 733.4h4.06v41.6h-4.06zM758.72 733.4h4.06v41.6h-4.06zM804.99 733.4h4.06v41.6h-4.06zM858.39 733.4h4.06v41.6h-4.06zM1032.81 733.4h4.06v41.6h-4.06zM1036.37 733.4h4.06v41.6h-4.06zM1047.05 733.4h4.06v41.6h-4.06zM1118.24 733.4h4.06v41.6h-4.06zM1121.80 733.4h4.06v41.6h-4.06zM1192.99 733.4h4.06v41.6h-4.06zM1217.91 733.4h4.06v41.6h-4.06zM1278.42 733.4h4.06v41.6h-4.06zM1285.54 733.4h4.06v41.6h-4.06zM214.10 774.6h4.06v41.6h-4.06zM224.78 774.6h4.06v41.6h-4.06zM256.82 774.6h4.06v41.6h-4.06zM313.77 774.6h4.06v41.6h-4.06zM338.69 774.6h4.06v41.6h-4.06zM342.25 774.6h4.06v41.6h-4.06zM360.04 774.6h4.06v41.6h-4.06zM363.60 774.6h4.06v41.6h-4.06zM452.59 774.6h4.06v41.6h-4.06zM498.87 774.6h4.06v41.6h-4.06zM723.12 774.6h4.06v41.6h-4.06zM751.60 774.6h4.06v41.6h-4.06zM794.32 774.6h4.06v41.6h-4.06zM797.87 774.6h4.06v41.6h-4.06zM872.63 774.6h4.06v41.6h-4.06zM1007.89 774.6h4.06v41.6h-4.06zM1011.45 774.6h4.06v41.6h-4.06zM1015.01 774.6h4.06v41.6h-4.06zM1018.57 774.6h4.06v41.6h-4.06zM1061.29 774.6h4.06v41.6h-4.06zM1128.92 774.6h4.06v41.6h-4.06zM1132.48 774.6h4.06v41.6h-4.06zM1143.16 774.6h4.06v41.6h-4.06zM1178.75 774.6h4.06v41.6h-4.06zM1182.31 774.6h4.06v41.6h-4.06zM1185.87 774.6h4.06v41.6h-4.06zM224.78 815.8h4.06v41.6h-4.06zM278.17 815.8h4.06v41.6h-4.06zM313.77 815.8h4.06v41.6h-4.06zM377.84 815.8h4.06v41.6h-4.06zM441.91 815.8h4.06v41.6h-4.06zM459.71 815.8h4.06v41.6h-4.06zM513.11 815.8h4.06v41.6h-4.06zM591.42 815.8h4.06v41.6h-4.06zM609.22 815.8h4.06v41.6h-4.06zM612.78 815.8h4.06v41.6h-4.06zM648.37 815.8h4.06v41.6h-4.06zM780.08 815.8h4.06v41.6h-4.06zM783.64 815.8h4.06v41.6h-4.06zM858.39 815.8h4.06v41.6h-4.06zM861.95 815.8h4.06v41.6h-4.06zM886.86 815.8h4.06v41.6h-4.06zM947.38 815.8h4.06v41.6h-4.06zM950.94 815.8h4.06v41.6h-4.06zM954.50 815.8h4.06v41.6h-4.06zM958.06 815.8h4.06v41.6h-4.06zM1079.08 815.8h4.06v41.6h-4.06zM1082.64 815.8h4.06v41.6h-4.06zM1089.76 815.8h4.06v41.6h-4.06zM1132.48 815.8h4.06v41.6h-4.06zM1136.04 815.8h4.06v41.6h-4.06zM1192.99 815.8h4.06v41.6h-4.06zM1271.30 815.8h4.06v41.6h-4.06zM1274.86 815.8h4.06v41.6h-4.06zM224.78 857.0h4.06v41.6h-4.06zM388.52 857.0h4.06v41.6h-4.06zM409.88 857.0h4.06v41.6h-4.06zM445.47 857.0h4.06v41.6h-4.06zM481.07 857.0h4.06v41.6h-4.06zM552.26 857.0h4.06v41.6h-4.06zM634.13 857.0h4.06v41.6h-4.06zM637.69 857.0h4.06v41.6h-4.06zM744.48 857.0h4.06v41.6h-4.06zM758.72 857.0h4.06v41.6h-4.06zM769.40 857.0h4.06v41.6h-4.06zM787.20 857.0h4.06v41.6h-4.06zM847.71 857.0h4.06v41.6h-4.06zM851.27 857.0h4.06v41.6h-4.06zM975.85 857.0h4.06v41.6h-4.06zM979.41 857.0h4.06v41.6h-4.06zM993.65 857.0h4.06v41.6h-4.06zM1047.05 857.0h4.06v41.6h-4.06zM1068.40 857.0h4.06v41.6h-4.06zM1192.99 857.0h4.06v41.6h-4.06zM1257.06 857.0h4.06v41.6h-4.06zM1260.62 857.0h4.06v41.6h-4.06zM313.77 898.2h4.06v41.6h-4.06zM374.28 898.2h4.06v41.6h-4.06zM392.08 898.2h4.06v41.6h-4.06zM413.44 898.2h4.06v41.6h-4.06zM495.31 898.2h4.06v41.6h-4.06zM552.26 898.2h4.06v41.6h-4.06zM584.30 898.2h4.06v41.6h-4.06zM587.86 898.2h4.06v41.6h-4.06zM619.89 898.2h4.06v41.6h-4.06zM669.73 898.2h4.06v41.6h-4.06zM893.98 898.2h4.06v41.6h-4.06zM897.54 898.2h4.06v41.6h-4.06zM901.10 898.2h4.06v41.6h-4.06zM918.90 898.2h4.06v41.6h-4.06zM965.18 898.2h4.06v41.6h-4.06zM986.53 898.2h4.06v41.6h-4.06zM1032.81 898.2h4.06v41.6h-4.06zM1071.96 898.2h4.06v41.6h-4.06zM1107.56 898.2h4.06v41.6h-4.06zM1125.36 898.2h4.06v41.6h-4.06zM1207.23 898.2h4.06v41.6h-4.06zM1217.91 898.2h4.06v41.6h-4.06zM256.82 939.4h4.06v41.6h-4.06zM281.73 939.4h4.06v41.6h-4.06zM285.29 939.4h4.06v41.6h-4.06zM513.11 939.4h4.06v41.6h-4.06zM587.86 939.4h4.06v41.6h-4.06zM627.01 939.4h4.06v41.6h-4.06zM630.57 939.4h4.06v41.6h-4.06zM644.81 939.4h4.06v41.6h-4.06zM687.53 939.4h4.06v41.6h-4.06zM691.09 939.4h4.06v41.6h-4.06zM733.80 939.4h4.06v41.6h-4.06zM744.48 939.4h4.06v41.6h-4.06zM780.08 939.4h4.06v41.6h-4.06zM804.99 939.4h4.06v41.6h-4.06zM808.55 939.4h4.06v41.6h-4.06zM819.23 939.4h4.06v41.6h-4.06zM822.79 939.4h4.06v41.6h-4.06zM879.75 939.4h4.06v41.6h-4.06zM893.98 939.4h4.06v41.6h-4.06zM918.90 939.4h4.06v41.6h-4.06zM975.85 939.4h4.06v41.6h-4.06zM993.65 939.4h4.06v41.6h-4.06zM1007.89 939.4h4.06v41.6h-4.06zM1096.88 939.4h4.06v41.6h-4.06zM1100.44 939.4h4.06v41.6h-4.06zM1107.56 939.4h4.06v41.6h-4.06zM1114.68 939.4h4.06v41.6h-4.06zM1118.24 939.4h4.06v41.6h-4.06zM1121.80 939.4h4.06v41.6h-4.06zM1171.63 939.4h4.06v41.6h-4.06zM1192.99 939.4h4.06v41.6h-4.06zM1207.23 939.4h4.06v41.6h-4.06zM1210.79 939.4h4.06v41.6h-4.06zM1221.47 939.4h4.06v41.6h-4.06zM1225.03 939.4h4.06v41.6h-4.06zM1271.30 939.4h4.06v41.6h-4.06zM1274.86 939.4h4.06v41.6h-4.06zM235.46 980.6h4.06v41.6h-4.06zM313.77 980.6h4.06v41.6h-4.06zM381.40 980.6h4.06v41.6h-4.06zM513.11 980.6h4.06v41.6h-4.06zM516.67 980.6h4.06v41.6h-4.06zM591.42 980.6h4.06v41.6h-4.06zM644.81 980.6h4.06v41.6h-4.06zM651.93 980.6h4.06v41.6h-4.06zM723.12 980.6h4.06v41.6h-4.06zM726.68 980.6h4.06v41.6h-4.06zM804.99 980.6h4.06v41.6h-4.06zM844.15 980.6h4.06v41.6h-4.06zM847.71 980.6h4.06v41.6h-4.06zM965.18 980.6h4.06v41.6h-4.06zM1018.57 980.6h4.06v41.6h-4.06zM1061.29 980.6h4.06v41.6h-4.06zM1114.68 980.6h4.06v41.6h-4.06zM1128.92 980.6h4.06v41.6h-4.06zM1150.28 980.6h4.06v41.6h-4.06zM338.69 1021.8h4.06v41.6h-4.06zM356.48 1021.8h4.06v41.6h-4.06zM384.96 1021.8h4.06v41.6h-4.06zM427.68 1021.8h4.06v41.6h-4.06zM449.03 1021.8h4.06v41.6h-4.06zM466.83 1021.8h4.06v41.6h-4.06zM488.19 1021.8h4.06v41.6h-4.06zM495.31 1021.8h4.06v41.6h-4.06zM580.74 1021.8h4.06v41.6h-4.06zM584.30 1021.8h4.06v41.6h-4.06zM587.86 1021.8h4.06v41.6h-4.06zM627.01 1021.8h4.06v41.6h-4.06zM644.81 1021.8h4.06v41.6h-4.06zM648.37 1021.8h4.06v41.6h-4.06zM669.73 1021.8h4.06v41.6h-4.06zM687.53 1021.8h4.06v41.6h-4.06zM733.80 1021.8h4.06v41.6h-4.06zM737.36 1021.8h4.06v41.6h-4.06zM886.86 1021.8h4.06v41.6h-4.06zM901.10 1021.8h4.06v41.6h-4.06zM918.90 1021.8h4.06v41.6h-4.06zM986.53 1021.8h4.06v41.6h-4.06zM1004.33 1021.8h4.06v41.6h-4.06zM1007.89 1021.8h4.06v41.6h-4.06zM1032.81 1021.8h4.06v41.6h-4.06zM1107.56 1021.8h4.06v41.6h-4.06zM1114.68 1021.8h4.06v41.6h-4.06zM1121.80 1021.8h4.06v41.6h-4.06zM1125.36 1021.8h4.06v41.6h-4.06zM1128.92 1021.8h4.06v41.6h-4.06zM1136.04 1021.8h4.06v41.6h-4.06zM1150.28 1021.8h4.06v41.6h-4.06zM1168.07 1021.8h4.06v41.6h-4.06zM1196.55 1021.8h4.06v41.6h-4.06zM1249.94 1021.8h4.06v41.6h-4.06zM1253.50 1021.8h4.06v41.6h-4.06zM235.46 1063.0h4.06v41.6h-4.06zM246.14 1063.0h4.06v41.6h-4.06zM591.42 1063.0h4.06v41.6h-4.06zM609.22 1063.0h4.06v41.6h-4.06zM619.89 1063.0h4.06v41.6h-4.06zM765.84 1063.0h4.06v41.6h-4.06zM879.75 1063.0h4.06v41.6h-4.06zM883.31 1063.0h4.06v41.6h-4.06zM993.65 1063.0h4.06v41.6h-4.06zM1075.52 1063.0h4.06v41.6h-4.06zM1096.88 1063.0h4.06v41.6h-4.06zM1164.51 1063.0h4.06v41.6h-4.06zM1192.99 1063.0h4.06v41.6h-4.06zM1200.11 1063.0h4.06v41.6h-4.06zM1203.67 1063.0h4.06v41.6h-4.06zM1239.27 1063.0h4.06v41.6h-4.06zM1271.30 1063.0h4.06v41.6h-4.06zM256.82 1104.2h4.06v41.6h-4.06zM285.29 1104.2h4.06v41.6h-4.06zM303.09 1104.2h4.06v41.6h-4.06zM331.57 1104.2h4.06v41.6h-4.06zM374.28 1104.2h4.06v41.6h-4.06zM392.08 1104.2h4.06v41.6h-4.06zM395.64 1104.2h4.06v41.6h-4.06zM399.20 1104.2h4.06v41.6h-4.06zM420.56 1104.2h4.06v41.6h-4.06zM488.19 1104.2h4.06v41.6h-4.06zM513.11 1104.2h4.06v41.6h-4.06zM541.58 1104.2h4.06v41.6h-4.06zM587.86 1104.2h4.06v41.6h-4.06zM644.81 1104.2h4.06v41.6h-4.06zM669.73 1104.2h4.06v41.6h-4.06zM733.80 1104.2h4.06v41.6h-4.06zM780.08 1104.2h4.06v41.6h-4.06zM783.64 1104.2h4.06v41.6h-4.06zM797.87 1104.2h4.06v41.6h-4.06zM804.99 1104.2h4.06v41.6h-4.06zM808.55 1104.2h4.06v41.6h-4.06zM829.91 1104.2h4.06v41.6h-4.06zM833.47 1104.2h4.06v41.6h-4.06zM879.75 1104.2h4.06v41.6h-4.06zM908.22 1104.2h4.06v41.6h-4.06zM915.34 1104.2h4.06v41.6h-4.06zM929.58 1104.2h4.06v41.6h-4.06zM933.14 1104.2h4.06v41.6h-4.06zM1047.05 1104.2h4.06v41.6h-4.06zM1107.56 1104.2h4.06v41.6h-4.06zM1143.16 1104.2h4.06v41.6h-4.06zM1146.72 1104.2h4.06v41.6h-4.06zM1150.28 1104.2h4.06v41.6h-4.06zM1157.39 1104.2h4.06v41.6h-4.06zM1196.55 1104.2h4.06v41.6h-4.06zM1210.79 1104.2h4.06v41.6h-4.06zM1217.91 1104.2h4.06v41.6h-4.06zM1246.38 1104.2h4.06v41.6h-4.06zM1281.98 1104.2h4.06v41.6h-4.06zM1285.54 1104.2h4.06v41.6h-4.06z"/>
<path fill="#ffe4e1" d="M299.53 239.0h4.06v41.6h-4.06zM377.84 239.0h4.06v41.6h-4.06zM381.40 239.0h4.06v41.6h-4.06zM409.88 239.0h4.06v41.6h-4.06zM420.56 239.0h4.06v41.6h-4.06zM424.12 239.0h4.06v41.6h-4.06zM431.24 239.0h4.06v41.6h-4.06zM452.59 239.0h4.06v41.6h-4.06zM456.15 239.0h4.06v41.6h-4.06zM470.39 239.0h4.06v41.6h-4.06zM548.70 239.0h4.06v41.6h-4.06zM552.26 239.0h4.06v41.6h-4.06zM594.98 239.0h4.06v41.6h-4.06zM602.10 239.0h4.06v41.6h-4.06zM605.66 239.0h4.06v41.6h-4.06zM644.81 239.0h4.06v41.6h-4.06zM648.37 239.0h4.06v41.6h-4.06zM655.49 239.0h4.06v41.6h-4.06zM680.41 239.0h4.06v41.6h-4.06zM691.09 239.0h4.06v41.6h-4.06zM701.77 239.0h4.06v41.6h-4.06zM719.56 239.0h4.06v41.6h-4.06zM733.80 239.0h4.06v41.6h-4.06zM804.99 239.0h4.06v41.6h-4.06zM808.55 239.0h4.06v41.6h-4.06zM819.23 239.0h4.06v41.6h-4.06zM822.79 239.0h4.06v41.6h-4.06zM872.63 239.0h4.06v41.6h-4.06zM922.46 239.0h4.06v41.6h-4.06zM926.02 239.0h4.06v41.6h-4.06zM929.58 239.0h4.06v41.6h-4.06zM933.14 239.0h4.06v41.6h-4.06zM936.70 239.0h4.06v41.6h-4.06zM940.26 239.0h4.06v41.6h-4.06zM972.30 239.0h4.06v41.6h-4.06zM975.85 239.0h4.06v41.6h-4.06zM979.41 239.0h4.06v41.6h-4.06zM982.97 239.0h4.06v41.6h-4.06zM1015.01 239.0h4.06v41.6h-4.06zM1029.25 239.0h4.06v41.6h-4.06zM1047.05 239.0h4.06v41.6h-4.06zM1054.17 239.0h4.06v41.6h-4.06zM1079.08 239.0h4.06v41.6h-4.06zM1082.64 239.0h4.06v41.6h-4.06zM1086.20 239.0h4.06v41.6h-4.06zM1114.68 239.0h4.06v41.6h-4.06zM1146.72 239.0h4.06v41.6h-4.06zM1150.28 239.0h4.06v41.6h-4.06zM1160.95 239.0h4.06v41.6h-4.06zM1164.51 239.0h4.06v41.6h-4.06zM1168.07 239.0h4.06v41.6h-4.06zM1171.63 239.0h4.06v41.6h-4.06zM1196.55 239.0h4.06v41.6h-4.06zM1207.23 239.0h4.06v41.6h-4.06zM221.22 280.2h4.06v41.6h-4.06zM224.78 280.2h4.06v41.6h-4.06zM228.34 280.2h4.06v41.6h-4.06zM231.90 280.2h4.06v41.6h-4.06zM253.26 280.2h4.06v41.6h-4.06zM256.82 280.2h4.06v41.6h-4.06zM263.93 280.2h4.06v41.6h-4.06zM281.73 280.2h4.06v41.6h-4.06zM285.29 280.2h4.06v41.6h-4.06zM288.85 280.2h4.06v41.6h-4.06zM324.45 280.2h4.06v41.6h-4.06zM349.36 280.2h4.06v41.6h-4.06zM367.16 280.2h4.06v41.6h-4.06zM388.52 280.2h4.06v41.6h-4.06zM402.76 280.2h4.06v41.6h-4.06zM470.39 280.2h4.06v41.6h-4.06zM491.75 280.2h4.06v41.6h-4.06zM495.31 280.2h4.06v41.6h-4.06zM513.11 280.2h4.06v41.6h-4.06zM516.67 280.2h4.06v41.6h-4.06zM587.86 280.2h4.06v41.6h-4.06zM591.42 280.2h4.06v41.6h-4.06zM594.98 280.2h4.06v41.6h-4.06zM598.54 280.2h4.06v41.6h-4.06zM630.57 280.2h4.06v41.6h-4.06zM673.29 280.2h4.06v41.6h-4.06zM694.65 280.2h4.06v41.6h-4.06zM698.21 280.2h4.06v41.6h-4.06zM701.77 280.2h4.06v41.6h-4.06zM723.12 280.2h4.06v41.6h-4.06zM755.16 280.2h4.06v41.6h-4.06zM758.72 280.2h4.06v41.6h-4.06zM769.40 280.2h4.06v41.6h-4.06zM780.08 280.2h4.06v41.6h-4.06zM794.32 280.2h4.06v41.6h-4.06zM833.47 280.2h4.06v41.6h-4.06zM837.03 280.2h4.06v41.6h-4.06zM861.95 280.2h4.06v41.6h-4.06zM947.38 280.2h4.06v41.6h-4.06zM1000.77 280.2h4.06v41.6h-4.06zM1007.89 280.2h4.06v41.6h-4.06zM1011.45 280.2h4.06v41.6h-4.06zM1022.13 280.2h4.06v41.6h-4.06zM1025.69 280.2h4.06v41.6h-4.06zM1043.49 280.2h4.06v41.6h-4.06zM1054.17 280.2h4.06v41.6h-4.06zM1057.73 280.2h4.06v41.6h-4.06zM1100.44 280.2h4.06v41.6h-4.06zM1104.00 280.2h4.06v41.6h-4.06zM1107.56 280.2h4.06v41.6h-4.06zM1118.24 280.2h4.06v41.6h-4.06zM1121.80 280.2h4.06v41.6h-4.06zM1132.48 280.2h4.06v41.6h-4.06zM1136.04 280.2h4.06v41.6h-4.06zM1146.72 280.2h4.06v41.6h-4.06zM1164.51 280.2h4.06v41.6h-4.06zM1168.07 280.2h4.06v41.6h-4.06zM1225.03 280.2h4.06v41.6h-4.06zM1228.59 280.2h4.06v41.6h-4.06zM1232.15 280.2h4.06v41.6h-4.06zM1235.71 280.2h4.06v41.6h-4.06zM1239.27 280.2h4.06v41.6h-4.06zM221.22 321.4h4.06v41.6h-4.06zM313.77 321.4h4.06v41.6h-4.06zM317.33 321.4h4.06v41.6h-4.06zM338.69 321.4h4.06v41.6h-4.06zM413.44 321.4h4.06v41.6h-4.06zM417.00 321.4h4.06v41.6h-4.06zM424.12 321.4h4.06v41.6h-4.06zM466.83 321.4h4.06v41.6h-4.06zM530.90 321.4h4.06v41.6h-4.06zM612.78 321.4h4.06v41.6h-4.06zM666.17 321.4h4.06v41.6h-4.06zM705.33 321.4h4.06v41.6h-4.06zM740.92 321.4h4.06v41.6h-4.06zM783.64 321.4h4.06v41.6h-4.06zM787.20 321.4h4.06v41.6h-4.06zM826.35 321.4h4.06v41.6h-4.06zM829.91 321.4h4.06v41.6h-4.06zM876.19 321.4h4.06v41.6h-4.06zM879.75 321.4h4.06v41.6h-4.06zM883.31 321.4h4.06v41.6h-4.06zM901.10 321.4h4.06v41.6h-4.06zM904.66 321.4h4.06v41.6h-4.06zM908.22 321.4h4.06v41.6h-4.06zM958.06 321.4h4.06v41.6h-4.06zM961.62 321.4h4.06v41.6h-4.06zM990.09 321.4h4.06v41.6h-4.06zM1235.71 321.4h4.06v41.6h-4.06zM1271.30 321.4h4.06v41.6h-4.06zM235.46 362.6h4.06v41.6h-4.06zM263.93 362.6h4.06v41.6h-4.06zM374.28 362.6h4.06v41.6h-4.06zM377.84 362.6h4.06v41.6h-4.06zM381.40 362.6h4.06v41.6h-4.06zM409.88 362.6h4.06v41.6h-4.06zM441.91 362.6h4.06v41.6h-4.06zM459.71 362.6h4.06v41.6h-4.06zM488.19 362.6h4.06v41.6h-4.06zM491.75 362.6h4.06v41.6h-4.06zM495.31 362.6h4.06v41.6h-4.06zM538.02 362.6h4.06v41.6h-4.06zM541.58 362.6h4.06v41.6h-4.06zM573.62 362.6h4.06v41.6h-4.06zM580.74 362.6h4.06v41.6h-4.06zM594.98 362.6h4.06v41.6h-4.06zM627.01 362.6h4.06v41.6h-4.06zM655.49 362.6h4.06v41.6h-4.06zM669.73 362.6h4.06v41.6h-4.06zM673.29 362.6h4.06v41.6h-4.06zM676.85 362.6h4.06v41.6h-4.06zM680.41 362.6h4.06v41.6h-4.06zM819.23 362.6h4.06v41.6h-4.06zM869.07 362.6h4.06v41.6h-4.06zM872.63 362.6h4.06v41.6h-4.06zM911.78 362.6h4.06v41.6h-4.06zM918.90 362.6h4.06v41.6h-4.06zM922.46 362.6h4.06v41.6h-4.06zM926.02 362.6h4.06v41.6h-4.06zM958.06 362.6h4.06v41.6h-4.06zM972.30 362.6h4.06v41.6h-4.06zM975.85 362.6h4.06v41.6h-4.06zM1071.96 362.6h4.06v41.6h-4.06zM1100.44 362.6h4.06v41.6h-4.06zM1107.56 362.6h4.06v41.6h-4.06zM1114.68 362.6h4.06v41.6h-4.06zM1118.24 362.6h4.06v41.6h-4.06zM1121.80 362.6h4.06v41.6h-4.06zM1125.36 362.6h4.06v41.6h-4.06zM1203.67 362.6h4.06v41.6h-4.06zM1207.23 362.6h4.06v41.6h-4.06zM1225.03 362.6h4.06v41.6h-4.06zM249.70 403.8h4.06v41.6h-4.06zM256.82 403.8h4.06v41.6h-4.06zM260.37 403.8h4.06v41.6h-4.06zM331.57 403.8h4.06v41.6h-4.06zM335.13 403.8h4.06v41.6h-4.06zM374.28 403.8h4.06v41.6h-4.06zM409.88 403.8h4.06v41.6h-4.06zM413.44 403.8h4.06v41.6h-4.06zM434.80 403.8h4.06v41.6h-4.06zM438.35 403.8h4.06v41.6h-4.06zM509.55 403.8h4.06v41.6h-4.06zM538.02 403.8h4.06v41.6h-4.06zM541.58 403.8h4.06v41.6h-4.06zM651.93 403.8h4.06v41.6h-4.06zM655.49 403.8h4.06v41.6h-4.06zM705.33 403.8h4.06v41.6h-4.06zM708.88 403.8h4.06v41.6h-4.06zM712.44 403.8h4.06v41.6h-4.06zM716.00 403.8h4.06v41.6h-4.06zM719.56 403.8h4.06v41.6h-4.06zM801.43 403.8h4.06v41.6h-4.06zM861.95 403.8h4.06v41.6h-4.06zM865.51 403.8h4.06v41.6h-4.06zM929.58 403.8h4.06v41.6h-4.06zM933.14 403.8h4.06v41.6h-4.06zM947.38 403.8h4.06v41.6h-4.06zM950.94 403.8h4.06v41.6h-4.06zM954.50 403.8h4.06v41.6h-4.06zM958.06 403.8h4.06v41.6h-4.06zM1054.17 403.8h4.06v41.6h-4.06zM1057.73 403.8h4.06v41.6h-4.06zM1064.85 403.8h4.06v41.6h-4.06zM1079.08 403.8h4.06v41.6h-4.06zM1082.64 403.8h4.06v41.6h-4.06zM1086.20 403.8h4.06v41.6h-4.06zM1089.76 403.8h4.06v41.6h-4.06zM1093.32 403.8h4.06v41.6h-4.06zM1096.88 403.8h4.06v41.6h-4.06zM1100.44 403.8h4.06v41.6h-4.06zM1121.80 403.8h4.06v41.6h-4.06zM1128.92 403.8h4.06v41.6h-4.06zM1132.48 403.8h4.06v41.6h-4.06zM1136.04 403.8h4.06v41.6h-4.06zM1139.60 403.8h4.06v41.6h-4.06zM1143.16 403.8h4.06v41.6h-4.06zM1146.72 403.8h4.06v41.6h-4.06zM1150.28 403.8h4.06v41.6h-4.06zM1160.95 403.8h4.06v41.6h-4.06zM1164.51 403.8h4.06v41.6h-4.06zM1168.07 403.8h4.06v41.6h-4.06zM1171.63 403.8h4.06v41.6h-4.06zM1257.06 403.8h4.06v41.6h-4.06zM1260.62 403.8h4.06v41.6h-4.06zM224.78 445.0h4.06v41.6h-4.06zM228.34 445.0h4.06v41.6h-4.06zM278.17 445.0h4.06v41.6h-4.06zM281.73 445.0h4.06v41.6h-4.06zM285.29 445.0h4.06v41.6h-4.06zM299.53 445.0h4.06v41.6h-4.06zM310.21 445.0h4.06v41.6h-4.06zM313.77 445.0h4.06v41.6h-4.06zM338.69 445.0h4.06v41.6h-4.06zM392.08 445.0h4.06v41.6h-4.06zM395.64 445.0h4.06v41.6h-4.06zM399.20 445.0h4.06v41.6h-4.06zM413.44 445.0h4.06v41.6h-4.06zM420.56 445.0h4.06v41.6h-4.06zM449.03 445.0h4.06v41.6h-4.06zM452.59 445.0h4.06v41.6h-4.06zM509.55 445.0h4.06v41.6h-4.06zM513.11 445.0h4.06v41.6h-4.06zM541.58 445.0h4.06v41.6h-4.06zM580.74 445.0h4.06v41.6h-4.06zM584.30 445.0h4.06v41.6h-4.06zM651.93 445.0h4.06v41.6h-4.06zM662.61 445.0h4.06v41.6h-4.06zM666.17 445.0h4.06v41.6h-4.06zM744.48 445.0h4.06v41.6h-4.06zM751.60 445.0h4.06v41.6h-4.06zM794.32 445.0h4.06v41.6h-4.06zM844.15 445.0h4.06v41.6h-4.06zM908.22 445.0h4.06v41.6h-4.06zM911.78 445.0h4.06v41.6h-4.06zM975.85 445.0h4.06v41.6h-4.06zM979.41 445.0h4.06v41.6h-4.06zM986.53 445.0h4.06v41.6h-4.06zM990.09 445.0h4.06v41.6h-4.06zM993.65 445.0h4.06v41.6h-4.06zM1004.33 445.0h4.06v41.6h-4.06zM1007.89 445.0h4.06v41.6h-4.06zM1015.01 445.0h4.06v41.6h-4.06zM1018.57 445.0h4.06v41.6h-4.06zM1079.08 445.0h4.06v41.6h-4.06zM1082.64 445.0h4.06v41.6h-4.06zM1132.48 445.0h4.06v41.6h-4.06zM1136.04 445.0h4.06v41.6h-4.06zM1139.60 445.0h4.06v41.6h-4.06zM1207.23 445.0h4.06v41.6h-4.06zM1264.18 445.0h4.06v41.6h-4.06zM1267.74 445.0h4.06v41.6h-4.06zM1278.42 445.0h4.06v41.6h-4.06zM1281.98 445.0h4.06v41.6h-4.06zM1285.54 445.0h4.06v41.6h-4.06zM239.02 486.2h4.06v41.6h-4.06zM249.70 486.2h4.06v41.6h-4.06zM288.85 486.2h4.06v41.6h-4.06zM331.57 486.2h4.06v41.6h-4.06zM335.13 486.2h4.06v41.6h-4.06zM367.16 486.2h4.06v41.6h-4.06zM449.03 486.2h4.06v41.6h-4.06zM466.83 486.2h4.06v41.6h-4.06zM580.74 486.2h4.06v41.6h-4.06zM587.86 486.2h4.06v41.6h-4.06zM591.42 486.2h4.06v41.6h-4.06zM594.98 486.2h4.06v41.6h-4.06zM655.49 486.2h4.06v41.6h-4.06zM669.73 486.2h4.06v41.6h-4.06zM673.29 486.2h4.06v41.6h-4.06zM676.85 486.2h4.06v41.6h-4.06zM680.41 486.2h4.06v41.6h-4.06zM758.72 486.2h4.06v41.6h-4.06zM833.47 486.2h4.06v41.6h-4.06zM869.07 486.2h4.06v41.6h-4.06zM929.58 486.2h4.06v41.6h-4.06zM965.18 486.2h4.06v41.6h-4.06zM968.74 486.2h4.06v41.6h-4.06zM972.30 486.2h4.06v41.6h-4.06zM982.97 486.2h4.06v41.6h-4.06zM1007.89 486.2h4.06v41.6h-4.06zM1011.45 486.2h4.06v41.6h-4.06zM1015.01 486.2h4.06v41.6h-4.06zM1018.57 486.2h4.06v41.6h-4.06zM1025.69 486.2h4.06v41.6h-4.06zM1075.52 486.2h4.06v41.6h-4.06zM1079.08 486.2h4.06v41.6h-4.06zM1082.64 486.2h4.06v41.6h-4.06zM1118.24 486.2h4.06v41.6h-4.06zM1121.80 486.2h4.06v41.6h-4.06zM1125.36 486.2h4.06v41.6h-4.06zM1168.07 486.2h4.06v41.6h-4.06zM1207.23 486.2h4.06v41.6h-4.06zM1221.47 486.2h4.06v41.6h-4.06zM1225.03 486.2h4.06v41.6h-4.06zM1228.59 486.2h4.06v41.6h-4.06zM1232.15 486.2h4.06v41.6h-4.06zM267.49 527.4h4.06v41.6h-4.06zM303.09 527.4h4.06v41.6h-4.06zM306.65 527.4h4.06v41.6h-4.06zM388.52 527.4h4.06v41.6h-4.06zM417.00 527.4h4.06v41.6h-4.06zM420.56 527.4h4.06v41.6h-4.06zM434.80 527.4h4.06v41.6h-4.06zM438.35 527.4h4.06v41.6h-4.06zM449.03 527.4h4.06v41.6h-4.06zM452.59 527.4h4.06v41.6h-4.06zM456.15 527.4h4.06v41.6h-4.06zM459.71 527.4h4.06v41.6h-4.06zM552.26 527.4h4.06v41.6h-4.06zM587.86 527.4h4.06v41.6h-4.06zM591.42 527.4h4.06v41.6h-4.06zM637.69 527.4h4.06v41.6h-4.06zM641.25 527.4h4.06v41.6h-4.06zM644.81 527.4h4.06v41.6h-4.06zM669.73 527.4h4.06v41.6h-4.06zM705.33 527.4h4.06v41.6h-4.06zM708.88 527.4h4.06v41.6h-4.06zM897.54 527.4h4.06v41.6h-4.06zM901.10 527.4h4.06v41.6h-4.06zM904.66 527.4h4.06v41.6h-4.06zM908.22 527.4h4.06v41.6h-4.06zM911.78 527.4h4.06v41.6h-4.06zM915.34 527.4h4.06v41.6h-4.06zM918.90 527.4h4.06v41.6h-4.06zM922.46 527.4h4.06v41.6h-4.06zM926.02 527.4h4.06v41.6h-4.06zM929.58 527.4h4.06v41.6h-4.06zM933.14 527.4h4.06v41.6h-4.06zM1011.45 527.4h4.06v41.6h-4.06zM1039.93 527.4h4.06v41.6h-4.06zM1043.49 527.4h4.06v41.6h-4.06zM1075.52 527.4h4.06v41.6h-4.06zM1079.08 527.4h4.06v41.6h-4.06zM1082.64 527.4h4.06v41.6h-4.06zM1160.95 527.4h4.06v41.6h-4.06zM1246.38 527.4h4.06v41.6h-4.06zM1249.94 527.4h4.06v41.6h-4.06zM1274.86 527.4h4.06v41.6h-4.06zM1278.42 527.4h4.06v41.6h-4.06zM214.10 568.6h4.06v41.6h-4.06zM221.22 568.6h4.06v41.6h-4.06zM224.78 568.6h4.06v41.6h-4.06zM228.34 568.6h4.06v41.6h-4.06zM285.29 568.6h4.06v41.6h-4.06zM303.09 568.6h4.06v41.6h-4.06zM338.69 568.6h4.06v41.6h-4.06zM342.25 568.6h4.06v41.6h-4.06zM345.81 568.6h4.06v41.6h-4.06zM374.28 568.6h4.06v41.6h-4.06zM377.84 568.6h4.06v41.6h-4.06zM409.88 568.6h4.06v41.6h-4.06zM427.68 568.6h4.06v41.6h-4.06zM431.24 568.6h4.06v41.6h-4.06zM481.07 568.6h4.06v41.6h-4.06zM488.19 568.6h4.06v41.6h-4.06zM495.31 568.6h4.06v41.6h-4.06zM552.26 568.6h4.06v41.6h-4.06zM580.74 568.6h4.06v41.6h-4.06zM587.86 568.6h4.06v41.6h-4.06zM591.42 568.6h4.06v41.6h-4.06zM676.85 568.6h4.06v41.6h-4.06zM680.41 568.6h4.06v41.6h-4.06zM683.97 568.6h4.06v41.6h-4.06zM730.24 568.6h4.06v41.6h-4.06zM740.92 568.6h4.06v41.6h-4.06zM744.48 568.6h4.06v41.6h-4.06zM780.08 568.6h4.06v41.6h-4.06zM783.64 568.6h4.06v41.6h-4.06zM787.20 568.6h4.06v41.6h-4.06zM804.99 568.6h4.06v41.6h-4.06zM808.55 568.6h4.06v41.6h-4.06zM829.91 568.6h4.06v41.6h-4.06zM833.47 568.6h4.06v41.6h-4.06zM869.07 568.6h4.06v41.6h-4.06zM872.63 568.6h4.06v41.6h-4.06zM911.78 568.6h4.06v41.6h-4.06zM918.90 568.6h4.06v41.6h-4.06zM947.38 568.6h4.06v41.6h-4.06zM950.94 568.6h4.06v41.6h-4.06zM954.50 568.6h4.06v41.6h-4.06zM965.18 568.6h4.06v41.6h-4.06zM986.53 568.6h4.06v41.6h-4.06zM993.65 568.6h4.06v41.6h-4.06zM997.21 568.6h4.06v41.6h-4.06zM1000.77 568.6h4.06v41.6h-4.06zM1036.37 568.6h4.06v41.6h-4.06zM1068.40 568.6h4.06v41.6h-4.06zM1079.08 568.6h4.06v41.6h-4.06zM1082.64 568.6h4.06v41.6h-4.06zM1100.44 568.6h4.06v41.6h-4.06zM1132.48 568.6h4.06v41.6h-4.06zM1136.04 568.6h4.06v41.6h-4.06zM1146.72 568.6h4.06v41.6h-4.06zM1150.28 568.6h4.06v41.6h-4.06zM1157.39 568.6h4.06v41.6h-4.06zM1160.95 568.6h4.06v41.6h-4.06zM1164.51 568.6h4.06v41.6h-4.06zM1171.63 568.6h4.06v41.6h-4.06zM1178.75 568.6h4.06v41.6h-4.06zM1271.30 568.6h4.06v41.6h-4.06zM1274.86 568.6h4.06v41.6h-4.06zM1278.42 568.6h4.06v41.6h-4.06zM1281.98 568.6h4.06v41.6h-4.06zM239.02 609.8h4.06v41.6h-4.06zM367.16 609.8h4.06v41.6h-4.06zM377.84 609.8h4.06v41.6h-4.06zM420.56 609.8h4.06v41.6h-4.06zM488.19 609.8h4.06v41.6h-4.06zM538.02 609.8h4.06v41.6h-4.06zM541.58 609.8h4.06v41.6h-4.06zM580.74 609.8h4.06v41.6h-4.06zM584.30 609.8h4.06v41.6h-4.06zM612.78 609.8h4.06v41.6h-4.06zM616.34 609.8h4.06v41.6h-4.06zM662.61 609.8h4.06v41.6h-4.06zM669.73 609.8h4.06v41.6h-4.06zM712.44 609.8h4.06v41.6h-4.06zM716.00 609.8h4.06v41.6h-4.06zM719.56 609.8h4.06v41.6h-4.06zM751.60 609.8h4.06v41.6h-4.06zM755.16 609.8h4.06v41.6h-4.06zM758.72 609.8h4.06v41.6h-4.06zM804.99 609.8h4.06v41.6h-4.06zM819.23 609.8h4.06v41.6h-4.06zM833.47 609.8h4.06v41.6h-4.06zM893.98 609.8h4.06v41.6h-4.06zM897.54 609.8h4.06v41.6h-4.06zM901.10 609.8h4.06v41.6h-4.06zM929.58 609.8h4.06v41.6h-4.06zM1036.37 609.8h4.06v41.6h-4.06zM1068.40 609.8h4.06v41.6h-4.06zM1071.96 609.8h4.06v41.6h-4.06zM1079.08 609.8h4.06v41.6h-4.06zM1082.64 609.8h4.06v41.6h-4.06zM1107.56 609.8h4.06v41.6h-4.06zM1111.12 609.8h4.06v41.6h-4.06zM1114.68 609.8h4.06v41.6h-4.06zM1121.80 609.8h4.06v41.6h-4.06zM1207.23 609.8h4.06v41.6h-4.06zM1217.91 609.8h4.06v41.6h-4.06zM1221.47 609.8h4.06v41.6h-4.06zM1225.03 609.8h4.06v41.6h-4.06zM1246.38 609.8h4.06v41.6h-4.06zM1278.42 609.8h4.06v41.6h-4.06zM1281.98 609.8h4.06v41.6h-4.06zM1285.54 609.8h4.06v41.6h-4.06zM221.22 651.0h4.06v41.6h-4.06zM224.78 651.0h4.06v41.6h-4.06zM228.34 651.0h4.06v41.6h-4.06zM260.37 651.0h4.06v41.6h-4.06zM281.73 651.0h4.06v41.6h-4.06zM285.29 651.0h4.06v41.6h-4.06zM313.77 651.0h4.06v41.6h-4.06zM317.33 651.0h4.06v41.6h-4.06zM388.52 651.0h4.06v41.6h-4.06zM392.08 651.0h4.06v41.6h-4.06zM413.44 651.0h4.06v41.6h-4.06zM523.79 651.0h4.06v41.6h-4.06zM648.37 651.0h4.06v41.6h-4.06zM733.80 651.0h4.06v41.6h-4.06zM780.08 651.0h4.06v41.6h-4.06zM783.64 651.0h4.06v41.6h-4.06zM787.20 651.0h4.06v41.6h-4.06zM861.95 651.0h4.06v41.6h-4.06zM865.51 651.0h4.06v41.6h-4.06zM869.07 651.0h4.06v41.6h-4.06zM936.70 651.0h4.06v41.6h-4.06zM940.26 651.0h4.06v41.6h-4.06zM993.65 651.0h4.06v41.6h-4.06zM997.21 651.0h4.06v41.6h-4.06zM1018.57 651.0h4.06v41.6h-4.06zM1107.56 651.0h4.06v41.6h-4.06zM1111.12 651.0h4.06v41.6h-4.06zM1118.24 651.0h4.06v41.6h-4.06zM1121.80 651.0h4.06v41.6h-4.06zM1210.79 651.0h4.06v41.6h-4.06zM256.82 692.2h4.06v41.6h-4.06zM278.17 692.2h4.06v41.6h-4.06zM303.09 692.2h4.06v41.6h-4.06zM313.77 692.2h4.06v41.6h-4.06zM452.59 692.2h4.06v41.6h-4.06zM456.15 692.2h4.06v41.6h-4.06zM459.71 692.2h4.06v41.6h-4.06zM488.19 692.2h4.06v41.6h-4.06zM495.31 692.2h4.06v41.6h-4.06zM580.74 692.2h4.06v41.6h-4.06zM584.30 692.2h4.06v41.6h-4.06zM669.73 692.2h4.06v41.6h-4.06zM673.29 692.2h4.06v41.6h-4.06zM676.85 692.2h4.06v41.6h-4.06zM723.12 692.2h4.06v41.6h-4.06zM726.68 692.2h4.06v41.6h-4.06zM751.60 692.2h4.06v41.6h-4.06zM804.99 692.2h4.06v41.6h-4.06zM819.23 692.2h4.06v41.6h-4.06zM844.15 692.2h4.06v41.6h-4.06zM847.71 692.2h4.06v41.6h-4.06zM851.27 692.2h4.06v41.6h-4.06zM854.83 692.2h4.06v41.6h-4.06zM858.39 692.2h4.06v41.6h-4.06zM926.02 692.2h4.06v41.6h-4.06zM929.58 692.2h4.06v41.6h-4.06zM972.30 692.2h4.06v41.6h-4.06zM975.85 692.2h4.06v41.6h-4.06zM979.41 692.2h4.06v41.6h-4.06zM1007.89 692.2h4.06v41.6h-4.06zM1011.45 692.2h4.06v41.6h-4.06zM1015.01 692.2h4.06v41.6h-4.06zM1025.69 692.2h4.06v41.6h-4.06zM1043.49 692.2h4.06v41.6h-4.06zM1061.29 692.2h4.06v41.6h-4.06zM1068.40 692.2h4.06v41.6h-4.06zM1071.96 692.2h4.06v41.6h-4.06zM1107.56 692.2h4.06v41.6h-4.06zM1160.95 692.2h4.06v41.6h-4.06zM1168.07 692.2h4.06v41.6h-4.06zM1196.55 692.2h4.06v41.6h-4.06zM249.70 733.4h4.06v41.6h-4.06zM274.61 733.4h4.06v41.6h-4.06zM313.77 733.4h4.06v41.6h-4.06zM409.88 733.4h4.06v41.6h-4.06zM413.44 733.4h4.06v41.6h-4.06zM417.00 733.4h4.06v41.6h-4.06zM484.63 733.4h4.06v41.6h-4.06zM488.19 733.4h4.06v41.6h-4.06zM566.50 733.4h4.06v41.6h-4.06zM570.06 733.4h4.06v41.6h-4.06zM587.86 733.4h4.06v41.6h-4.06zM666.17 733.4h4.06v41.6h-4.06zM676.85 733.4h4.06v41.6h-4.06zM733.80 733.4h4.06v41.6h-4.06zM740.92 733.4h4.06v41.6h-4.06zM744.48 733.4h4.06v41.6h-4.06zM748.04 733.4h4.06v41.6h-4.06zM751.60 733.4h4.06v41.6h-4.06zM765.84 733.4h4.06v41.6h-4.06zM769.40 733.4h4.06v41.6h-4.06zM780.08 733.4h4.06v41.6h-4.06zM783.64 733.4h4.06v41.6h-4.06zM787.20 733.4h4.06v41.6h-4.06zM837.03 733.4h4.06v41.6h-4.06zM897.54 733.4h4.06v41.6h-4.06zM922.46 733.4h4.06v41.6h-4.06zM972.30 733.4h4.06v41.6h-4.06zM975.85 733.4h4.06v41.6h-4.06zM1029.25 733.4h4.06v41.6h-4.06zM1082.64 733.4h4.06v41.6h-4.06zM1093.32 733.4h4.06v41.6h-4.06zM1104.00 733.4h4.06v41.6h-4.06zM1139.60 733.4h4.06v41.6h-4.06zM1235.71 733.4h4.06v41.6h-4.06zM1239.27 733.4h4.06v41.6h-4.06zM1242.83 733.4h4.06v41.6h-4.06zM370.72 774.6h4.06v41.6h-4.06zM374.28 774.6h4.06v41.6h-4.06zM377.84 774.6h4.06v41.6h-4.06zM395.64 774.6h4.06v41.6h-4.06zM399.20 774.6h4.06v41.6h-4.06zM413.44 774.6h4.06v41.6h-4.06zM417.00 774.6h4.06v41.6h-4.06zM420.56 774.6h4.06v41.6h-4.06zM434.80 774.6h4.06v41.6h-4.06zM488.19 774.6h4.06v41.6h-4.06zM491.75 774.6h4.06v41.6h-4.06zM495.31 774.6h4.06v41.6h-4.06zM509.55 774.6h4.06v41.6h-4.06zM541.58 774.6h4.06v41.6h-4.06zM545.14 774.6h4.06v41.6h-4.06zM548.70 774.6h4.06v41.6h-4.06zM552.26 774.6h4.06v41.6h-4.06zM780.08 774.6h4.06v41.6h-4.06zM783.64 774.6h4.06v41.6h-4.06zM815.67 774.6h4.06v41.6h-4.06zM819.23 774.6h4.06v41.6h-4.06zM833.47 774.6h4.06v41.6h-4.06zM837.03 774.6h4.06v41.6h-4.06zM854.83 774.6h4.06v41.6h-4.06zM865.51 774.6h4.06v41.6h-4.06zM893.98 774.6h4.06v41.6h-4.06zM897.54 774.6h4.06v41.6h-4.06zM901.10 774.6h4.06v41.6h-4.06zM911.78 774.6h4.06v41.6h-4.06zM915.34 774.6h4.06v41.6h-4.06zM926.02 774.6h4.06v41.6h-4.06zM929.58 774.6h4.06v41.6h-4.06zM986.53 774.6h4.06v41.6h-4.06zM1071.96 774.6h4.06v41.6h-4.06zM1075.52 774.6h4.06v41.6h-4.06zM1079.08 774.6h4.06v41.6h-4.06zM1082.64 774.6h4.06v41.6h-4.06zM1086.20 774.6h4.06v41.6h-4.06zM1114.68 774.6h4.06v41.6h-4.06zM1136.04 774.6h4.06v41.6h-4.06zM1139.60 774.6h4.06v41.6h-4.06zM1171.63 774.6h4.06v41.6h-4.06zM1196.55 774.6h4.06v41.6h-4.06zM1200.11 774.6h4.06v41.6h-4.06zM1203.67 774.6h4.06v41.6h-4.06zM1278.42 774.6h4.06v41.6h-4.06zM1281.98 774.6h4.06v41.6h-4.06zM1285.54 774.6h4.06v41.6h-4.06zM235.46 815.8h4.06v41.6h-4.06zM256.82 815.8h4.06v41.6h-4.06zM285.29 815.8h4.06v41.6h-4.06zM292.41 815.8h4.06v41.6h-4.06zM303.09 815.8h4.06v41.6h-4.06zM306.65 815.8h4.06v41.6h-4.06zM363.60 815.8h4.06v41.6h-4.06zM449.03 815.8h4.06v41.6h-4.06zM534.46 815.8h4.06v41.6h-4.06zM580.74 815.8h4.06v41.6h-4.06zM584.30 815.8h4.06v41.6h-4.06zM587.86 815.8h4.06v41.6h-4.06zM627.01 815.8h4.06v41.6h-4.06zM630.57 815.8h4.06v41.6h-4.06zM634.13 815.8h4.06v41.6h-4.06zM637.69 815.8h4.06v41.6h-4.06zM641.25 815.8h4.06v41.6h-4.06zM662.61 815.8h4.06v41.6h-4.06zM669.73 815.8h4.06v41.6h-4.06zM673.29 815.8h4.06v41.6h-4.06zM676.85 815.8h4.06v41.6h-4.06zM680.41 815.8h4.06v41.6h-4.06zM701.77 815.8h4.06v41.6h-4.06zM716.00 815.8h4.06v41.6h-4.06zM740.92 815.8h4.06v41.6h-4.06zM744.48 815.8h4.06v41.6h-4.06zM748.04 815.8h4.06v41.6h-4.06zM751.60 815.8h4.06v41.6h-4.06zM819.23 815.8h4.06v41.6h-4.06zM833.47 815.8h4.06v41.6h-4.06zM837.03 815.8h4.06v41.6h-4.06zM840.59 815.8h4.06v41.6h-4.06zM844.15 815.8h4.06v41.6h-4.06zM847.71 815.8h4.06v41.6h-4.06zM851.27 815.8h4.06v41.6h-4.06zM854.83 815.8h4.06v41.6h-4.06zM972.30 815.8h4.06v41.6h-4.06zM982.97 815.8h4.06v41.6h-4.06zM986.53 815.8h4.06v41.6h-4.06zM990.09 815.8h4.06v41.6h-4.06zM1011.45 815.8h4.06v41.6h-4.06zM1015.01 815.8h4.06v41.6h-4.06zM1018.57 815.8h4.06v41.6h-4.06zM1057.73 815.8h4.06v41.6h-4.06zM1061.29 815.8h4.06v41.6h-4.06zM1118.24 815.8h4.06v41.6h-4.06zM1121.80 815.8h4.06v41.6h-4.06zM1125.36 815.8h4.06v41.6h-4.06zM1128.92 815.8h4.06v41.6h-4.06zM1143.16 815.8h4.06v41.6h-4.06zM1146.72 815.8h4.06v41.6h-4.06zM1178.75 815.8h4.06v41.6h-4.06zM1182.31 815.8h4.06v41.6h-4.06zM1185.87 815.8h4.06v41.6h-4.06zM1242.83 815.8h4.06v41.6h-4.06zM1246.38 815.8h4.06v41.6h-4.06zM1249.94 815.8h4.06v41.6h-4.06zM1253.50 815.8h4.06v41.6h-4.06zM1257.06 815.8h4.06v41.6h-4.06zM281.73 857.0h4.06v41.6h-4.06zM285.29 857.0h4.06v41.6h-4.06zM295.97 857.0h4.06v41.6h-4.06zM299.53 857.0h4.06v41.6h-4.06zM303.09 857.0h4.06v41.6h-4.06zM306.65 857.0h4.06v41.6h-4.06zM313.77 857.0h4.06v41.6h-4.06zM317.33 857.0h4.06v41.6h-4.06zM420.56 857.0h4.06v41.6h-4.06zM434.80 857.0h4.06v41.6h-4.06zM438.35 857.0h4.06v41.6h-4.06zM441.91 857.0h4.06v41.6h-4.06zM488.19 857.0h4.06v41.6h-4.06zM491.75 857.0h4.06v41.6h-4.06zM566.50 857.0h4.06v41.6h-4.06zM570.06 857.0h4.06v41.6h-4.06zM669.73 857.0h4.06v41.6h-4.06zM691.09 857.0h4.06v41.6h-4.06zM797.87 857.0h4.06v41.6h-4.06zM804.99 857.0h4.06v41.6h-4.06zM854.83 857.0h4.06v41.6h-4.06zM858.39 857.0h4.06v41.6h-4.06zM965.18 857.0h4.06v41.6h-4.06zM1018.57 857.0h4.06v41.6h-4.06zM1061.29 857.0h4.06v41.6h-4.06zM1096.88 857.0h4.06v41.6h-4.06zM1100.44 857.0h4.06v41.6h-4.06zM1107.56 857.0h4.06v41.6h-4.06zM1171.63 857.0h4.06v41.6h-4.06zM1189.43 857.0h4.06v41.6h-4.06zM1207.23 857.0h4.06v41.6h-4.06zM1210.79 857.0h4.06v41.6h-4.06zM1214.35 857.0h4.06v41.6h-4.06zM1242.83 857.0h4.06v41.6h-4.06zM1271.30 857.0h4.06v41.6h-4.06zM1274.86 857.0h4.06v41.6h-4.06zM214.10 898.2h4.06v41.6h-4.06zM239.02 898.2h4.06v41.6h-4.06zM299.53 898.2h4.06v41.6h-4.06zM331.57 898.2h4.06v41.6h-4.06zM409.88 898.2h4.06v41.6h-4.06zM417.00 898.2h4.06v41.6h-4.06zM459.71 898.2h4.06v41.6h-4.06zM463.27 898.2h4.06v41.6h-4.06zM466.83 898.2h4.06v41.6h-4.06zM488.19 898.2h4.06v41.6h-4.06zM538.02 898.2h4.06v41.6h-4.06zM605.66 898.2h4.06v41.6h-4.06zM627.01 898.2h4.06v41.6h-4.06zM630.57 898.2h4.06v41.6h-4.06zM651.93 898.2h4.06v41.6h-4.06zM655.49 898.2h4.06v41.6h-4.06zM683.97 898.2h4.06v41.6h-4.06zM801.43 898.2h4.06v41.6h-4.06zM804.99 898.2h4.06v41.6h-4.06zM808.55 898.2h4.06v41.6h-4.06zM837.03 898.2h4.06v41.6h-4.06zM861.95 898.2h4.06v41.6h-4.06zM865.51 898.2h4.06v41.6h-4.06zM872.63 898.2h4.06v41.6h-4.06zM911.78 898.2h4.06v41.6h-4.06zM915.34 898.2h4.06v41.6h-4.06zM922.46 898.2h4.06v41.6h-4.06zM926.02 898.2h4.06v41.6h-4.06zM929.58 898.2h4.06v41.6h-4.06zM933.14 898.2h4.06v41.6h-4.06zM958.06 898.2h4.06v41.6h-4.06zM961.62 898.2h4.06v41.6h-4.06zM972.30 898.2h4.06v41.6h-4.06zM975.85 898.2h4.06v41.6h-4.06zM990.09 898.2h4.06v41.6h-4.06zM993.65 898.2h4.06v41.6h-4.06zM997.21 898.2h4.06v41.6h-4.06zM1018.57 898.2h4.06v41.6h-4.06zM1079.08 898.2h4.06v41.6h-4.06zM1082.64 898.2h4.06v41.6h-4.06zM1128.92 898.2h4.06v41.6h-4.06zM1132.48 898.2h4.06v41.6h-4.06zM1136.04 898.2h4.06v41.6h-4.06zM1157.39 898.2h4.06v41.6h-4.06zM1160.95 898.2h4.06v41.6h-4.06zM1164.51 898.2h4.06v41.6h-4.06zM1271.30 898.2h4.06v41.6h-4.06zM1274.86 898.2h4.06v41.6h-4.06zM221.22 939.4h4.06v41.6h-4.06zM224.78 939.4h4.06v41.6h-4.06zM228.34 939.4h4.06v41.6h-4.06zM303.09 939.4h4.06v41.6h-4.06zM306.65 939.4h4.06v41.6h-4.06zM338.69 939.4h4.06v41.6h-4.06zM363.60 939.4h4.06v41.6h-4.06zM367.16 939.4h4.06v41.6h-4.06zM434.80 939.4h4.06v41.6h-4.06zM488.19 939.4h4.06v41.6h-4.06zM570.06 939.4h4.06v41.6h-4.06zM616.34 939.4h4.06v41.6h-4.06zM666.17 939.4h4.06v41.6h-4.06zM669.73 939.4h4.06v41.6h-4.06zM701.77 939.4h4.06v41.6h-4.06zM716.00 939.4h4.06v41.6h-4.06zM719.56 939.4h4.06v41.6h-4.06zM737.36 939.4h4.06v41.6h-4.06zM740.92 939.4h4.06v41.6h-4.06zM769.40 939.4h4.06v41.6h-4.06zM794.32 939.4h4.06v41.6h-4.06zM869.07 939.4h4.06v41.6h-4.06zM872.63 939.4h4.06v41.6h-4.06zM886.86 939.4h4.06v41.6h-4.06zM950.94 939.4h4.06v41.6h-4.06zM954.50 939.4h4.06v41.6h-4.06zM968.74 939.4h4.06v41.6h-4.06zM1000.77 939.4h4.06v41.6h-4.06zM1018.57 939.4h4.06v41.6h-4.06zM1032.81 939.4h4.06v41.6h-4.06zM1047.05 939.4h4.06v41.6h-4.06zM1075.52 939.4h4.06v41.6h-4.06zM1079.08 939.4h4.06v41.6h-4.06zM1082.64 939.4h4.06v41.6h-4.06zM1125.36 939.4h4.06v41.6h-4.06zM1128.92 939.4h4.06v41.6h-4.06zM1132.48 939.4h4.06v41.6h-4.06zM1242.83 939.4h4.06v41.6h-4.06zM1246.38 939.4h4.06v41.6h-4.06zM1249.94 939.4h4.06v41.6h-4.06zM1281.98 939.4h4.06v41.6h-4.06zM1285.54 939.4h4.06v41.6h-4.06zM281.73 980.6h4.06v41.6h-4.06zM285.29 980.6h4.06v41.6h-4.06zM303.09 980.6h4.06v41.6h-4.06zM342.25 980.6h4.06v41.6h-4.06zM409.88 980.6h4.06v41.6h-4.06zM413.44 980.6h4.06v41.6h-4.06zM417.00 980.6h4.06v41.6h-4.06zM420.56 980.6h4.06v41.6h-4.06zM427.68 980.6h4.06v41.6h-4.06zM431.24 980.6h4.06v41.6h-4.06zM434.80 980.6h4.06v41.6h-4.06zM441.91 980.6h4.06v41.6h-4.06zM445.47 980.6h4.06v41.6h-4.06zM449.03 980.6h4.06v41.6h-4.06zM452.59 980.6h4.06v41.6h-4.06zM541.58 980.6h4.06v41.6h-4.06zM548.70 980.6h4.06v41.6h-4.06zM552.26 980.6h4.06v41.6h-4.06zM584.30 980.6h4.06v41.6h-4.06zM616.34 980.6h4.06v41.6h-4.06zM627.01 980.6h4.06v41.6h-4.06zM669.73 980.6h4.06v41.6h-4.06zM698.21 980.6h4.06v41.6h-4.06zM780.08 980.6h4.06v41.6h-4.06zM783.64 980.6h4.06v41.6h-4.06zM787.20 980.6h4.06v41.6h-4.06zM790.76 980.6h4.06v41.6h-4.06zM819.23 980.6h4.06v41.6h-4.06zM833.47 980.6h4.06v41.6h-4.06zM858.39 980.6h4.06v41.6h-4.06zM879.75 980.6h4.06v41.6h-4.06zM915.34 980.6h4.06v41.6h-4.06zM918.90 980.6h4.06v41.6h-4.06zM929.58 980.6h4.06v41.6h-4.06zM954.50 980.6h4.06v41.6h-4.06zM958.06 980.6h4.06v41.6h-4.06zM961.62 980.6h4.06v41.6h-4.06zM975.85 980.6h4.06v41.6h-4.06zM979.41 980.6h4.06v41.6h-4.06zM1032.81 980.6h4.06v41.6h-4.06zM1036.37 980.6h4.06v41.6h-4.06zM1082.64 980.6h4.06v41.6h-4.06zM1093.32 980.6h4.06v41.6h-4.06zM1096.88 980.6h4.06v41.6h-4.06zM1100.44 980.6h4.06v41.6h-4.06zM1121.80 980.6h4.06v41.6h-4.06zM1139.60 980.6h4.06v41.6h-4.06zM1143.16 980.6h4.06v41.6h-4.06zM1196.55 980.6h4.06v41.6h-4.06zM1207.23 980.6h4.06v41.6h-4.06zM1221.47 980.6h4.06v41.6h-4.06zM1249.94 980.6h4.06v41.6h-4.06zM1257.06 980.6h4.06v41.6h-4.06zM1281.98 980.6h4.06v41.6h-4.06zM1285.54 980.6h4.06v41.6h-4.06zM214.10 1021.8h4.06v41.6h-4.06zM239.02 1021.8h4.06v41.6h-4.06zM263.93 1021.8h4.06v41.6h-4.06zM303.09 1021.8h4.06v41.6h-4.06zM367.16 1021.8h4.06v41.6h-4.06zM370.72 1021.8h4.06v41.6h-4.06zM377.84 1021.8h4.06v41.6h-4.06zM413.44 1021.8h4.06v41.6h-4.06zM417.00 1021.8h4.06v41.6h-4.06zM513.11 1021.8h4.06v41.6h-4.06zM548.70 1021.8h4.06v41.6h-4.06zM605.66 1021.8h4.06v41.6h-4.06zM701.77 1021.8h4.06v41.6h-4.06zM708.88 1021.8h4.06v41.6h-4.06zM712.44 1021.8h4.06v41.6h-4.06zM716.00 1021.8h4.06v41.6h-4.06zM726.68 1021.8h4.06v41.6h-4.06zM780.08 1021.8h4.06v41.6h-4.06zM837.03 1021.8h4.06v41.6h-4.06zM861.95 1021.8h4.06v41.6h-4.06zM865.51 1021.8h4.06v41.6h-4.06zM869.07 1021.8h4.06v41.6h-4.06zM908.22 1021.8h4.06v41.6h-4.06zM911.78 1021.8h4.06v41.6h-4.06zM915.34 1021.8h4.06v41.6h-4.06zM933.14 1021.8h4.06v41.6h-4.06zM947.38 1021.8h4.06v41.6h-4.06zM950.94 1021.8h4.06v41.6h-4.06zM954.50 1021.8h4.06v41.6h-4.06zM958.06 1021.8h4.06v41.6h-4.06zM961.62 1021.8h4.06v41.6h-4.06zM965.18 1021.8h4.06v41.6h-4.06zM968.74 1021.8h4.06v41.6h-4.06zM972.30 1021.8h4.06v41.6h-4.06zM1025.69 1021.8h4.06v41.6h-4.06zM1047.05 1021.8h4.06v41.6h-4.06zM1050.61 1021.8h4.06v41.6h-4.06zM1054.17 1021.8h4.06v41.6h-4.06zM1057.73 1021.8h4.06v41.6h-4.06zM1061.29 1021.8h4.06v41.6h-4.06zM1064.85 1021.8h4.06v41.6h-4.06zM1082.64 1021.8h4.06v41.6h-4.06zM1089.76 1021.8h4.06v41.6h-4.06zM1100.44 1021.8h4.06v41.6h-4.06zM1139.60 1021.8h4.06v41.6h-4.06zM1143.16 1021.8h4.06v41.6h-4.06zM1146.72 1021.8h4.06v41.6h-4.06zM1200.11 1021.8h4.06v41.6h-4.06zM1203.67 1021.8h4.06v41.6h-4.06zM1207.23 1021.8h4.06v41.6h-4.06zM1210.79 1021.8h4.06v41.6h-4.06zM1217.91 1021.8h4.06v41.6h-4.06zM1271.30 1021.8h4.06v41.6h-4.06zM1274.86 1021.8h4.06v41.6h-4.06zM1281.98 1021.8h4.06v41.6h-4.06zM1285.54 1021.8h4.06v41.6h-4.06zM221.22 1063.0h4.06v41.6h-4.06zM228.34 1063.0h4.06v41.6h-4.06zM395.64 1063.0h4.06v41.6h-4.06zM399.20 1063.0h4.06v41.6h-4.06zM466.83 1063.0h4.06v41.6h-4.06zM908.22 1063.0h4.06v41.6h-4.06zM1036.37 1063.0h4.06v41.6h-4.06zM1039.93 1063.0h4.06v41.6h-4.06zM1111.12 1063.0h4.06v41.6h-4.06zM1160.95 1063.0h4.06v41.6h-4.06zM1225.03 1063.0h4.06v41.6h-4.06zM1228.59 1063.0h4.06v41.6h-4.06zM1246.38 1063.0h4.06v41.6h-4.06zM1249.94 1063.0h4.06v41.6h-4.06zM1253.50 1063.0h4.06v41.6h-4.06zM1260.62 1063.0h4.06v41.6h-4.06zM214.10 1104.2h4.06v41.6h-4.06zM267.49 1104.2h4.06v41.6h-4.06zM427.68 1104.2h4.06v41.6h-4.06zM434.80 1104.2h4.06v41.6h-4.06zM438.35 1104.2h4.06v41.6h-4.06zM441.91 1104.2h4.06v41.6h-4.06zM523.79 1104.2h4.06v41.6h-4.06zM602.10 1104.2h4.06v41.6h-4.06zM605.66 1104.2h4.06v41.6h-4.06zM662.61 1104.2h4.06v41.6h-4.06zM673.29 1104.2h4.06v41.6h-4.06zM712.44 1104.2h4.06v41.6h-4.06zM716.00 1104.2h4.06v41.6h-4.06zM744.48 1104.2h4.06v41.6h-4.06zM861.95 1104.2h4.06v41.6h-4.06zM865.51 1104.2h4.06v41.6h-4.06zM886.86 1104.2h4.06v41.6h-4.06zM947.38 1104.2h4.06v41.6h-4.06zM954.50 1104.2h4.06v41.6h-4.06zM958.06 1104.2h4.06v41.6h-4.06zM961.62 1104.2h4.06v41.6h-4.06zM975.85 1104.2h4.06v41.6h-4.06zM979.41 1104.2h4.06v41.6h-4.06zM982.97 1104.2h4.06v41.6h-4.06zM986.53 1104.2h4.06v41.6h-4.06zM1011.45 1104.2h4.06v41.6h-4.06zM1015.01 1104.2h4.06v41.6h-4.06zM1018.57 1104.2h4.06v41.6h-4.06zM1054.17 1104.2h4.06v41.6h-4.06zM1075.52 1104.2h4.06v41.6h-4.06zM1096.88 1104.2h4.06v41.6h-4.06zM1100.44 1104.2h4.06v41.6h-4.06zM1121.80 1104.2h4.06v41.6h-4.06zM1136.04 1104.2h4.06v41.6h-4.06zM1160.95 1104.2h4.06v41.6h-4.06zM1164.51 1104.2h4.06v41.6h-4.06zM1168.07 1104.2h4.06v41.6h-4.06zM1253.50 1104.2h4.06v41.6h-4.06zM1260.62 1104.2h4.06v41.6h-4.06zM1271.30 1104.2h4.06v41.6h-4.06zM1274.86 1104.2h4.06v41.6h-4.06zM1278.42 1104.2h4.06v41.6h-4.06z"/>
<path fill="#fcc0ba" d="M303.09 239.0h4.06v41.6h-4.06zM627.01 239.0h4.06v41.6h-4.06zM716.00 239.0h4.06v41.6h-4.06zM854.83 239.0h4.06v41.6h-4.06zM858.39 239.0h4.06v41.6h-4.06zM861.95 239.0h4.06v41.6h-4.06zM865.51 239.0h4.06v41.6h-4.06zM958.06 239.0h4.06v41.6h-4.06zM961.62 239.0h4.06v41.6h-4.06zM1004.33 239.0h4.06v41.6h-4.06zM1007.89 239.0h4.06v41.6h-4.06zM1118.24 239.0h4.06v41.6h-4.06zM1128.92 239.0h4.06v41.6h-4.06zM1132.48 239.0h4.06v41.6h-4.06zM1143.16 239.0h4.06v41.6h-4.06zM1217.91 239.0h4.06v41.6h-4.06zM1221.47 239.0h4.06v41.6h-4.06zM392.08 280.2h4.06v41.6h-4.06zM395.64 280.2h4.06v41.6h-4.06zM399.20 280.2h4.06v41.6h-4.06zM434.80 280.2h4.06v41.6h-4.06zM438.35 280.2h4.06v41.6h-4.06zM740.92 280.2h4.06v41.6h-4.06zM922.46 280.2h4.06v41.6h-4.06zM1036.37 280.2h4.06v41.6h-4.06zM1281.98 280.2h4.06v41.6h-4.06zM392.08 321.4h4.06v41.6h-4.06zM395.64 321.4h4.06v41.6h-4.06zM399.20 321.4h4.06v41.6h-4.06zM434.80 321.4h4.06v41.6h-4.06zM438.35 321.4h4.06v41.6h-4.06zM452.59 321.4h4.06v41.6h-4.06zM456.15 321.4h4.06v41.6h-4.06zM580.74 321.4h4.06v41.6h-4.06zM584.30 321.4h4.06v41.6h-4.06zM594.98 321.4h4.06v41.6h-4.06zM644.81 321.4h4.06v41.6h-4.06zM683.97 321.4h4.06v41.6h-4.06zM726.68 321.4h4.06v41.6h-4.06zM751.60 321.4h4.06v41.6h-4.06zM755.16 321.4h4.06v41.6h-4.06zM758.72 321.4h4.06v41.6h-4.06zM837.03 321.4h4.06v41.6h-4.06zM854.83 321.4h4.06v41.6h-4.06zM918.90 321.4h4.06v41.6h-4.06zM929.58 321.4h4.06v41.6h-4.06zM933.14 321.4h4.06v41.6h-4.06zM1079.08 321.4h4.06v41.6h-4.06zM1082.64 321.4h4.06v41.6h-4.06zM1100.44 321.4h4.06v41.6h-4.06zM1118.24 321.4h4.06v41.6h-4.06zM1121.80 321.4h4.06v41.6h-4.06zM1164.51 321.4h4.06v41.6h-4.06zM1168.07 321.4h4.06v41.6h-4.06zM1171.63 321.4h4.06v41.6h-4.06zM1221.47 321.4h4.06v41.6h-4.06zM363.60 362.6h4.06v41.6h-4.06zM420.56 362.6h4.06v41.6h-4.06zM740.92 362.6h4.06v41.6h-4.06zM1128.92 362.6h4.06v41.6h-4.06zM1160.95 362.6h4.06v41.6h-4.06zM1168.07 362.6h4.06v41.6h-4.06zM1278.42 362.6h4.06v41.6h-4.06zM214.10 403.8h4.06v41.6h-4.06zM303.09 403.8h4.06v41.6h-4.06zM338.69 403.8h4.06v41.6h-4.06zM427.68 403.8h4.06v41.6h-4.06zM452.59 403.8h4.06v41.6h-4.06zM488.19 403.8h4.06v41.6h-4.06zM513.11 403.8h4.06v41.6h-4.06zM627.01 403.8h4.06v41.6h-4.06zM630.57 403.8h4.06v41.6h-4.06zM669.73 403.8h4.06v41.6h-4.06zM687.53 403.8h4.06v41.6h-4.06zM833.47 403.8h4.06v41.6h-4.06zM837.03 403.8h4.06v41.6h-4.06zM879.75 403.8h4.06v41.6h-4.06zM986.53 403.8h4.06v41.6h-4.06zM1217.91 403.8h4.06v41.6h-4.06zM1221.47 403.8h4.06v41.6h-4.06zM1271.30 403.8h4.06v41.6h-4.06zM1274.86 403.8h4.06v41.6h-4.06zM1278.42 403.8h4.06v41.6h-4.06zM1281.98 403.8h4.06v41.6h-4.06zM1285.54 403.8h4.06v41.6h-4.06zM374.28 445.0h4.06v41.6h-4.06zM409.88 445.0h4.06v41.6h-4.06zM498.87 445.0h4.06v41.6h-4.06zM552.26 445.0h4.06v41.6h-4.06zM644.81 445.0h4.06v41.6h-4.06zM655.49 445.0h4.06v41.6h-4.06zM683.97 445.0h4.06v41.6h-4.06zM723.12 445.0h4.06v41.6h-4.06zM740.92 445.0h4.06v41.6h-4.06zM819.23 445.0h4.06v41.6h-4.06zM1100.44 445.0h4.06v41.6h-4.06zM1114.68 445.0h4.06v41.6h-4.06zM1242.83 445.0h4.06v41.6h-4.06zM214.10 486.2h4.06v41.6h-4.06zM303.09 486.2h4.06v41.6h-4.06zM374.28 486.2h4.06v41.6h-4.06zM384.96 486.2h4.06v41.6h-4.06zM392.08 486.2h4.06v41.6h-4.06zM413.44 486.2h4.06v41.6h-4.06zM452.59 486.2h4.06v41.6h-4.06zM744.48 486.2h4.06v41.6h-4.06zM901.10 486.2h4.06v41.6h-4.06zM1114.68 486.2h4.06v41.6h-4.06zM1150.28 486.2h4.06v41.6h-4.06zM1278.42 486.2h4.06v41.6h-4.06zM235.46 527.4h4.06v41.6h-4.06zM239.02 527.4h4.06v41.6h-4.06zM285.29 527.4h4.06v41.6h-4.06zM288.85 527.4h4.06v41.6h-4.06zM338.69 527.4h4.06v41.6h-4.06zM356.48 527.4h4.06v41.6h-4.06zM360.04 527.4h4.06v41.6h-4.06zM384.96 527.4h4.06v41.6h-4.06zM495.31 527.4h4.06v41.6h-4.06zM627.01 527.4h4.06v41.6h-4.06zM680.41 527.4h4.06v41.6h-4.06zM748.04 527.4h4.06v41.6h-4.06zM936.70 527.4h4.06v41.6h-4.06zM979.41 527.4h4.06v41.6h-4.06zM1018.57 527.4h4.06v41.6h-4.06zM1143.16 527.4h4.06v41.6h-4.06zM1207.23 527.4h4.06v41.6h-4.06zM1285.54 527.4h4.06v41.6h-4.06zM260.37 568.6h4.06v41.6h-4.06zM420.56 568.6h4.06v41.6h-4.06zM513.11 568.6h4.06v41.6h-4.06zM648.37 568.6h4.06v41.6h-4.06zM687.53 568.6h4.06v41.6h-4.06zM1047.05 568.6h4.06v41.6h-4.06zM441.91 609.8h4.06v41.6h-4.06zM513.11 609.8h4.06v41.6h-4.06zM634.13 609.8h4.06v41.6h-4.06zM723.12 609.8h4.06v41.6h-4.06zM858.39 609.8h4.06v41.6h-4.06zM904.66 609.8h4.06v41.6h-4.06zM1018.57 609.8h4.06v41.6h-4.06zM1136.04 609.8h4.06v41.6h-4.06zM374.28 651.0h4.06v41.6h-4.06zM513.11 651.0h4.06v41.6h-4.06zM612.78 651.0h4.06v41.6h-4.06zM630.57 651.0h4.06v41.6h-4.06zM669.73 651.0h4.06v41.6h-4.06zM847.71 651.0h4.06v41.6h-4.06zM1029.25 651.0h4.06v41.6h-4.06zM1032.81 651.0h4.06v41.6h-4.06zM1036.37 651.0h4.06v41.6h-4.06zM1096.88 651.0h4.06v41.6h-4.06zM644.81 692.2h4.06v41.6h-4.06zM648.37 692.2h4.06v41.6h-4.06zM701.77 692.2h4.06v41.6h-4.06zM733.80 692.2h4.06v41.6h-4.06zM872.63 692.2h4.06v41.6h-4.06zM1114.68 692.2h4.06v41.6h-4.06zM214.10 733.4h4.06v41.6h-4.06zM303.09 733.4h4.06v41.6h-4.06zM392.08 733.4h4.06v41.6h-4.06zM420.56 733.4h4.06v41.6h-4.06zM630.57 733.4h4.06v41.6h-4.06zM687.53 733.4h4.06v41.6h-4.06zM901.10 733.4h4.06v41.6h-4.06zM954.50 733.4h4.06v41.6h-4.06zM1011.45 733.4h4.06v41.6h-4.06zM1114.68 733.4h4.06v41.6h-4.06zM409.88 774.6h4.06v41.6h-4.06zM655.49 774.6h4.06v41.6h-4.06zM659.05 774.6h4.06v41.6h-4.06zM683.97 774.6h4.06v41.6h-4.06zM918.90 774.6h4.06v41.6h-4.06zM961.62 774.6h4.06v41.6h-4.06zM965.18 774.6h4.06v41.6h-4.06zM1107.56 774.6h4.06v41.6h-4.06zM1157.39 774.6h4.06v41.6h-4.06zM1207.23 774.6h4.06v41.6h-4.06zM1221.47 774.6h4.06v41.6h-4.06zM1242.83 774.6h4.06v41.6h-4.06zM417.00 815.8h4.06v41.6h-4.06zM420.56 815.8h4.06v41.6h-4.06zM427.68 815.8h4.06v41.6h-4.06zM541.58 815.8h4.06v41.6h-4.06zM687.53 815.8h4.06v41.6h-4.06zM804.99 815.8h4.06v41.6h-4.06zM829.91 815.8h4.06v41.6h-4.06zM901.10 815.8h4.06v41.6h-4.06zM929.58 815.8h4.06v41.6h-4.06zM1093.32 815.8h4.06v41.6h-4.06zM1096.88 815.8h4.06v41.6h-4.06zM1114.68 815.8h4.06v41.6h-4.06zM1164.51 815.8h4.06v41.6h-4.06zM263.93 857.0h4.06v41.6h-4.06zM452.59 857.0h4.06v41.6h-4.06zM456.15 857.0h4.06v41.6h-4.06zM644.81 857.0h4.06v41.6h-4.06zM751.60 857.0h4.06v41.6h-4.06zM886.86 857.0h4.06v41.6h-4.06zM929.58 857.0h4.06v41.6h-4.06zM1057.73 857.0h4.06v41.6h-4.06zM1143.16 857.0h4.06v41.6h-4.06zM1157.39 857.0h4.06v41.6h-4.06zM1249.94 857.0h4.06v41.6h-4.06zM1253.50 857.0h4.06v41.6h-4.06zM1278.42 857.0h4.06v41.6h-4.06zM224.78 898.2h4.06v41.6h-4.06zM306.65 898.2h4.06v41.6h-4.06zM420.56 898.2h4.06v41.6h-4.06zM509.55 898.2h4.06v41.6h-4.06zM513.11 898.2h4.06v41.6h-4.06zM705.33 898.2h4.06v41.6h-4.06zM726.68 898.2h4.06v41.6h-4.06zM833.47 898.2h4.06v41.6h-4.06zM858.39 898.2h4.06v41.6h-4.06zM904.66 898.2h4.06v41.6h-4.06zM908.22 898.2h4.06v41.6h-4.06zM1007.89 898.2h4.06v41.6h-4.06zM1114.68 898.2h4.06v41.6h-4.06zM1192.99 898.2h4.06v41.6h-4.06zM1242.83 898.2h4.06v41.6h-4.06zM417.00 939.4h4.06v41.6h-4.06zM427.68 939.4h4.06v41.6h-4.06zM438.35 939.4h4.06v41.6h-4.06zM441.91 939.4h4.06v41.6h-4.06zM858.39 939.4h4.06v41.6h-4.06zM1160.95 939.4h4.06v41.6h-4.06zM1164.51 939.4h4.06v41.6h-4.06zM214.10 980.6h4.06v41.6h-4.06zM687.53 980.6h4.06v41.6h-4.06zM901.10 980.6h4.06v41.6h-4.06zM993.65 980.6h4.06v41.6h-4.06zM1164.51 980.6h4.06v41.6h-4.06zM1274.86 980.6h4.06v41.6h-4.06zM1278.42 980.6h4.06v41.6h-4.06zM420.56 1021.8h4.06v41.6h-4.06zM438.35 1021.8h4.06v41.6h-4.06zM538.02 1021.8h4.06v41.6h-4.06zM594.98 1021.8h4.06v41.6h-4.06zM751.60 1021.8h4.06v41.6h-4.06zM808.55 1021.8h4.06v41.6h-4.06zM858.39 1021.8h4.06v41.6h-4.06zM872.63 1021.8h4.06v41.6h-4.06zM349.36 1063.0h4.06v41.6h-4.06zM363.60 1063.0h4.06v41.6h-4.06zM367.16 1063.0h4.06v41.6h-4.06zM651.93 1063.0h4.06v41.6h-4.06zM655.49 1063.0h4.06v41.6h-4.06zM683.97 1063.0h4.06v41.6h-4.06zM687.53 1063.0h4.06v41.6h-4.06zM723.12 1063.0h4.06v41.6h-4.06zM751.60 1063.0h4.06v41.6h-4.06zM876.19 1063.0h4.06v41.6h-4.06zM979.41 1063.0h4.06v41.6h-4.06zM1057.73 1063.0h4.06v41.6h-4.06zM1232.15 1063.0h4.06v41.6h-4.06zM1235.71 1063.0h4.06v41.6h-4.06zM239.02 1104.2h4.06v41.6h-4.06zM452.59 1104.2h4.06v41.6h-4.06zM495.31 1104.2h4.06v41.6h-4.06zM609.22 1104.2h4.06v41.6h-4.06zM612.78 1104.2h4.06v41.6h-4.06zM687.53 1104.2h4.06v41.6h-4.06zM751.60 1104.2h4.06v41.6h-4.06zM858.39 1104.2h4.06v41.6h-4.06zM897.54 1104.2h4.06v41.6h-4.06zM901.10 1104.2h4.06v41.6h-4.06zM1114.68 1104.2h4.06v41.6h-4.06zM1118.24 1104.2h4.06v41.6h-4.06z"/>
<path fill="#b1cfe4" d="M765.84 239.0h4.06v41.6h-4.06zM765.84 403.8h4.06v41.6h-4.06zM1228.59 445.0h4.06v41.6h-4.06zM765.84 568.6h4.06v41.6h-4.06zM1228.59 568.6h4.06v41.6h-4.06zM271.05 609.8h4.06v41.6h-4.06zM765.84 609.8h4.06v41.6h-4.06zM271.05 651.0h4.06v41.6h-4.06zM765.84 692.2h4.06v41.6h-4.06zM271.05 898.2h4.06v41.6h-4.06zM765.84 939.4h4.06v41.6h-4.06zM765.84 980.6h4.06v41.6h-4.06zM1228.59 1021.8h4.06v41.6h-4.06zM765.84 1104.2h4.06v41.6h-4.06z"/>
<path fill="#fca89f" d="M228.34 321.4h4.06v41.6h-4.06zM1274.86 321.4h4.06v41.6h-4.06zM427.68 362.6h4.06v41.6h-4.06zM431.24 362.6h4.06v41.6h-4.06zM1047.05 362.6h4.06v41.6h-4.06zM897.54 403.8h4.06v41.6h-4.06zM1171.63 445.0h4.06v41.6h-4.06zM1274.86 445.0h4.06v41.6h-4.06zM420.56 486.2h4.06v41.6h-4.06zM584.30 486.2h4.06v41.6h-4.06zM858.39 568.6h4.06v41.6h-4.06zM687.53 609.8h4.06v41.6h-4.06zM420.56 651.0h4.06v41.6h-4.06zM1047.05 651.0h4.06v41.6h-4.06zM1274.86 651.0h4.06v41.6h-4.06zM680.41 692.2h4.06v41.6h-4.06zM687.53 692.2h4.06v41.6h-4.06zM904.66 692.2h4.06v41.6h-4.06zM1096.88 733.4h4.06v41.6h-4.06zM1143.16 733.4h4.06v41.6h-4.06zM1228.59 733.4h4.06v41.6h-4.06zM239.02 774.6h4.06v41.6h-4.06zM630.57 774.6h4.06v41.6h-4.06zM740.92 774.6h4.06v41.6h-4.06zM1274.86 774.6h4.06v41.6h-4.06zM235.46 857.0h4.06v41.6h-4.06zM872.63 857.0h4.06v41.6h-4.06zM876.19 857.0h4.06v41.6h-4.06zM1032.81 857.0h4.06v41.6h-4.06zM452.59 898.2h4.06v41.6h-4.06zM456.15 898.2h4.06v41.6h-4.06zM648.37 898.2h4.06v41.6h-4.06zM751.60 898.2h4.06v41.6h-4.06zM833.47 939.4h4.06v41.6h-4.06zM837.03 939.4h4.06v41.6h-4.06zM1143.16 939.4h4.06v41.6h-4.06zM630.57 980.6h4.06v41.6h-4.06zM1136.04 980.6h4.06v41.6h-4.06zM452.59 1021.8h4.06v41.6h-4.06zM295.97 1063.0h4.06v41.6h-4.06zM434.80 1063.0h4.06v41.6h-4.06zM438.35 1063.0h4.06v41.6h-4.06zM441.91 1063.0h4.06v41.6h-4.06zM630.57 1063.0h4.06v41.6h-4.06zM634.13 1063.0h4.06v41.6h-4.06zM965.18 1063.0h4.06v41.6h-4.06zM1100.44 1063.0h4.06v41.6h-4.06zM1143.16 1063.0h4.06v41.6h-4.06zM1157.39 1063.0h4.06v41.6h-4.06zM1178.75 1063.0h4.06v41.6h-4.06zM1257.06 1063.0h4.06v41.6h-4.06z"/>
<path fill="#fc9084" d="M1171.63 486.2h4.06v41.6h-4.06zM979.41 651.0h4.06v41.6h-4.06zM452.59 1063.0h4.06v41.6h-4.06zM758.72 1063.0h4.06v41.6h-4.06zM1242.83 1063.0h4.06v41.6h-4.06zM1278.42 1063.0h4.06v41.6h-4.06z"/>
<path fill="#99c0db" d="M313.77 568.6h4.06v41.6h-4.06z"/>
</g></g>
<!-- labels -->
<g font-size="32.4">
<text transform="translate(182.3,270.8) scale(0.958,1)" text-anchor="end">YTHDC1</text>
<text transform="translate(182.3,312.0) scale(0.958,1)" text-anchor="end">IGF2BP2</text>
<text transform="translate(182.3,353.2) scale(0.958,1)" text-anchor="end">IGF2BP3</text>
<text transform="translate(182.3,394.4) scale(0.958,1)" text-anchor="end">FTO</text>
<text transform="translate(182.3,435.6) scale(0.958,1)" text-anchor="end">METTL14</text>
<text transform="translate(182.3,476.9) scale(0.958,1)" text-anchor="end">YTHDF3</text>
<text transform="translate(182.3,518.1) scale(0.958,1)" text-anchor="end">RBM15</text>
<text transform="translate(182.3,559.3) scale(0.958,1)" text-anchor="end">WTAP</text>
<text transform="translate(182.3,600.5) scale(0.958,1)" text-anchor="end">HNRNPA2B1</text>
<text transform="translate(182.3,641.7) scale(0.958,1)" text-anchor="end">HNRNPC</text>
<text transform="translate(182.3,682.9) scale(0.958,1)" text-anchor="end">ALKBH5</text>
<text transform="translate(182.3,724.1) scale(0.958,1)" text-anchor="end">YTHDF2</text>
<text transform="translate(182.3,765.3) scale(0.958,1)" text-anchor="end">METTL16</text>
<text transform="translate(182.3,806.5) scale(0.958,1)" text-anchor="end">VIRMA</text>
<text transform="translate(182.3,847.7) scale(0.958,1)" text-anchor="end">RBM15B</text>
<text transform="translate(182.3,889.0) scale(0.958,1)" text-anchor="end">YTHDF1</text>
<text transform="translate(182.3,930.2) scale(0.958,1)" text-anchor="end">CBLL1</text>
<text transform="translate(182.3,971.4) scale(0.958,1)" text-anchor="end">ZC3H13</text>
<text transform="translate(182.3,1012.6) scale(0.958,1)" text-anchor="end">METTL3</text>
<text transform="translate(182.3,1053.8) scale(0.958,1)" text-anchor="end">YTHDC2</text>
<text transform="translate(182.3,1095.0) scale(0.958,1)" text-anchor="end">IGF2BP1</text>
<text transform="translate(182.3,1136.2) scale(0.958,1)" text-anchor="end">ZCCHC4</text>
</g>
<g font-size="30.7">
<text x="1321.3" y="274.7">R = 0.300</text>
<text x="1462.7" y="258.3" font-size="19.5" letter-spacing="1" stroke="#000" stroke-width="0.35">***</text>
<text x="1321.3" y="315.9">R = 0.115</text>
<text x="1460.7" y="299.5" font-size="19.5" letter-spacing="1" stroke="#000" stroke-width="0.35">*</text>
<text x="1321.3" y="357.1">R = 0.087</text>
<text x="1461.2" y="340.4" font-size="23">ns</text>
<text x="1321.3" y="398.3">R = 0.119</text>
<text x="1460.7" y="381.9" font-size="19.5" letter-spacing="1" stroke="#000" stroke-width="0.35">*</text>
<text x="1321.3" y="439.5">R = 0.259</text>
<text x="1462.7" y="423.1" font-size="19.5" letter-spacing="1" stroke="#000" stroke-width="0.35">***</text>
<text x="1321.3" y="480.8">R = 0.144</text>
<text x="1462.7" y="464.4" font-size="19.5" letter-spacing="1" stroke="#000" stroke-width="0.35">*</text>
<text x="1321.3" y="522.0">R = 0.192</text>
<text x="1462.7" y="505.6" font-size="19.5" letter-spacing="1" stroke="#000" stroke-width="0.35">***</text>
<text x="1321.3" y="563.2">R = 0.058</text>
<text x="1461.2" y="546.5" font-size="23">ns</text>
<text x="1321.3" y="604.4">R = 0.066</text>
<text x="1461.2" y="587.7" font-size="23">ns</text>
<text x="1321.3" y="645.6">R = 0.030</text>
<text x="1461.2" y="628.9" font-size="23">ns</text>
<text x="1321.3" y="686.8">R = 0.122</text>
<text x="1462.7" y="670.4" font-size="19.5" letter-spacing="1" stroke="#000" stroke-width="0.35">*</text>
<text x="1321.3" y="728.0">R = 0.180</text>
<text x="1462.7" y="711.6" font-size="19.5" letter-spacing="1" stroke="#000" stroke-width="0.35">**</text>
<text x="1321.3" y="769.2">R = 0.141</text>
<text x="1462.7" y="752.8" font-size="19.5" letter-spacing="1" stroke="#000" stroke-width="0.35">*</text>
<text x="1321.3" y="810.4">R = 0.170</text>
<text x="1462.7" y="794.0" font-size="19.5" letter-spacing="1" stroke="#000" stroke-width="0.35">**</text>
<text x="1321.3" y="851.6">R = 0.238</text>
<text x="1462.7" y="835.2" font-size="19.5" letter-spacing="1" stroke="#000" stroke-width="0.35">***</text>
<text x="1321.3" y="892.8">R = 0.187</text>
<text x="1462.7" y="876.4" font-size="19.5" letter-spacing="1" stroke="#000" stroke-width="0.35">**</text>
<text x="1321.3" y="934.1">R = 0.198</text>
<text x="1462.7" y="917.7" font-size="19.5" letter-spacing="1" stroke="#000" stroke-width="0.35">***</text>
<text x="1321.3" y="975.3">R = 0.274</text>
<text x="1462.7" y="958.9" font-size="19.5" letter-spacing="1" stroke="#000" stroke-width="0.35">***</text>
<text x="1321.3" y="1016.5">R = 0.225</text>
<text x="1462.7" y="1000.1" font-size="19.5" letter-spacing="1" stroke="#000" stroke-width="0.35">***</text>
<text x="1321.3" y="1057.7">R = 0.209</text>
<text x="1462.7" y="1041.3" font-size="19.5" letter-spacing="1" stroke="#000" stroke-width="0.35">***</text>
<text x="1321.3" y="1098.9">R = 0.180</text>
<text x="1462.7" y="1082.5" font-size="19.5" letter-spacing="1" stroke="#000" stroke-width="0.35">**</text>
<text x="1321.3" y="1140.1">R = 0.233</text>
<text x="1462.7" y="1123.7" font-size="19.5" letter-spacing="1" stroke="#000" stroke-width="0.35">***</text>
</g>
<!-- highlight boxes -->
<rect x="42.3" y="237.3" width="146.1" height="37.6" rx="7" ry="7" fill="none" stroke="#BE0000" stroke-width="4.8"/>
<rect x="1303.6" y="237.6" width="194" height="44.6" rx="7" ry="7" fill="none" stroke="#BE0000" stroke-width="4.8"/>
<!-- colorbar -->
<defs><linearGradient id="cb" x1="0" x2="1" y1="0" y2="0">
<stop offset="0" stop-color="#80B1D3"/>
<stop offset="0.6581" stop-color="#ffffff"/>
<stop offset="1" stop-color="#FB8072"/>
</linearGradient></defs>
<rect x="697.4" y="1161.5" width="250.4" height="30.5" fill="url(#cb)"/>
<g stroke="#fff" stroke-width="1.6">
<line x1="733.2" y1="1161.5" x2="733.2" y2="1167"/><line x1="733.2" y1="1186.5" x2="733.2" y2="1192"/><line x1="776.1" y1="1161.5" x2="776.1" y2="1167"/><line x1="776.1" y1="1186.5" x2="776.1" y2="1192"/><line x1="819.0" y1="1161.5" x2="819.0" y2="1167"/><line x1="819.0" y1="1186.5" x2="819.0" y2="1192"/><line x1="861.9" y1="1161.5" x2="861.9" y2="1167"/><line x1="861.9" y1="1186.5" x2="861.9" y2="1192"/><line x1="904.8" y1="1161.5" x2="904.8" y2="1167"/><line x1="904.8" y1="1186.5" x2="904.8" y2="1192"/><line x1="947.0" y1="1161.5" x2="947.0" y2="1167"/><line x1="947.0" y1="1186.5" x2="947.0" y2="1192"/>
</g>
<g font-size="35.5" text-anchor="middle">
<text x="733.7" y="1235">-6</text>
<text x="776.6" y="1235">-4</text>
<text x="819.5" y="1235">-2</text>
<text x="862.4" y="1235">0</text>
<text x="905.3" y="1235">2</text>
<text x="947.2" y="1235">4</text>
</g>
<text x="555" y="1214.8" font-size="35.5">Z-score</text>
</svg>
</body></html>
